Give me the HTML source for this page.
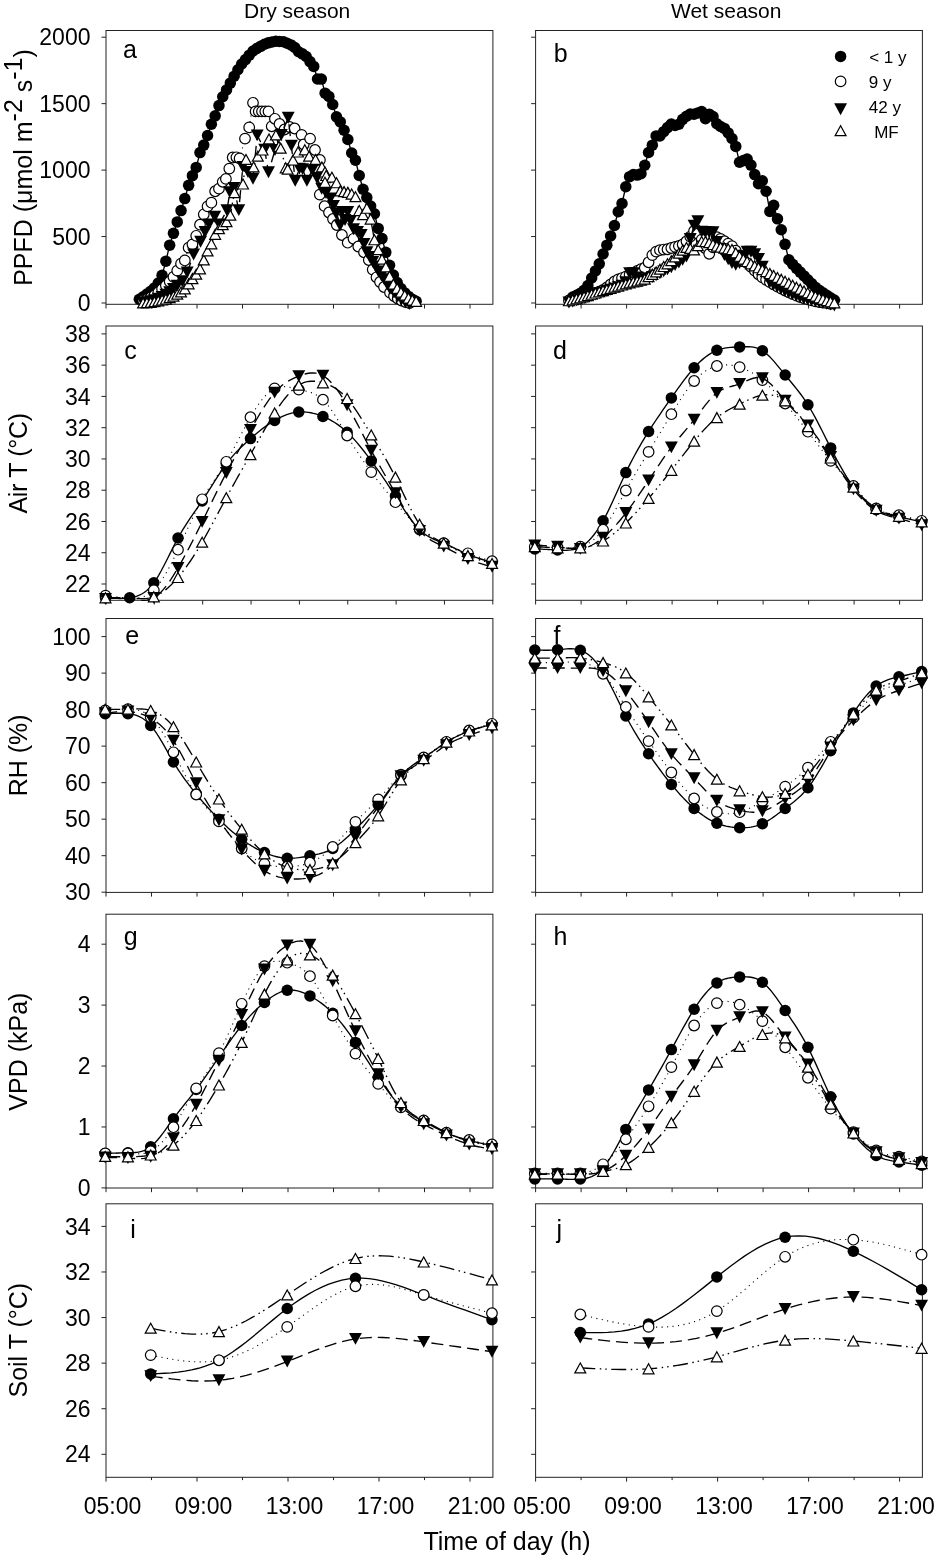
<!DOCTYPE html>
<html><head><meta charset="utf-8"><style>
html,body{margin:0;padding:0;background:#fff;overflow:hidden;}
svg{display:block;will-change:transform;}
text{font-family:"Liberation Sans",sans-serif;fill:#000;}
.t{font-size:23px;}
.ti{font-size:21px;}
.xl{font-size:25px;}
.yl{font-size:25px;}
.pl{font-size:25px;}
.lg{font-size:17px;}
</style></head><body>
<svg width="936" height="1556" viewBox="0 0 936 1556">
<rect width="936" height="1556" fill="#fff"/>
<rect x="106" y="30.5" width="386.9" height="273.8" fill="none" stroke="#222" stroke-width="1"/>
<line x1="101.5" y1="303" x2="106" y2="303" stroke="#222" stroke-width="1"/>
<line x1="101.5" y1="236.55" x2="106" y2="236.55" stroke="#222" stroke-width="1"/>
<line x1="101.5" y1="170.1" x2="106" y2="170.1" stroke="#222" stroke-width="1"/>
<line x1="101.5" y1="103.65" x2="106" y2="103.65" stroke="#222" stroke-width="1"/>
<line x1="101.5" y1="37.2" x2="106" y2="37.2" stroke="#222" stroke-width="1"/>
<line x1="106" y1="304.3" x2="106" y2="308.5" stroke="#222" stroke-width="1"/>
<line x1="151.5" y1="304.3" x2="151.5" y2="308.5" stroke="#222" stroke-width="1"/>
<line x1="197" y1="304.3" x2="197" y2="308.5" stroke="#222" stroke-width="1"/>
<line x1="242.5" y1="304.3" x2="242.5" y2="308.5" stroke="#222" stroke-width="1"/>
<line x1="288" y1="304.3" x2="288" y2="308.5" stroke="#222" stroke-width="1"/>
<line x1="333.5" y1="304.3" x2="333.5" y2="308.5" stroke="#222" stroke-width="1"/>
<line x1="379" y1="304.3" x2="379" y2="308.5" stroke="#222" stroke-width="1"/>
<line x1="424.5" y1="304.3" x2="424.5" y2="308.5" stroke="#222" stroke-width="1"/>
<line x1="470" y1="304.3" x2="470" y2="308.5" stroke="#222" stroke-width="1"/>
<rect x="535.6" y="30.5" width="386.8" height="273.8" fill="none" stroke="#222" stroke-width="1"/>
<line x1="531.1" y1="303" x2="535.6" y2="303" stroke="#222" stroke-width="1"/>
<line x1="531.1" y1="236.55" x2="535.6" y2="236.55" stroke="#222" stroke-width="1"/>
<line x1="531.1" y1="170.1" x2="535.6" y2="170.1" stroke="#222" stroke-width="1"/>
<line x1="531.1" y1="103.65" x2="535.6" y2="103.65" stroke="#222" stroke-width="1"/>
<line x1="531.1" y1="37.2" x2="535.6" y2="37.2" stroke="#222" stroke-width="1"/>
<line x1="535.6" y1="304.3" x2="535.6" y2="308.5" stroke="#222" stroke-width="1"/>
<line x1="581.1" y1="304.3" x2="581.1" y2="308.5" stroke="#222" stroke-width="1"/>
<line x1="626.6" y1="304.3" x2="626.6" y2="308.5" stroke="#222" stroke-width="1"/>
<line x1="672.1" y1="304.3" x2="672.1" y2="308.5" stroke="#222" stroke-width="1"/>
<line x1="717.6" y1="304.3" x2="717.6" y2="308.5" stroke="#222" stroke-width="1"/>
<line x1="763.1" y1="304.3" x2="763.1" y2="308.5" stroke="#222" stroke-width="1"/>
<line x1="808.6" y1="304.3" x2="808.6" y2="308.5" stroke="#222" stroke-width="1"/>
<line x1="854.1" y1="304.3" x2="854.1" y2="308.5" stroke="#222" stroke-width="1"/>
<line x1="899.6" y1="304.3" x2="899.6" y2="308.5" stroke="#222" stroke-width="1"/>
<text x="90.5" y="311.1" text-anchor="end" class="t">0</text>
<text x="90.5" y="244.65" text-anchor="end" class="t">500</text>
<text x="90.5" y="178.2" text-anchor="end" class="t">1000</text>
<text x="90.5" y="111.75" text-anchor="end" class="t">1500</text>
<text x="90.5" y="45.3" text-anchor="end" class="t">2000</text>
<rect x="106" y="326" width="386.9" height="274.3" fill="none" stroke="#222" stroke-width="1"/>
<line x1="101.5" y1="584" x2="106" y2="584" stroke="#222" stroke-width="1"/>
<line x1="101.5" y1="552.74" x2="106" y2="552.74" stroke="#222" stroke-width="1"/>
<line x1="101.5" y1="521.48" x2="106" y2="521.48" stroke="#222" stroke-width="1"/>
<line x1="101.5" y1="490.21" x2="106" y2="490.21" stroke="#222" stroke-width="1"/>
<line x1="101.5" y1="458.95" x2="106" y2="458.95" stroke="#222" stroke-width="1"/>
<line x1="101.5" y1="427.69" x2="106" y2="427.69" stroke="#222" stroke-width="1"/>
<line x1="101.5" y1="396.42" x2="106" y2="396.42" stroke="#222" stroke-width="1"/>
<line x1="101.5" y1="365.16" x2="106" y2="365.16" stroke="#222" stroke-width="1"/>
<line x1="101.5" y1="333.9" x2="106" y2="333.9" stroke="#222" stroke-width="1"/>
<line x1="106" y1="600.3" x2="106" y2="604.5" stroke="#222" stroke-width="1"/>
<line x1="154.35" y1="600.3" x2="154.35" y2="604.5" stroke="#222" stroke-width="1"/>
<line x1="202.7" y1="600.3" x2="202.7" y2="604.5" stroke="#222" stroke-width="1"/>
<line x1="251.05" y1="600.3" x2="251.05" y2="604.5" stroke="#222" stroke-width="1"/>
<line x1="299.4" y1="600.3" x2="299.4" y2="604.5" stroke="#222" stroke-width="1"/>
<line x1="347.75" y1="600.3" x2="347.75" y2="604.5" stroke="#222" stroke-width="1"/>
<line x1="396.1" y1="600.3" x2="396.1" y2="604.5" stroke="#222" stroke-width="1"/>
<line x1="444.45" y1="600.3" x2="444.45" y2="604.5" stroke="#222" stroke-width="1"/>
<line x1="492.8" y1="600.3" x2="492.8" y2="604.5" stroke="#222" stroke-width="1"/>
<rect x="535.6" y="326" width="386.8" height="274.3" fill="none" stroke="#222" stroke-width="1"/>
<line x1="531.1" y1="584" x2="535.6" y2="584" stroke="#222" stroke-width="1"/>
<line x1="531.1" y1="552.74" x2="535.6" y2="552.74" stroke="#222" stroke-width="1"/>
<line x1="531.1" y1="521.48" x2="535.6" y2="521.48" stroke="#222" stroke-width="1"/>
<line x1="531.1" y1="490.21" x2="535.6" y2="490.21" stroke="#222" stroke-width="1"/>
<line x1="531.1" y1="458.95" x2="535.6" y2="458.95" stroke="#222" stroke-width="1"/>
<line x1="531.1" y1="427.69" x2="535.6" y2="427.69" stroke="#222" stroke-width="1"/>
<line x1="531.1" y1="396.42" x2="535.6" y2="396.42" stroke="#222" stroke-width="1"/>
<line x1="531.1" y1="365.16" x2="535.6" y2="365.16" stroke="#222" stroke-width="1"/>
<line x1="531.1" y1="333.9" x2="535.6" y2="333.9" stroke="#222" stroke-width="1"/>
<line x1="535.6" y1="600.3" x2="535.6" y2="604.5" stroke="#222" stroke-width="1"/>
<line x1="581.1" y1="600.3" x2="581.1" y2="604.5" stroke="#222" stroke-width="1"/>
<line x1="626.6" y1="600.3" x2="626.6" y2="604.5" stroke="#222" stroke-width="1"/>
<line x1="672.1" y1="600.3" x2="672.1" y2="604.5" stroke="#222" stroke-width="1"/>
<line x1="717.6" y1="600.3" x2="717.6" y2="604.5" stroke="#222" stroke-width="1"/>
<line x1="763.1" y1="600.3" x2="763.1" y2="604.5" stroke="#222" stroke-width="1"/>
<line x1="808.6" y1="600.3" x2="808.6" y2="604.5" stroke="#222" stroke-width="1"/>
<line x1="854.1" y1="600.3" x2="854.1" y2="604.5" stroke="#222" stroke-width="1"/>
<line x1="899.6" y1="600.3" x2="899.6" y2="604.5" stroke="#222" stroke-width="1"/>
<text x="90.5" y="592.1" text-anchor="end" class="t">22</text>
<text x="90.5" y="560.84" text-anchor="end" class="t">24</text>
<text x="90.5" y="529.58" text-anchor="end" class="t">26</text>
<text x="90.5" y="498.31" text-anchor="end" class="t">28</text>
<text x="90.5" y="467.05" text-anchor="end" class="t">30</text>
<text x="90.5" y="435.79" text-anchor="end" class="t">32</text>
<text x="90.5" y="404.52" text-anchor="end" class="t">34</text>
<text x="90.5" y="373.26" text-anchor="end" class="t">36</text>
<text x="90.5" y="342" text-anchor="end" class="t">38</text>
<rect x="106" y="618.5" width="386.9" height="273.9" fill="none" stroke="#222" stroke-width="1"/>
<line x1="101.5" y1="892.2" x2="106" y2="892.2" stroke="#222" stroke-width="1"/>
<line x1="101.5" y1="855.69" x2="106" y2="855.69" stroke="#222" stroke-width="1"/>
<line x1="101.5" y1="819.17" x2="106" y2="819.17" stroke="#222" stroke-width="1"/>
<line x1="101.5" y1="782.66" x2="106" y2="782.66" stroke="#222" stroke-width="1"/>
<line x1="101.5" y1="746.14" x2="106" y2="746.14" stroke="#222" stroke-width="1"/>
<line x1="101.5" y1="709.63" x2="106" y2="709.63" stroke="#222" stroke-width="1"/>
<line x1="101.5" y1="673.11" x2="106" y2="673.11" stroke="#222" stroke-width="1"/>
<line x1="101.5" y1="636.6" x2="106" y2="636.6" stroke="#222" stroke-width="1"/>
<line x1="106" y1="892.4" x2="106" y2="896.6" stroke="#222" stroke-width="1"/>
<line x1="151.5" y1="892.4" x2="151.5" y2="896.6" stroke="#222" stroke-width="1"/>
<line x1="197" y1="892.4" x2="197" y2="896.6" stroke="#222" stroke-width="1"/>
<line x1="242.5" y1="892.4" x2="242.5" y2="896.6" stroke="#222" stroke-width="1"/>
<line x1="288" y1="892.4" x2="288" y2="896.6" stroke="#222" stroke-width="1"/>
<line x1="333.5" y1="892.4" x2="333.5" y2="896.6" stroke="#222" stroke-width="1"/>
<line x1="379" y1="892.4" x2="379" y2="896.6" stroke="#222" stroke-width="1"/>
<line x1="424.5" y1="892.4" x2="424.5" y2="896.6" stroke="#222" stroke-width="1"/>
<line x1="470" y1="892.4" x2="470" y2="896.6" stroke="#222" stroke-width="1"/>
<rect x="535.6" y="618.5" width="386.8" height="273.9" fill="none" stroke="#222" stroke-width="1"/>
<line x1="531.1" y1="892.2" x2="535.6" y2="892.2" stroke="#222" stroke-width="1"/>
<line x1="531.1" y1="855.69" x2="535.6" y2="855.69" stroke="#222" stroke-width="1"/>
<line x1="531.1" y1="819.17" x2="535.6" y2="819.17" stroke="#222" stroke-width="1"/>
<line x1="531.1" y1="782.66" x2="535.6" y2="782.66" stroke="#222" stroke-width="1"/>
<line x1="531.1" y1="746.14" x2="535.6" y2="746.14" stroke="#222" stroke-width="1"/>
<line x1="531.1" y1="709.63" x2="535.6" y2="709.63" stroke="#222" stroke-width="1"/>
<line x1="531.1" y1="673.11" x2="535.6" y2="673.11" stroke="#222" stroke-width="1"/>
<line x1="531.1" y1="636.6" x2="535.6" y2="636.6" stroke="#222" stroke-width="1"/>
<line x1="535.6" y1="892.4" x2="535.6" y2="896.6" stroke="#222" stroke-width="1"/>
<line x1="581.1" y1="892.4" x2="581.1" y2="896.6" stroke="#222" stroke-width="1"/>
<line x1="626.6" y1="892.4" x2="626.6" y2="896.6" stroke="#222" stroke-width="1"/>
<line x1="672.1" y1="892.4" x2="672.1" y2="896.6" stroke="#222" stroke-width="1"/>
<line x1="717.6" y1="892.4" x2="717.6" y2="896.6" stroke="#222" stroke-width="1"/>
<line x1="763.1" y1="892.4" x2="763.1" y2="896.6" stroke="#222" stroke-width="1"/>
<line x1="808.6" y1="892.4" x2="808.6" y2="896.6" stroke="#222" stroke-width="1"/>
<line x1="854.1" y1="892.4" x2="854.1" y2="896.6" stroke="#222" stroke-width="1"/>
<line x1="899.6" y1="892.4" x2="899.6" y2="896.6" stroke="#222" stroke-width="1"/>
<text x="90.5" y="900.3" text-anchor="end" class="t">30</text>
<text x="90.5" y="863.79" text-anchor="end" class="t">40</text>
<text x="90.5" y="827.27" text-anchor="end" class="t">50</text>
<text x="90.5" y="790.76" text-anchor="end" class="t">60</text>
<text x="90.5" y="754.24" text-anchor="end" class="t">70</text>
<text x="90.5" y="717.73" text-anchor="end" class="t">80</text>
<text x="90.5" y="681.21" text-anchor="end" class="t">90</text>
<text x="90.5" y="644.7" text-anchor="end" class="t">100</text>
<rect x="106" y="914.2" width="386.9" height="273.8" fill="none" stroke="#222" stroke-width="1"/>
<line x1="101.5" y1="1187.9" x2="106" y2="1187.9" stroke="#222" stroke-width="1"/>
<line x1="101.5" y1="1126.98" x2="106" y2="1126.98" stroke="#222" stroke-width="1"/>
<line x1="101.5" y1="1066.05" x2="106" y2="1066.05" stroke="#222" stroke-width="1"/>
<line x1="101.5" y1="1005.12" x2="106" y2="1005.12" stroke="#222" stroke-width="1"/>
<line x1="101.5" y1="944.2" x2="106" y2="944.2" stroke="#222" stroke-width="1"/>
<line x1="106" y1="1188" x2="106" y2="1192.2" stroke="#222" stroke-width="1"/>
<line x1="151.5" y1="1188" x2="151.5" y2="1192.2" stroke="#222" stroke-width="1"/>
<line x1="197" y1="1188" x2="197" y2="1192.2" stroke="#222" stroke-width="1"/>
<line x1="242.5" y1="1188" x2="242.5" y2="1192.2" stroke="#222" stroke-width="1"/>
<line x1="288" y1="1188" x2="288" y2="1192.2" stroke="#222" stroke-width="1"/>
<line x1="333.5" y1="1188" x2="333.5" y2="1192.2" stroke="#222" stroke-width="1"/>
<line x1="379" y1="1188" x2="379" y2="1192.2" stroke="#222" stroke-width="1"/>
<line x1="424.5" y1="1188" x2="424.5" y2="1192.2" stroke="#222" stroke-width="1"/>
<line x1="470" y1="1188" x2="470" y2="1192.2" stroke="#222" stroke-width="1"/>
<rect x="535.6" y="914.2" width="386.8" height="273.8" fill="none" stroke="#222" stroke-width="1"/>
<line x1="531.1" y1="1187.9" x2="535.6" y2="1187.9" stroke="#222" stroke-width="1"/>
<line x1="531.1" y1="1126.98" x2="535.6" y2="1126.98" stroke="#222" stroke-width="1"/>
<line x1="531.1" y1="1066.05" x2="535.6" y2="1066.05" stroke="#222" stroke-width="1"/>
<line x1="531.1" y1="1005.12" x2="535.6" y2="1005.12" stroke="#222" stroke-width="1"/>
<line x1="531.1" y1="944.2" x2="535.6" y2="944.2" stroke="#222" stroke-width="1"/>
<line x1="535.6" y1="1188" x2="535.6" y2="1192.2" stroke="#222" stroke-width="1"/>
<line x1="581.1" y1="1188" x2="581.1" y2="1192.2" stroke="#222" stroke-width="1"/>
<line x1="626.6" y1="1188" x2="626.6" y2="1192.2" stroke="#222" stroke-width="1"/>
<line x1="672.1" y1="1188" x2="672.1" y2="1192.2" stroke="#222" stroke-width="1"/>
<line x1="717.6" y1="1188" x2="717.6" y2="1192.2" stroke="#222" stroke-width="1"/>
<line x1="763.1" y1="1188" x2="763.1" y2="1192.2" stroke="#222" stroke-width="1"/>
<line x1="808.6" y1="1188" x2="808.6" y2="1192.2" stroke="#222" stroke-width="1"/>
<line x1="854.1" y1="1188" x2="854.1" y2="1192.2" stroke="#222" stroke-width="1"/>
<line x1="899.6" y1="1188" x2="899.6" y2="1192.2" stroke="#222" stroke-width="1"/>
<text x="90.5" y="1196" text-anchor="end" class="t">0</text>
<text x="90.5" y="1135.08" text-anchor="end" class="t">1</text>
<text x="90.5" y="1074.15" text-anchor="end" class="t">2</text>
<text x="90.5" y="1013.23" text-anchor="end" class="t">3</text>
<text x="90.5" y="952.3" text-anchor="end" class="t">4</text>
<rect x="106" y="1203.8" width="386.9" height="273.5" fill="none" stroke="#222" stroke-width="1"/>
<line x1="101.5" y1="1454.3" x2="106" y2="1454.3" stroke="#222" stroke-width="1"/>
<line x1="101.5" y1="1408.72" x2="106" y2="1408.72" stroke="#222" stroke-width="1"/>
<line x1="101.5" y1="1363.14" x2="106" y2="1363.14" stroke="#222" stroke-width="1"/>
<line x1="101.5" y1="1317.56" x2="106" y2="1317.56" stroke="#222" stroke-width="1"/>
<line x1="101.5" y1="1271.98" x2="106" y2="1271.98" stroke="#222" stroke-width="1"/>
<line x1="101.5" y1="1226.4" x2="106" y2="1226.4" stroke="#222" stroke-width="1"/>
<line x1="106" y1="1477.3" x2="106" y2="1481.6" stroke="#222" stroke-width="1"/>
<line x1="151.5" y1="1477.3" x2="151.5" y2="1480.1" stroke="#222" stroke-width="1"/>
<line x1="197" y1="1477.3" x2="197" y2="1481.6" stroke="#222" stroke-width="1"/>
<line x1="242.5" y1="1477.3" x2="242.5" y2="1480.1" stroke="#222" stroke-width="1"/>
<line x1="288" y1="1477.3" x2="288" y2="1481.6" stroke="#222" stroke-width="1"/>
<line x1="333.5" y1="1477.3" x2="333.5" y2="1480.1" stroke="#222" stroke-width="1"/>
<line x1="379" y1="1477.3" x2="379" y2="1481.6" stroke="#222" stroke-width="1"/>
<line x1="424.5" y1="1477.3" x2="424.5" y2="1480.1" stroke="#222" stroke-width="1"/>
<line x1="470" y1="1477.3" x2="470" y2="1481.6" stroke="#222" stroke-width="1"/>
<rect x="535.6" y="1203.8" width="386.8" height="273.5" fill="none" stroke="#222" stroke-width="1"/>
<line x1="531.1" y1="1454.3" x2="535.6" y2="1454.3" stroke="#222" stroke-width="1"/>
<line x1="531.1" y1="1408.72" x2="535.6" y2="1408.72" stroke="#222" stroke-width="1"/>
<line x1="531.1" y1="1363.14" x2="535.6" y2="1363.14" stroke="#222" stroke-width="1"/>
<line x1="531.1" y1="1317.56" x2="535.6" y2="1317.56" stroke="#222" stroke-width="1"/>
<line x1="531.1" y1="1271.98" x2="535.6" y2="1271.98" stroke="#222" stroke-width="1"/>
<line x1="531.1" y1="1226.4" x2="535.6" y2="1226.4" stroke="#222" stroke-width="1"/>
<line x1="535.6" y1="1477.3" x2="535.6" y2="1481.6" stroke="#222" stroke-width="1"/>
<line x1="581.1" y1="1477.3" x2="581.1" y2="1480.1" stroke="#222" stroke-width="1"/>
<line x1="626.6" y1="1477.3" x2="626.6" y2="1481.6" stroke="#222" stroke-width="1"/>
<line x1="672.1" y1="1477.3" x2="672.1" y2="1480.1" stroke="#222" stroke-width="1"/>
<line x1="717.6" y1="1477.3" x2="717.6" y2="1481.6" stroke="#222" stroke-width="1"/>
<line x1="763.1" y1="1477.3" x2="763.1" y2="1480.1" stroke="#222" stroke-width="1"/>
<line x1="808.6" y1="1477.3" x2="808.6" y2="1481.6" stroke="#222" stroke-width="1"/>
<line x1="854.1" y1="1477.3" x2="854.1" y2="1480.1" stroke="#222" stroke-width="1"/>
<line x1="899.6" y1="1477.3" x2="899.6" y2="1481.6" stroke="#222" stroke-width="1"/>
<text x="90.5" y="1462.4" text-anchor="end" class="t">24</text>
<text x="90.5" y="1416.82" text-anchor="end" class="t">26</text>
<text x="90.5" y="1371.24" text-anchor="end" class="t">28</text>
<text x="90.5" y="1325.66" text-anchor="end" class="t">30</text>
<text x="90.5" y="1280.08" text-anchor="end" class="t">32</text>
<text x="90.5" y="1234.5" text-anchor="end" class="t">34</text>
<text x="112.5" y="1513.5" text-anchor="middle" class="t">05:00</text>
<text x="203.5" y="1513.5" text-anchor="middle" class="t">09:00</text>
<text x="294.5" y="1513.5" text-anchor="middle" class="t">13:00</text>
<text x="385.5" y="1513.5" text-anchor="middle" class="t">17:00</text>
<text x="476.5" y="1513.5" text-anchor="middle" class="t">21:00</text>
<text x="542.1" y="1513.5" text-anchor="middle" class="t">05:00</text>
<text x="633.1" y="1513.5" text-anchor="middle" class="t">09:00</text>
<text x="724.1" y="1513.5" text-anchor="middle" class="t">13:00</text>
<text x="815.1" y="1513.5" text-anchor="middle" class="t">17:00</text>
<text x="906.1" y="1513.5" text-anchor="middle" class="t">21:00</text>
<text x="297.2" y="18" text-anchor="middle" class="ti">Dry season</text>
<text x="726.2" y="18" text-anchor="middle" class="ti">Wet season</text>
<text x="507" y="1549.8" text-anchor="middle" class="xl">Time of day (h)</text>
<text transform="translate(32,167.5) rotate(-90)" text-anchor="middle" class="yl">PPFD (μmol m<tspan dy="-10">-2</tspan><tspan dy="10"> s</tspan><tspan dy="-10">-1</tspan><tspan dy="10">)</tspan></text>
<text transform="translate(26.8,463.4) rotate(-90)" text-anchor="middle" class="yl" letter-spacing="-0.33">Air T (°C)</text>
<text transform="translate(26.8,755.3) rotate(-90)" text-anchor="middle" class="yl">RH (%)</text>
<text transform="translate(26.8,1051.6) rotate(-90)" text-anchor="middle" class="yl">VPD (kPa)</text>
<text transform="translate(26.8,1340.2) rotate(-90)" text-anchor="middle" class="yl">Soil T (°C)</text>
<text x="123" y="57.6" class="pl">a</text>
<text x="553.8" y="61.5" class="pl">b</text>
<text x="124.2" y="358.7" class="pl">c</text>
<text x="552.9" y="358.7" class="pl">d</text>
<text x="125.3" y="643.6" class="pl">e</text>
<text x="553.5" y="644" class="pl">f</text>
<text x="123.8" y="945" class="pl">g</text>
<text x="553.5" y="944.9" class="pl">h</text>
<text x="130.3" y="1237.6" class="pl">i</text>
<text x="556.6" y="1237.6" class="pl">j</text>
<path d="M105.5 597.8 L107.92 597.97 L110.33 598.13 L112.75 598.27 L115.16 598.38 L117.58 598.44 L120 598.46 L122.41 598.41 L124.83 598.29 L127.24 598.09 L129.66 597.8 L132.08 597.4 L134.49 596.86 L136.91 596.13 L139.32 595.19 L141.74 593.99 L144.16 592.5 L146.57 590.67 L148.99 588.47 L151.4 585.86 L153.82 582.8 L156.24 579.27 L158.65 575.33 L161.07 571.05 L163.48 566.52 L165.9 561.79 L168.32 556.95 L170.73 552.08 L173.15 547.25 L175.56 542.53 L177.98 538 L180.4 533.72 L182.81 529.66 L185.23 525.8 L187.64 522.09 L190.06 518.49 L192.48 514.97 L194.89 511.49 L197.31 508.01 L199.72 504.49 L202.14 500.9 L204.56 497.21 L206.97 493.44 L209.39 489.62 L211.8 485.78 L214.22 481.95 L216.64 478.16 L219.05 474.44 L221.47 470.82 L223.88 467.33 L226.3 464 L228.72 460.86 L231.13 457.89 L233.55 455.08 L235.96 452.42 L238.38 449.89 L240.8 447.47 L243.21 445.14 L245.63 442.9 L248.04 440.73 L250.46 438.6 L252.88 436.51 L255.29 434.47 L257.71 432.47 L260.12 430.53 L262.54 428.65 L264.96 426.83 L267.37 425.1 L269.79 423.44 L272.2 421.87 L274.62 420.4 L277.04 419.03 L279.45 417.77 L281.87 416.61 L284.28 415.57 L286.7 414.66 L289.12 413.86 L291.53 413.19 L293.95 412.66 L296.36 412.26 L298.78 412 L301.2 411.89 L303.61 411.91 L306.03 412.07 L308.44 412.36 L310.86 412.77 L313.28 413.3 L315.69 413.95 L318.11 414.7 L320.52 415.55 L322.94 416.5 L325.36 417.54 L327.77 418.69 L330.19 419.93 L332.6 421.29 L335.02 422.77 L337.44 424.38 L339.85 426.12 L342.27 427.99 L344.68 430.02 L347.1 432.2 L349.52 434.54 L351.93 437.02 L354.35 439.65 L356.76 442.4 L359.18 445.26 L361.6 448.23 L364.01 451.29 L366.43 454.43 L368.84 457.64 L371.26 460.9 L373.68 464.21 L376.09 467.57 L378.51 470.97 L380.92 474.41 L383.34 477.91 L385.76 481.45 L388.17 485.04 L390.59 488.68 L393 492.36 L395.42 496.1 L397.84 499.88 L400.25 503.67 L402.67 507.43 L405.08 511.13 L407.5 514.72 L409.92 518.18 L412.33 521.45 L414.75 524.5 L417.16 527.3 L419.58 529.8 L422 531.98 L424.41 533.87 L426.83 535.5 L429.24 536.92 L431.66 538.17 L434.08 539.28 L436.49 540.3 L438.91 541.27 L441.32 542.22 L443.74 543.2 L446.16 544.24 L448.57 545.33 L450.99 546.46 L453.4 547.62 L455.82 548.8 L458.24 549.97 L460.65 551.13 L463.07 552.26 L465.48 553.36 L467.9 554.4 L470.32 555.38 L472.73 556.3 L475.15 557.16 L477.56 557.98 L479.98 558.76 L482.4 559.51 L484.81 560.23 L487.23 560.93 L489.64 561.62 L492.06 562.3" fill="none" stroke="#000" stroke-width="1.35"/>
<circle cx="105.5" cy="597.8" r="5.75" fill="#000"/>
<circle cx="129.66" cy="597.8" r="5.75" fill="#000"/>
<circle cx="153.82" cy="582.8" r="5.75" fill="#000"/>
<circle cx="177.98" cy="538" r="5.75" fill="#000"/>
<circle cx="202.14" cy="500.9" r="5.75" fill="#000"/>
<circle cx="226.3" cy="464" r="5.75" fill="#000"/>
<circle cx="250.46" cy="438.6" r="5.75" fill="#000"/>
<circle cx="274.62" cy="420.4" r="5.75" fill="#000"/>
<circle cx="298.78" cy="412" r="5.75" fill="#000"/>
<circle cx="322.94" cy="416.5" r="5.75" fill="#000"/>
<circle cx="347.1" cy="432.2" r="5.75" fill="#000"/>
<circle cx="371.26" cy="460.9" r="5.75" fill="#000"/>
<circle cx="395.42" cy="496.1" r="5.75" fill="#000"/>
<circle cx="419.58" cy="529.8" r="5.75" fill="#000"/>
<circle cx="443.74" cy="543.2" r="5.75" fill="#000"/>
<circle cx="467.9" cy="554.4" r="5.75" fill="#000"/>
<circle cx="492.06" cy="562.3" r="5.75" fill="#000"/>
<path d="M105.5 595.6 L107.92 595.9 L110.33 596.2 L112.75 596.49 L115.16 596.77 L117.58 597.03 L120 597.27 L122.41 597.5 L124.83 597.7 L127.24 597.86 L129.66 598 L132.08 598.09 L134.49 598.11 L136.91 598 L139.32 597.73 L141.74 597.25 L144.16 596.52 L146.57 595.51 L148.99 594.16 L151.4 592.44 L153.82 590.3 L156.24 587.71 L158.65 584.71 L161.07 581.31 L163.48 577.56 L165.9 573.5 L168.32 569.16 L170.73 564.57 L173.15 559.77 L175.56 554.8 L177.98 549.7 L180.4 544.49 L182.81 539.23 L185.23 533.93 L187.64 528.65 L190.06 523.42 L192.48 518.27 L194.89 513.25 L197.31 508.39 L199.72 503.73 L202.14 499.3 L204.56 495.13 L206.97 491.19 L209.39 487.43 L211.8 483.79 L214.22 480.22 L216.64 476.68 L219.05 473.12 L221.47 469.49 L223.88 465.73 L226.3 461.8 L228.72 457.66 L231.13 453.35 L233.55 448.89 L235.96 444.33 L238.38 439.72 L240.8 435.09 L243.21 430.48 L245.63 425.93 L248.04 421.49 L250.46 417.2 L252.88 413.09 L255.29 409.19 L257.71 405.53 L260.12 402.12 L262.54 398.99 L264.96 396.17 L267.37 393.67 L269.79 391.53 L272.2 389.77 L274.62 388.4 L277.04 387.44 L279.45 386.86 L281.87 386.6 L284.28 386.61 L286.7 386.85 L289.12 387.25 L291.53 387.78 L293.95 388.38 L296.36 389 L298.78 389.6 L301.2 390.13 L303.61 390.64 L306.03 391.17 L308.44 391.77 L310.86 392.49 L313.28 393.39 L315.69 394.51 L318.11 395.9 L320.52 397.61 L322.94 399.7 L325.36 402.19 L327.77 405.06 L330.19 408.25 L332.6 411.72 L335.02 415.41 L337.44 419.28 L339.85 423.27 L342.27 427.34 L344.68 431.43 L347.1 435.5 L349.52 439.5 L351.93 443.43 L354.35 447.29 L356.76 451.07 L359.18 454.77 L361.6 458.4 L364.01 461.94 L366.43 465.41 L368.84 468.79 L371.26 472.1 L373.68 475.32 L376.09 478.48 L378.51 481.57 L380.92 484.6 L383.34 487.59 L385.76 490.55 L388.17 493.48 L390.59 496.39 L393 499.29 L395.42 502.2 L397.84 505.11 L400.25 508.02 L402.67 510.9 L405.08 513.73 L407.5 516.5 L409.92 519.18 L412.33 521.77 L414.75 524.22 L417.16 526.54 L419.58 528.7 L422 530.68 L424.41 532.51 L426.83 534.18 L429.24 535.73 L431.66 537.16 L434.08 538.49 L436.49 539.75 L438.91 540.94 L441.32 542.09 L443.74 543.2 L446.16 544.3 L448.57 545.38 L450.99 546.45 L453.4 547.49 L455.82 548.52 L458.24 549.53 L460.65 550.51 L463.07 551.47 L465.48 552.4 L467.9 553.3 L470.32 554.17 L472.73 555.02 L475.15 555.85 L477.56 556.65 L479.98 557.43 L482.4 558.21 L484.81 558.96 L487.23 559.71 L489.64 560.46 L492.06 561.2" fill="none" stroke="#000" stroke-width="1.1" stroke-dasharray="1.1 4.4"/>
<circle cx="105.5" cy="595.6" r="5.3" fill="#fff" stroke="#000" stroke-width="1.2"/>
<circle cx="153.82" cy="590.3" r="5.3" fill="#fff" stroke="#000" stroke-width="1.2"/>
<circle cx="177.98" cy="549.7" r="5.3" fill="#fff" stroke="#000" stroke-width="1.2"/>
<circle cx="202.14" cy="499.3" r="5.3" fill="#fff" stroke="#000" stroke-width="1.2"/>
<circle cx="226.3" cy="461.8" r="5.3" fill="#fff" stroke="#000" stroke-width="1.2"/>
<circle cx="250.46" cy="417.2" r="5.3" fill="#fff" stroke="#000" stroke-width="1.2"/>
<circle cx="274.62" cy="388.4" r="5.3" fill="#fff" stroke="#000" stroke-width="1.2"/>
<circle cx="298.78" cy="389.6" r="5.3" fill="#fff" stroke="#000" stroke-width="1.2"/>
<circle cx="322.94" cy="399.7" r="5.3" fill="#fff" stroke="#000" stroke-width="1.2"/>
<circle cx="347.1" cy="435.5" r="5.3" fill="#fff" stroke="#000" stroke-width="1.2"/>
<circle cx="371.26" cy="472.1" r="5.3" fill="#fff" stroke="#000" stroke-width="1.2"/>
<circle cx="395.42" cy="502.2" r="5.3" fill="#fff" stroke="#000" stroke-width="1.2"/>
<circle cx="419.58" cy="528.7" r="5.3" fill="#fff" stroke="#000" stroke-width="1.2"/>
<circle cx="443.74" cy="543.2" r="5.3" fill="#fff" stroke="#000" stroke-width="1.2"/>
<circle cx="467.9" cy="553.3" r="5.3" fill="#fff" stroke="#000" stroke-width="1.2"/>
<circle cx="492.06" cy="561.2" r="5.3" fill="#fff" stroke="#000" stroke-width="1.2"/>
<path d="M105.5 598.9 L107.92 598.68 L110.33 598.48 L112.75 598.3 L115.16 598.14 L117.58 598.04 L120 597.98 L122.41 597.99 L124.83 598.07 L127.24 598.24 L129.66 598.5 L132.08 598.86 L134.49 599.27 L136.91 599.68 L139.32 600.03 L141.74 600.27 L144.16 600.34 L146.57 600.2 L148.99 599.78 L151.4 599.03 L153.82 597.9 L156.24 596.35 L158.65 594.39 L161.07 592.05 L163.48 589.38 L165.9 586.39 L168.32 583.12 L170.73 579.61 L173.15 575.88 L175.56 571.97 L177.98 567.9 L180.4 563.71 L182.81 559.4 L185.23 555 L187.64 550.49 L190.06 545.9 L192.48 541.23 L194.89 536.48 L197.31 531.67 L199.72 526.81 L202.14 521.9 L204.56 516.95 L206.97 511.98 L209.39 507 L211.8 502.02 L214.22 497.05 L216.64 492.12 L219.05 487.24 L221.47 482.41 L223.88 477.66 L226.3 473 L228.72 468.44 L231.13 463.96 L233.55 459.57 L235.96 455.24 L238.38 450.97 L240.8 446.73 L243.21 442.53 L245.63 438.35 L248.04 434.18 L250.46 430 L252.88 425.81 L255.29 421.64 L257.71 417.51 L260.12 413.46 L262.54 409.52 L264.96 405.73 L267.37 402.1 L269.79 398.69 L272.2 395.51 L274.62 392.6 L277.04 389.98 L279.45 387.64 L281.87 385.56 L284.28 383.71 L286.7 382.06 L289.12 380.59 L291.53 379.29 L293.95 378.12 L296.36 377.07 L298.78 376.1 L301.2 375.21 L303.61 374.41 L306.03 373.75 L308.44 373.26 L310.86 372.96 L313.28 372.89 L315.69 373.09 L318.11 373.58 L320.52 374.41 L322.94 375.6 L325.36 377.18 L327.77 379.13 L330.19 381.43 L332.6 384.06 L335.02 386.99 L337.44 390.19 L339.85 393.65 L342.27 397.34 L344.68 401.23 L347.1 405.3 L349.52 409.53 L351.93 413.89 L354.35 418.36 L356.76 422.91 L359.18 427.53 L361.6 432.17 L364.01 436.83 L366.43 441.47 L368.84 446.06 L371.26 450.6 L373.68 455.05 L376.09 459.43 L378.51 463.74 L380.92 468 L383.34 472.22 L385.76 476.42 L388.17 480.6 L390.59 484.79 L393 488.98 L395.42 493.2 L397.84 497.45 L400.25 501.69 L402.67 505.9 L405.08 510.03 L407.5 514.03 L409.92 517.88 L412.33 521.53 L414.75 524.94 L417.16 528.08 L419.58 530.9 L422 533.38 L424.41 535.55 L426.83 537.45 L429.24 539.11 L431.66 540.59 L434.08 541.92 L436.49 543.14 L438.91 544.31 L441.32 545.44 L443.74 546.6 L446.16 547.81 L448.57 549.06 L450.99 550.34 L453.4 551.65 L455.82 552.95 L458.24 554.24 L460.65 555.51 L463.07 556.73 L465.48 557.9 L467.9 559 L470.32 560.02 L472.73 560.96 L475.15 561.84 L477.56 562.66 L479.98 563.43 L482.4 564.15 L484.81 564.84 L487.23 565.51 L489.64 566.16 L492.06 566.8" fill="none" stroke="#000" stroke-width="1.35" stroke-dasharray="12 6"/>
<path d="M99.05 592.95H111.95L105.5 604.85Z" fill="#000"/>
<path d="M147.37 591.95H160.27L153.82 603.85Z" fill="#000"/>
<path d="M171.53 561.95H184.43L177.98 573.85Z" fill="#000"/>
<path d="M195.69 515.95H208.59L202.14 527.85Z" fill="#000"/>
<path d="M219.85 467.05H232.75L226.3 478.95Z" fill="#000"/>
<path d="M244.01 424.05H256.91L250.46 435.95Z" fill="#000"/>
<path d="M268.17 386.65H281.07L274.62 398.55Z" fill="#000"/>
<path d="M292.33 370.15H305.23L298.78 382.05Z" fill="#000"/>
<path d="M316.49 369.65H329.39L322.94 381.55Z" fill="#000"/>
<path d="M340.65 399.35H353.55L347.1 411.25Z" fill="#000"/>
<path d="M364.81 444.65H377.71L371.26 456.55Z" fill="#000"/>
<path d="M388.97 487.25H401.87L395.42 499.15Z" fill="#000"/>
<path d="M413.13 524.95H426.03L419.58 536.85Z" fill="#000"/>
<path d="M437.29 540.65H450.19L443.74 552.55Z" fill="#000"/>
<path d="M461.45 553.05H474.35L467.9 564.95Z" fill="#000"/>
<path d="M485.61 560.85H498.51L492.06 572.75Z" fill="#000"/>
<path d="M105.5 597.8 L107.92 597.75 L110.33 597.71 L112.75 597.68 L115.16 597.66 L117.58 597.65 L120 597.66 L122.41 597.7 L124.83 597.77 L127.24 597.87 L129.66 598 L132.08 598.17 L134.49 598.35 L136.91 598.51 L139.32 598.63 L141.74 598.67 L144.16 598.62 L146.57 598.43 L148.99 598.08 L151.4 597.55 L153.82 596.8 L156.24 595.81 L158.65 594.59 L161.07 593.15 L163.48 591.48 L165.9 589.61 L168.32 587.55 L170.73 585.29 L173.15 582.86 L175.56 580.26 L177.98 577.5 L180.4 574.59 L182.81 571.53 L185.23 568.33 L187.64 564.98 L190.06 561.5 L192.48 557.89 L194.89 554.15 L197.31 550.29 L199.72 546.3 L202.14 542.2 L204.56 537.98 L206.97 533.67 L209.39 529.28 L211.8 524.82 L214.22 520.32 L216.64 515.78 L219.05 511.24 L221.47 506.7 L223.88 502.18 L226.3 497.7 L228.72 493.27 L231.13 488.89 L233.55 484.55 L235.96 480.24 L238.38 475.95 L240.8 471.68 L243.21 467.42 L245.63 463.16 L248.04 458.89 L250.46 454.6 L252.88 450.29 L255.29 445.98 L257.71 441.67 L260.12 437.38 L262.54 433.13 L264.96 428.94 L267.37 424.81 L269.79 420.77 L272.2 416.83 L274.62 413 L277.04 409.31 L279.45 405.76 L281.87 402.39 L284.28 399.2 L286.7 396.22 L289.12 393.47 L291.53 390.96 L293.95 388.72 L296.36 386.76 L298.78 385.1 L301.2 383.76 L303.61 382.72 L306.03 381.96 L308.44 381.46 L310.86 381.21 L313.28 381.17 L315.69 381.33 L318.11 381.67 L320.52 382.17 L322.94 382.8 L325.36 383.56 L327.77 384.45 L330.19 385.49 L332.6 386.71 L335.02 388.1 L337.44 389.71 L339.85 391.53 L342.27 393.59 L344.68 395.91 L347.1 398.5 L349.52 401.37 L351.93 404.5 L354.35 407.86 L356.76 411.41 L359.18 415.11 L361.6 418.95 L364.01 422.88 L366.43 426.87 L368.84 430.88 L371.26 434.9 L373.68 438.89 L376.09 442.86 L378.51 446.85 L380.92 450.87 L383.34 454.96 L385.76 459.12 L388.17 463.4 L390.59 467.8 L393 472.36 L395.42 477.1 L397.84 482.03 L400.25 487.09 L402.67 492.22 L405.08 497.34 L407.5 502.4 L409.92 507.31 L412.33 512.02 L414.75 516.45 L417.16 520.53 L419.58 524.2 L422 527.41 L424.41 530.18 L426.83 532.58 L429.24 534.66 L431.66 536.46 L434.08 538.04 L436.49 539.45 L438.91 540.75 L441.32 541.98 L443.74 543.2 L446.16 544.45 L448.57 545.73 L450.99 547.03 L453.4 548.34 L455.82 549.64 L458.24 550.92 L460.65 552.16 L463.07 553.37 L465.48 554.52 L467.9 555.6 L470.32 556.61 L472.73 557.54 L475.15 558.41 L477.56 559.23 L479.98 560 L482.4 560.72 L484.81 561.42 L487.23 562.09 L489.64 562.75 L492.06 563.4" fill="none" stroke="#000" stroke-width="1.35" stroke-dasharray="15 4.5 1.5 4 1.5 4.5"/>
<path d="M100.05 602.8H110.95L105.5 592.8Z" fill="#fff" stroke="#000" stroke-width="1.2" stroke-linejoin="miter"/>
<path d="M148.37 601.8H159.27L153.82 591.8Z" fill="#fff" stroke="#000" stroke-width="1.2" stroke-linejoin="miter"/>
<path d="M172.53 582.5H183.43L177.98 572.5Z" fill="#fff" stroke="#000" stroke-width="1.2" stroke-linejoin="miter"/>
<path d="M196.69 547.2H207.59L202.14 537.2Z" fill="#fff" stroke="#000" stroke-width="1.2" stroke-linejoin="miter"/>
<path d="M220.85 502.7H231.75L226.3 492.7Z" fill="#fff" stroke="#000" stroke-width="1.2" stroke-linejoin="miter"/>
<path d="M245.01 459.6H255.91L250.46 449.6Z" fill="#fff" stroke="#000" stroke-width="1.2" stroke-linejoin="miter"/>
<path d="M269.17 418H280.07L274.62 408Z" fill="#fff" stroke="#000" stroke-width="1.2" stroke-linejoin="miter"/>
<path d="M293.33 390.1H304.23L298.78 380.1Z" fill="#fff" stroke="#000" stroke-width="1.2" stroke-linejoin="miter"/>
<path d="M317.49 387.8H328.39L322.94 377.8Z" fill="#fff" stroke="#000" stroke-width="1.2" stroke-linejoin="miter"/>
<path d="M341.65 403.5H352.55L347.1 393.5Z" fill="#fff" stroke="#000" stroke-width="1.2" stroke-linejoin="miter"/>
<path d="M365.81 439.9H376.71L371.26 429.9Z" fill="#fff" stroke="#000" stroke-width="1.2" stroke-linejoin="miter"/>
<path d="M389.97 482.1H400.87L395.42 472.1Z" fill="#fff" stroke="#000" stroke-width="1.2" stroke-linejoin="miter"/>
<path d="M414.13 529.2H425.03L419.58 519.2Z" fill="#fff" stroke="#000" stroke-width="1.2" stroke-linejoin="miter"/>
<path d="M438.29 548.2H449.19L443.74 538.2Z" fill="#fff" stroke="#000" stroke-width="1.2" stroke-linejoin="miter"/>
<path d="M462.45 560.6H473.35L467.9 550.6Z" fill="#fff" stroke="#000" stroke-width="1.2" stroke-linejoin="miter"/>
<path d="M486.61 568.4H497.51L492.06 558.4Z" fill="#fff" stroke="#000" stroke-width="1.2" stroke-linejoin="miter"/>
<path d="M534.8 548.9 L537.08 549 L539.35 549.1 L541.63 549.2 L543.9 549.3 L546.18 549.41 L548.46 549.51 L550.73 549.63 L553.01 549.75 L555.28 549.87 L557.56 550 L559.84 550.13 L562.11 550.24 L564.39 550.31 L566.66 550.29 L568.94 550.17 L571.22 549.92 L573.49 549.5 L575.77 548.89 L578.04 548.07 L580.32 547 L582.6 545.66 L584.87 544.04 L587.15 542.15 L589.42 539.97 L591.7 537.5 L593.98 534.75 L596.25 531.71 L598.53 528.37 L600.8 524.73 L603.08 520.8 L605.36 516.57 L607.63 512.09 L609.91 507.39 L612.18 502.54 L614.46 497.56 L616.74 492.52 L619.01 487.46 L621.29 482.42 L623.56 477.45 L625.84 472.6 L628.12 467.9 L630.39 463.36 L632.67 458.97 L634.94 454.71 L637.22 450.57 L639.5 446.56 L641.77 442.66 L644.05 438.85 L646.32 435.13 L648.6 431.5 L650.88 427.94 L653.15 424.44 L655.43 421 L657.7 417.61 L659.98 414.26 L662.26 410.95 L664.53 407.66 L666.81 404.4 L669.08 401.15 L671.36 397.9 L673.64 394.66 L675.91 391.43 L678.19 388.22 L680.46 385.06 L682.74 381.96 L685.02 378.92 L687.29 375.98 L689.57 373.13 L691.84 370.4 L694.12 367.8 L696.4 365.34 L698.67 363.03 L700.95 360.87 L703.22 358.87 L705.5 357.02 L707.78 355.34 L710.05 353.82 L712.33 352.47 L714.6 351.3 L716.88 350.3 L719.16 349.48 L721.43 348.82 L723.71 348.29 L725.98 347.89 L728.26 347.59 L730.54 347.37 L732.81 347.21 L735.09 347.09 L737.36 347 L739.64 346.9 L741.92 346.79 L744.19 346.71 L746.47 346.67 L748.74 346.71 L751.02 346.88 L753.3 347.2 L755.57 347.7 L757.85 348.43 L760.12 349.42 L762.4 350.7 L764.68 352.29 L766.95 354.17 L769.23 356.31 L771.5 358.65 L773.78 361.16 L776.06 363.82 L778.33 366.56 L780.61 369.37 L782.88 372.19 L785.16 375 L787.44 377.76 L789.71 380.49 L791.99 383.23 L794.26 385.99 L796.54 388.81 L798.82 391.72 L801.09 394.75 L803.37 397.92 L805.64 401.26 L807.92 404.8 L810.2 408.56 L812.47 412.53 L814.75 416.66 L817.02 420.94 L819.3 425.33 L821.58 429.8 L823.85 434.32 L826.13 438.86 L828.4 443.4 L830.68 447.9 L832.96 452.34 L835.23 456.69 L837.51 460.96 L839.78 465.12 L842.06 469.17 L844.34 473.08 L846.61 476.86 L848.89 480.47 L851.16 483.93 L853.44 487.2 L855.72 490.28 L857.99 493.18 L860.27 495.88 L862.54 498.39 L864.82 500.72 L867.1 502.86 L869.37 504.82 L871.65 506.59 L873.92 508.19 L876.2 509.6 L878.48 510.84 L880.75 511.91 L883.03 512.85 L885.3 513.66 L887.58 514.36 L889.86 514.99 L892.13 515.54 L894.41 516.05 L896.68 516.53 L898.96 517 L901.24 517.47 L903.51 517.96 L905.79 518.45 L908.06 518.94 L910.34 519.45 L912.62 519.95 L914.89 520.46 L917.17 520.97 L919.44 521.49 L921.72 522" fill="none" stroke="#000" stroke-width="1.35"/>
<circle cx="534.8" cy="548.9" r="5.75" fill="#000"/>
<circle cx="557.56" cy="550" r="5.75" fill="#000"/>
<circle cx="580.32" cy="547" r="5.75" fill="#000"/>
<circle cx="603.08" cy="520.8" r="5.75" fill="#000"/>
<circle cx="625.84" cy="472.6" r="5.75" fill="#000"/>
<circle cx="648.6" cy="431.5" r="5.75" fill="#000"/>
<circle cx="671.36" cy="397.9" r="5.75" fill="#000"/>
<circle cx="694.12" cy="367.8" r="5.75" fill="#000"/>
<circle cx="716.88" cy="350.3" r="5.75" fill="#000"/>
<circle cx="739.64" cy="346.9" r="5.75" fill="#000"/>
<circle cx="762.4" cy="350.7" r="5.75" fill="#000"/>
<circle cx="785.16" cy="375" r="5.75" fill="#000"/>
<circle cx="807.92" cy="404.8" r="5.75" fill="#000"/>
<circle cx="830.68" cy="447.9" r="5.75" fill="#000"/>
<circle cx="853.44" cy="487.2" r="5.75" fill="#000"/>
<circle cx="876.2" cy="509.6" r="5.75" fill="#000"/>
<circle cx="898.96" cy="517" r="5.75" fill="#000"/>
<circle cx="921.72" cy="522" r="5.75" fill="#000"/>
<path d="M534.8 546.6 L537.08 546.67 L539.35 546.74 L541.63 546.81 L543.9 546.88 L546.18 546.97 L548.46 547.05 L550.73 547.15 L553.01 547.26 L555.28 547.37 L557.56 547.5 L559.84 547.64 L562.11 547.77 L564.39 547.89 L566.66 547.96 L568.94 547.98 L571.22 547.92 L573.49 547.77 L575.77 547.51 L578.04 547.13 L580.32 546.6 L582.6 545.91 L584.87 545.04 L587.15 543.98 L589.42 542.71 L591.7 541.21 L593.98 539.48 L596.25 537.48 L598.53 535.22 L600.8 532.66 L603.08 529.8 L605.36 526.63 L607.63 523.18 L609.91 519.49 L612.18 515.61 L614.46 511.57 L616.74 507.41 L619.01 503.19 L621.29 498.93 L623.56 494.69 L625.84 490.5 L628.12 486.39 L630.39 482.37 L632.67 478.42 L634.94 474.53 L637.22 470.7 L639.5 466.9 L641.77 463.13 L644.05 459.38 L646.32 455.64 L648.6 451.9 L650.88 448.15 L653.15 444.38 L655.43 440.61 L657.7 436.83 L659.98 433.05 L662.26 429.27 L664.53 425.49 L666.81 421.72 L669.08 417.95 L671.36 414.2 L673.64 410.46 L675.91 406.76 L678.19 403.11 L680.46 399.54 L682.74 396.08 L685.02 392.73 L687.29 389.53 L689.57 386.49 L691.84 383.64 L694.12 381 L696.4 378.58 L698.67 376.39 L700.95 374.42 L703.22 372.65 L705.5 371.08 L707.78 369.71 L710.05 368.52 L712.33 367.51 L714.6 366.67 L716.88 366 L719.16 365.48 L721.43 365.12 L723.71 364.9 L725.98 364.83 L728.26 364.89 L730.54 365.08 L732.81 365.41 L735.09 365.85 L737.36 366.42 L739.64 367.1 L741.92 367.89 L744.19 368.79 L746.47 369.8 L748.74 370.93 L751.02 372.17 L753.3 373.52 L755.57 374.99 L757.85 376.58 L760.12 378.28 L762.4 380.1 L764.68 382.04 L766.95 384.09 L769.23 386.25 L771.5 388.49 L773.78 390.83 L776.06 393.24 L778.33 395.72 L780.61 398.27 L782.88 400.86 L785.16 403.5 L787.44 406.18 L789.71 408.89 L791.99 411.63 L794.26 414.41 L796.54 417.22 L798.82 420.05 L801.09 422.92 L803.37 425.82 L805.64 428.75 L807.92 431.7 L810.2 434.68 L812.47 437.67 L814.75 440.67 L817.02 443.66 L819.3 446.63 L821.58 449.58 L823.85 452.49 L826.13 455.36 L828.4 458.16 L830.68 460.9 L832.96 463.56 L835.23 466.15 L837.51 468.69 L839.78 471.19 L842.06 473.66 L844.34 476.11 L846.61 478.56 L848.89 481.01 L851.16 483.49 L853.44 486 L855.72 488.55 L857.99 491.11 L860.27 493.66 L862.54 496.17 L864.82 498.59 L867.1 500.91 L869.37 503.09 L871.65 505.1 L873.92 506.92 L876.2 508.5 L878.48 509.83 L880.75 510.94 L883.03 511.84 L885.3 512.58 L887.58 513.18 L889.86 513.67 L892.13 514.09 L894.41 514.46 L896.68 514.82 L898.96 515.2 L901.24 515.62 L903.51 516.09 L905.79 516.59 L908.06 517.13 L910.34 517.7 L912.62 518.29 L914.89 518.9 L917.17 519.52 L919.44 520.16 L921.72 520.8" fill="none" stroke="#000" stroke-width="1.1" stroke-dasharray="1.1 4.4"/>
<circle cx="534.8" cy="546.6" r="5.3" fill="#fff" stroke="#000" stroke-width="1.2"/>
<circle cx="557.56" cy="547.5" r="5.3" fill="#fff" stroke="#000" stroke-width="1.2"/>
<circle cx="580.32" cy="546.6" r="5.3" fill="#fff" stroke="#000" stroke-width="1.2"/>
<circle cx="603.08" cy="529.8" r="5.3" fill="#fff" stroke="#000" stroke-width="1.2"/>
<circle cx="625.84" cy="490.5" r="5.3" fill="#fff" stroke="#000" stroke-width="1.2"/>
<circle cx="648.6" cy="451.9" r="5.3" fill="#fff" stroke="#000" stroke-width="1.2"/>
<circle cx="671.36" cy="414.2" r="5.3" fill="#fff" stroke="#000" stroke-width="1.2"/>
<circle cx="694.12" cy="381" r="5.3" fill="#fff" stroke="#000" stroke-width="1.2"/>
<circle cx="716.88" cy="366" r="5.3" fill="#fff" stroke="#000" stroke-width="1.2"/>
<circle cx="739.64" cy="367.1" r="5.3" fill="#fff" stroke="#000" stroke-width="1.2"/>
<circle cx="762.4" cy="380.1" r="5.3" fill="#fff" stroke="#000" stroke-width="1.2"/>
<circle cx="785.16" cy="403.5" r="5.3" fill="#fff" stroke="#000" stroke-width="1.2"/>
<circle cx="807.92" cy="431.7" r="5.3" fill="#fff" stroke="#000" stroke-width="1.2"/>
<circle cx="830.68" cy="460.9" r="5.3" fill="#fff" stroke="#000" stroke-width="1.2"/>
<circle cx="853.44" cy="486" r="5.3" fill="#fff" stroke="#000" stroke-width="1.2"/>
<circle cx="876.2" cy="508.5" r="5.3" fill="#fff" stroke="#000" stroke-width="1.2"/>
<circle cx="898.96" cy="515.2" r="5.3" fill="#fff" stroke="#000" stroke-width="1.2"/>
<circle cx="921.72" cy="520.8" r="5.3" fill="#fff" stroke="#000" stroke-width="1.2"/>
<path d="M534.8 545.5 L537.08 545.5 L539.35 545.51 L541.63 545.54 L543.9 545.58 L546.18 545.64 L548.46 545.75 L550.73 545.88 L553.01 546.07 L555.28 546.31 L557.56 546.6 L559.84 546.95 L562.11 547.35 L564.39 547.76 L566.66 548.15 L568.94 548.52 L571.22 548.82 L573.49 549.03 L575.77 549.13 L578.04 549.1 L580.32 548.9 L582.6 548.52 L584.87 547.96 L587.15 547.22 L589.42 546.32 L591.7 545.24 L593.98 544.01 L596.25 542.63 L598.53 541.09 L600.8 539.41 L603.08 537.6 L605.36 535.65 L607.63 533.58 L609.91 531.39 L612.18 529.07 L614.46 526.65 L616.74 524.12 L619.01 521.48 L621.29 518.74 L623.56 515.92 L625.84 513 L628.12 510 L630.39 506.92 L632.67 503.78 L634.94 500.57 L637.22 497.3 L639.5 493.99 L641.77 490.64 L644.05 487.25 L646.32 483.83 L648.6 480.4 L650.88 476.96 L653.15 473.51 L655.43 470.08 L657.7 466.67 L659.98 463.3 L662.26 459.97 L664.53 456.71 L666.81 453.52 L669.08 450.41 L671.36 447.4 L673.64 444.49 L675.91 441.68 L678.19 438.93 L680.46 436.22 L682.74 433.54 L685.02 430.87 L687.29 428.18 L689.57 425.45 L691.84 422.66 L694.12 419.8 L696.4 416.85 L698.67 413.84 L700.95 410.81 L703.22 407.82 L705.5 404.9 L707.78 402.09 L710.05 399.45 L712.33 397.01 L714.6 394.81 L716.88 392.9 L719.16 391.31 L721.43 390 L723.71 388.93 L725.98 388.04 L728.26 387.29 L730.54 386.63 L732.81 386.01 L735.09 385.38 L737.36 384.69 L739.64 383.9 L741.92 382.97 L744.19 381.95 L746.47 380.91 L748.74 379.9 L751.02 379 L753.3 378.27 L755.57 377.77 L757.85 377.56 L760.12 377.72 L762.4 378.3 L764.68 379.35 L766.95 380.83 L769.23 382.68 L771.5 384.84 L773.78 387.24 L776.06 389.83 L778.33 392.54 L780.61 395.31 L782.88 398.09 L785.16 400.8 L787.44 403.41 L789.71 405.92 L791.99 408.36 L794.26 410.75 L796.54 413.12 L798.82 415.49 L801.09 417.89 L803.37 420.34 L805.64 422.87 L807.92 425.5 L810.2 428.25 L812.47 431.12 L814.75 434.09 L817.02 437.15 L819.3 440.3 L821.58 443.52 L823.85 446.8 L826.13 450.13 L828.4 453.5 L830.68 456.9 L832.96 460.31 L835.23 463.73 L837.51 467.13 L839.78 470.51 L842.06 473.85 L844.34 477.13 L846.61 480.34 L848.89 483.46 L851.16 486.49 L853.44 489.4 L855.72 492.19 L857.99 494.84 L860.27 497.35 L862.54 499.72 L864.82 501.95 L867.1 504.02 L869.37 505.94 L871.65 507.69 L873.92 509.28 L876.2 510.7 L878.48 511.95 L880.75 513.04 L883.03 514 L885.3 514.84 L887.58 515.58 L889.86 516.26 L892.13 516.87 L894.41 517.46 L896.68 518.03 L898.96 518.6 L901.24 519.2 L903.51 519.82 L905.79 520.46 L908.06 521.11 L910.34 521.79 L912.62 522.48 L914.89 523.17 L917.17 523.88 L919.44 524.59 L921.72 525.3" fill="none" stroke="#000" stroke-width="1.35" stroke-dasharray="12 6"/>
<path d="M528.35 539.55H541.25L534.8 551.45Z" fill="#000"/>
<path d="M551.11 540.65H564.01L557.56 552.55Z" fill="#000"/>
<path d="M573.87 542.95H586.77L580.32 554.85Z" fill="#000"/>
<path d="M596.63 531.65H609.53L603.08 543.55Z" fill="#000"/>
<path d="M619.39 507.05H632.29L625.84 518.95Z" fill="#000"/>
<path d="M642.15 474.45H655.05L648.6 486.35Z" fill="#000"/>
<path d="M664.91 441.45H677.81L671.36 453.35Z" fill="#000"/>
<path d="M687.67 413.85H700.57L694.12 425.75Z" fill="#000"/>
<path d="M710.43 386.95H723.33L716.88 398.85Z" fill="#000"/>
<path d="M733.19 377.95H746.09L739.64 389.85Z" fill="#000"/>
<path d="M755.95 372.35H768.85L762.4 384.25Z" fill="#000"/>
<path d="M778.71 394.85H791.61L785.16 406.75Z" fill="#000"/>
<path d="M801.47 419.55H814.37L807.92 431.45Z" fill="#000"/>
<path d="M824.23 450.95H837.13L830.68 462.85Z" fill="#000"/>
<path d="M846.99 483.45H859.89L853.44 495.35Z" fill="#000"/>
<path d="M869.75 504.75H882.65L876.2 516.65Z" fill="#000"/>
<path d="M892.51 512.65H905.41L898.96 524.55Z" fill="#000"/>
<path d="M915.27 519.35H928.17L921.72 531.25Z" fill="#000"/>
<path d="M534.8 546.6 L537.08 546.72 L539.35 546.84 L541.63 546.97 L543.9 547.09 L546.18 547.21 L548.46 547.33 L550.73 547.45 L553.01 547.57 L555.28 547.68 L557.56 547.8 L559.84 547.91 L562.11 548.02 L564.39 548.11 L566.66 548.19 L568.94 548.23 L571.22 548.24 L573.49 548.21 L575.77 548.13 L578.04 547.99 L580.32 547.8 L582.6 547.54 L584.87 547.2 L587.15 546.78 L589.42 546.28 L591.7 545.68 L593.98 544.97 L596.25 544.16 L598.53 543.23 L600.8 542.18 L603.08 541 L605.36 539.68 L607.63 538.24 L609.91 536.67 L612.18 534.99 L614.46 533.21 L616.74 531.33 L619.01 529.36 L621.29 527.31 L623.56 525.19 L625.84 523 L628.12 520.76 L630.39 518.46 L632.67 516.11 L634.94 513.71 L637.22 511.26 L639.5 508.77 L641.77 506.24 L644.05 503.66 L646.32 501.05 L648.6 498.4 L650.88 495.72 L653.15 493 L655.43 490.26 L657.7 487.48 L659.98 484.68 L662.26 481.85 L664.53 479 L666.81 476.12 L669.08 473.22 L671.36 470.3 L673.64 467.36 L675.91 464.41 L678.19 461.45 L680.46 458.49 L682.74 455.54 L685.02 452.61 L687.29 449.71 L689.57 446.83 L691.84 443.99 L694.12 441.2 L696.4 438.46 L698.67 435.78 L700.95 433.17 L703.22 430.64 L705.5 428.2 L707.78 425.85 L710.05 423.61 L712.33 421.48 L714.6 419.48 L716.88 417.6 L719.16 415.86 L721.43 414.24 L723.71 412.74 L725.98 411.33 L728.26 410.01 L730.54 408.75 L732.81 407.54 L735.09 406.37 L737.36 405.23 L739.64 404.1 L741.92 402.97 L744.19 401.85 L746.47 400.76 L748.74 399.71 L751.02 398.71 L753.3 397.8 L755.57 396.97 L757.85 396.25 L760.12 395.66 L762.4 395.2 L764.68 394.89 L766.95 394.75 L769.23 394.79 L771.5 395.01 L773.78 395.42 L776.06 396.04 L778.33 396.88 L780.61 397.95 L782.88 399.25 L785.16 400.8 L787.44 402.6 L789.71 404.64 L791.99 406.89 L794.26 409.33 L796.54 411.93 L798.82 414.67 L801.09 417.54 L803.37 420.49 L805.64 423.52 L807.92 426.6 L810.2 429.71 L812.47 432.83 L814.75 435.97 L817.02 439.13 L819.3 442.29 L821.58 445.45 L823.85 448.6 L826.13 451.75 L828.4 454.88 L830.68 458 L832.96 461.09 L835.23 464.16 L837.51 467.19 L839.78 470.19 L842.06 473.15 L844.34 476.07 L846.61 478.93 L848.89 481.75 L851.16 484.5 L853.44 487.2 L855.72 489.83 L857.99 492.38 L860.27 494.84 L862.54 497.2 L864.82 499.44 L867.1 501.56 L869.37 503.54 L871.65 505.36 L873.92 507.02 L876.2 508.5 L878.48 509.8 L880.75 510.92 L883.03 511.9 L885.3 512.75 L887.58 513.5 L889.86 514.15 L892.13 514.74 L894.41 515.28 L896.68 515.79 L898.96 516.3 L901.24 516.82 L903.51 517.35 L905.79 517.89 L908.06 518.45 L910.34 519.01 L912.62 519.58 L914.89 520.15 L917.17 520.73 L919.44 521.32 L921.72 521.9" fill="none" stroke="#000" stroke-width="1.35" stroke-dasharray="15 4.5 1.5 4 1.5 4.5"/>
<path d="M529.35 551.6H540.25L534.8 541.6Z" fill="#fff" stroke="#000" stroke-width="1.2" stroke-linejoin="miter"/>
<path d="M552.11 552.8H563.01L557.56 542.8Z" fill="#fff" stroke="#000" stroke-width="1.2" stroke-linejoin="miter"/>
<path d="M574.87 552.8H585.77L580.32 542.8Z" fill="#fff" stroke="#000" stroke-width="1.2" stroke-linejoin="miter"/>
<path d="M597.63 546H608.53L603.08 536Z" fill="#fff" stroke="#000" stroke-width="1.2" stroke-linejoin="miter"/>
<path d="M620.39 528H631.29L625.84 518Z" fill="#fff" stroke="#000" stroke-width="1.2" stroke-linejoin="miter"/>
<path d="M643.15 503.4H654.05L648.6 493.4Z" fill="#fff" stroke="#000" stroke-width="1.2" stroke-linejoin="miter"/>
<path d="M665.91 475.3H676.81L671.36 465.3Z" fill="#fff" stroke="#000" stroke-width="1.2" stroke-linejoin="miter"/>
<path d="M688.67 446.2H699.57L694.12 436.2Z" fill="#fff" stroke="#000" stroke-width="1.2" stroke-linejoin="miter"/>
<path d="M711.43 422.6H722.33L716.88 412.6Z" fill="#fff" stroke="#000" stroke-width="1.2" stroke-linejoin="miter"/>
<path d="M734.19 409.1H745.09L739.64 399.1Z" fill="#fff" stroke="#000" stroke-width="1.2" stroke-linejoin="miter"/>
<path d="M756.95 400.2H767.85L762.4 390.2Z" fill="#fff" stroke="#000" stroke-width="1.2" stroke-linejoin="miter"/>
<path d="M779.71 405.8H790.61L785.16 395.8Z" fill="#fff" stroke="#000" stroke-width="1.2" stroke-linejoin="miter"/>
<path d="M802.47 431.6H813.37L807.92 421.6Z" fill="#fff" stroke="#000" stroke-width="1.2" stroke-linejoin="miter"/>
<path d="M825.23 463H836.13L830.68 453Z" fill="#fff" stroke="#000" stroke-width="1.2" stroke-linejoin="miter"/>
<path d="M847.99 492.2H858.89L853.44 482.2Z" fill="#fff" stroke="#000" stroke-width="1.2" stroke-linejoin="miter"/>
<path d="M870.75 513.5H881.65L876.2 503.5Z" fill="#fff" stroke="#000" stroke-width="1.2" stroke-linejoin="miter"/>
<path d="M893.51 521.3H904.41L898.96 511.3Z" fill="#fff" stroke="#000" stroke-width="1.2" stroke-linejoin="miter"/>
<path d="M916.27 526.9H927.17L921.72 516.9Z" fill="#fff" stroke="#000" stroke-width="1.2" stroke-linejoin="miter"/>
<path d="M105.2 713.7 L107.48 713.57 L109.75 713.45 L112.03 713.35 L114.3 713.27 L116.58 713.22 L118.85 713.21 L121.12 713.24 L123.4 713.33 L125.68 713.48 L127.95 713.7 L130.22 714 L132.5 714.41 L134.78 714.96 L137.05 715.69 L139.32 716.61 L141.6 717.77 L143.88 719.2 L146.15 720.93 L148.42 722.98 L150.7 725.4 L152.97 728.2 L155.25 731.33 L157.52 734.75 L159.8 738.39 L162.07 742.21 L164.35 746.15 L166.62 750.15 L168.9 754.16 L171.17 758.13 L173.45 762 L175.72 765.72 L178 769.31 L180.27 772.75 L182.55 776.08 L184.82 779.29 L187.1 782.39 L189.38 785.41 L191.65 788.34 L193.92 791.2 L196.2 794 L198.47 796.75 L200.75 799.44 L203.02 802.08 L205.3 804.68 L207.57 807.22 L209.85 809.72 L212.12 812.16 L214.4 814.56 L216.67 816.9 L218.95 819.2 L221.22 821.45 L223.5 823.65 L225.77 825.8 L228.05 827.89 L230.32 829.93 L232.6 831.91 L234.88 833.82 L237.15 835.68 L239.42 837.47 L241.7 839.2 L243.97 840.86 L246.25 842.45 L248.52 843.97 L250.8 845.42 L253.07 846.79 L255.35 848.1 L257.62 849.34 L259.9 850.5 L262.18 851.59 L264.45 852.6 L266.72 853.54 L269 854.4 L271.27 855.18 L273.55 855.88 L275.82 856.49 L278.1 857.02 L280.38 857.46 L282.65 857.8 L284.93 858.05 L287.2 858.2 L289.47 858.25 L291.75 858.22 L294.02 858.1 L296.3 857.91 L298.57 857.66 L300.85 857.35 L303.12 857 L305.4 856.62 L307.68 856.22 L309.95 855.8 L312.22 855.37 L314.5 854.92 L316.77 854.43 L319.05 853.89 L321.32 853.27 L323.6 852.57 L325.88 851.75 L328.15 850.82 L330.43 849.74 L332.7 848.5 L334.97 847.09 L337.25 845.53 L339.52 843.82 L341.8 841.99 L344.07 840.05 L346.35 838.02 L348.62 835.91 L350.9 833.74 L353.18 831.53 L355.45 829.3 L357.72 827.05 L360 824.78 L362.27 822.48 L364.55 820.14 L366.82 817.75 L369.1 815.29 L371.38 812.76 L373.65 810.14 L375.93 807.42 L378.2 804.6 L380.47 801.67 L382.75 798.65 L385.02 795.57 L387.3 792.48 L389.57 789.41 L391.85 786.38 L394.12 783.43 L396.4 780.6 L398.68 777.91 L400.95 775.4 L403.22 773.1 L405.5 770.98 L407.77 769.03 L410.05 767.21 L412.32 765.51 L414.6 763.89 L416.88 762.34 L419.15 760.82 L421.43 759.32 L423.7 757.8 L425.97 756.25 L428.25 754.67 L430.52 753.07 L432.8 751.46 L435.07 749.86 L437.35 748.26 L439.62 746.69 L441.9 745.15 L444.18 743.65 L446.45 742.2 L448.72 740.81 L451 739.49 L453.27 738.22 L455.55 737.02 L457.82 735.87 L460.1 734.78 L462.38 733.75 L464.65 732.78 L466.93 731.86 L469.2 731 L471.47 730.19 L473.75 729.44 L476.02 728.72 L478.3 728.05 L480.57 727.41 L482.85 726.79 L485.12 726.2 L487.4 725.62 L489.68 725.06 L491.95 724.5" fill="none" stroke="#000" stroke-width="1.35"/>
<circle cx="105.2" cy="713.7" r="5.75" fill="#000"/>
<circle cx="127.95" cy="713.7" r="5.75" fill="#000"/>
<circle cx="150.7" cy="725.4" r="5.75" fill="#000"/>
<circle cx="173.45" cy="762" r="5.75" fill="#000"/>
<circle cx="196.2" cy="794" r="5.75" fill="#000"/>
<circle cx="218.95" cy="819.2" r="5.75" fill="#000"/>
<circle cx="241.7" cy="839.2" r="5.75" fill="#000"/>
<circle cx="264.45" cy="852.6" r="5.75" fill="#000"/>
<circle cx="287.2" cy="858.2" r="5.75" fill="#000"/>
<circle cx="309.95" cy="855.8" r="5.75" fill="#000"/>
<circle cx="332.7" cy="848.5" r="5.75" fill="#000"/>
<circle cx="355.45" cy="829.3" r="5.75" fill="#000"/>
<circle cx="378.2" cy="804.6" r="5.75" fill="#000"/>
<circle cx="400.95" cy="775.4" r="5.75" fill="#000"/>
<circle cx="423.7" cy="757.8" r="5.75" fill="#000"/>
<circle cx="446.45" cy="742.2" r="5.75" fill="#000"/>
<circle cx="469.2" cy="731" r="5.75" fill="#000"/>
<circle cx="491.95" cy="724.5" r="5.75" fill="#000"/>
<path d="M105.2 710.4 L107.48 710.21 L109.75 710.03 L112.03 709.85 L114.3 709.69 L116.58 709.54 L118.85 709.41 L121.12 709.31 L123.4 709.24 L125.68 709.2 L127.95 709.2 L130.22 709.25 L132.5 709.37 L134.78 709.6 L137.05 709.97 L139.32 710.52 L141.6 711.28 L143.88 712.28 L146.15 713.57 L148.42 715.16 L150.7 717.1 L152.97 719.41 L155.25 722.06 L157.52 725.04 L159.8 728.31 L162.07 731.83 L164.35 735.59 L166.62 739.54 L168.9 743.66 L171.17 747.93 L173.45 752.3 L175.72 756.75 L178 761.25 L180.27 765.75 L182.55 770.23 L184.82 774.64 L187.1 778.95 L189.38 783.13 L191.65 787.14 L193.92 790.94 L196.2 794.5 L198.47 797.79 L200.75 800.85 L203.02 803.7 L205.3 806.39 L207.57 808.97 L209.85 811.46 L212.12 813.91 L214.4 816.36 L216.67 818.84 L218.95 821.4 L221.22 824.06 L223.5 826.82 L225.77 829.63 L228.05 832.47 L230.32 835.3 L232.6 838.12 L234.88 840.87 L237.15 843.54 L239.42 846.09 L241.7 848.5 L243.97 850.74 L246.25 852.82 L248.52 854.72 L250.8 856.47 L253.07 858.06 L255.35 859.5 L257.62 860.79 L259.9 861.93 L262.18 862.94 L264.45 863.8 L266.72 864.53 L269 865.14 L271.27 865.63 L273.55 866.02 L275.82 866.32 L278.1 866.52 L280.38 866.66 L282.65 866.72 L284.93 866.74 L287.2 866.7 L289.47 866.62 L291.75 866.5 L294.02 866.33 L296.3 866.08 L298.57 865.76 L300.85 865.36 L303.12 864.86 L305.4 864.26 L307.68 863.54 L309.95 862.7 L312.22 861.73 L314.5 860.62 L316.77 859.38 L319.05 858.01 L321.32 856.51 L323.6 854.87 L325.88 853.1 L328.15 851.2 L330.43 849.16 L332.7 847 L334.97 844.71 L337.25 842.31 L339.52 839.82 L341.8 837.27 L344.07 834.68 L346.35 832.07 L348.62 829.46 L350.9 826.88 L353.18 824.36 L355.45 821.9 L357.72 819.53 L360 817.24 L362.27 815.01 L364.55 812.81 L366.82 810.63 L369.1 808.46 L371.38 806.27 L373.65 804.04 L375.93 801.76 L378.2 799.4 L380.47 796.96 L382.75 794.45 L385.02 791.89 L387.3 789.31 L389.57 786.74 L391.85 784.18 L394.12 781.68 L396.4 779.25 L398.68 776.92 L400.95 774.7 L403.22 772.62 L405.5 770.67 L407.77 768.82 L410.05 767.06 L412.32 765.38 L414.6 763.76 L416.88 762.18 L419.15 760.62 L421.43 759.06 L423.7 757.5 L425.97 755.91 L428.25 754.3 L430.52 752.69 L432.8 751.07 L435.07 749.45 L437.35 747.86 L439.62 746.28 L441.9 744.74 L444.18 743.25 L446.45 741.8 L448.72 740.41 L451 739.08 L453.27 737.81 L455.55 736.6 L457.82 735.44 L460.1 734.34 L462.38 733.3 L464.65 732.31 L466.93 731.38 L469.2 730.5 L471.47 729.68 L473.75 728.9 L476.02 728.17 L478.3 727.47 L480.57 726.81 L482.85 726.18 L485.12 725.56 L487.4 724.97 L489.68 724.38 L491.95 723.8" fill="none" stroke="#000" stroke-width="1.1" stroke-dasharray="1.1 4.4"/>
<circle cx="105.2" cy="710.4" r="5.3" fill="#fff" stroke="#000" stroke-width="1.2"/>
<circle cx="127.95" cy="709.2" r="5.3" fill="#fff" stroke="#000" stroke-width="1.2"/>
<circle cx="150.7" cy="717.1" r="5.3" fill="#fff" stroke="#000" stroke-width="1.2"/>
<circle cx="173.45" cy="752.3" r="5.3" fill="#fff" stroke="#000" stroke-width="1.2"/>
<circle cx="196.2" cy="794.5" r="5.3" fill="#fff" stroke="#000" stroke-width="1.2"/>
<circle cx="218.95" cy="821.4" r="5.3" fill="#fff" stroke="#000" stroke-width="1.2"/>
<circle cx="241.7" cy="848.5" r="5.3" fill="#fff" stroke="#000" stroke-width="1.2"/>
<circle cx="264.45" cy="863.8" r="5.3" fill="#fff" stroke="#000" stroke-width="1.2"/>
<circle cx="287.2" cy="866.7" r="5.3" fill="#fff" stroke="#000" stroke-width="1.2"/>
<circle cx="309.95" cy="862.7" r="5.3" fill="#fff" stroke="#000" stroke-width="1.2"/>
<circle cx="332.7" cy="847" r="5.3" fill="#fff" stroke="#000" stroke-width="1.2"/>
<circle cx="355.45" cy="821.9" r="5.3" fill="#fff" stroke="#000" stroke-width="1.2"/>
<circle cx="378.2" cy="799.4" r="5.3" fill="#fff" stroke="#000" stroke-width="1.2"/>
<circle cx="400.95" cy="774.7" r="5.3" fill="#fff" stroke="#000" stroke-width="1.2"/>
<circle cx="423.7" cy="757.5" r="5.3" fill="#fff" stroke="#000" stroke-width="1.2"/>
<circle cx="446.45" cy="741.8" r="5.3" fill="#fff" stroke="#000" stroke-width="1.2"/>
<circle cx="469.2" cy="730.5" r="5.3" fill="#fff" stroke="#000" stroke-width="1.2"/>
<circle cx="491.95" cy="723.8" r="5.3" fill="#fff" stroke="#000" stroke-width="1.2"/>
<path d="M105.2 713.3 L107.48 712.97 L109.75 712.64 L112.03 712.33 L114.3 712.06 L116.58 711.81 L118.85 711.62 L121.12 711.48 L123.4 711.41 L125.68 711.41 L127.95 711.5 L130.22 711.68 L132.5 711.96 L134.78 712.34 L137.05 712.82 L139.32 713.42 L141.6 714.13 L143.88 714.96 L146.15 715.91 L148.42 716.99 L150.7 718.2 L152.97 719.55 L155.25 721.05 L157.52 722.72 L159.8 724.57 L162.07 726.63 L164.35 728.92 L166.62 731.44 L168.9 734.21 L171.17 737.26 L173.45 740.6 L175.72 744.24 L178 748.13 L180.27 752.25 L182.55 756.53 L184.82 760.94 L187.1 765.43 L189.38 769.96 L191.65 774.48 L193.92 778.94 L196.2 783.3 L198.47 787.52 L200.75 791.61 L203.02 795.57 L205.3 799.4 L207.57 803.12 L209.85 806.74 L212.12 810.26 L214.4 813.68 L216.67 817.03 L218.95 820.3 L221.22 823.5 L223.5 826.64 L225.77 829.72 L228.05 832.73 L230.32 835.68 L232.6 838.56 L234.88 841.39 L237.15 844.15 L239.42 846.86 L241.7 849.5 L243.97 852.08 L246.25 854.6 L248.52 857.03 L250.8 859.37 L253.07 861.6 L255.35 863.72 L257.62 865.71 L259.9 867.56 L262.18 869.26 L264.45 870.8 L266.72 872.17 L269 873.38 L271.27 874.43 L273.55 875.35 L275.82 876.13 L278.1 876.8 L280.38 877.36 L282.65 877.82 L284.93 878.2 L287.2 878.5 L289.47 878.74 L291.75 878.91 L294.02 879.01 L296.3 879.04 L298.57 878.99 L300.85 878.86 L303.12 878.65 L305.4 878.36 L307.68 877.98 L309.95 877.5 L312.22 876.93 L314.5 876.25 L316.77 875.44 L319.05 874.51 L321.32 873.42 L323.6 872.17 L325.88 870.75 L328.15 869.14 L330.43 867.33 L332.7 865.3 L334.97 863.05 L337.25 860.6 L339.52 857.98 L341.8 855.21 L344.07 852.33 L346.35 849.35 L348.62 846.32 L350.9 843.24 L353.18 840.16 L355.45 837.1 L357.72 834.08 L360 831.09 L362.27 828.13 L364.55 825.17 L366.82 822.2 L369.1 819.21 L371.38 816.19 L373.65 813.13 L375.93 810 L378.2 806.8 L380.47 803.52 L382.75 800.19 L385.02 796.84 L387.3 793.52 L389.57 790.26 L391.85 787.09 L394.12 784.05 L396.4 781.18 L398.68 778.52 L400.95 776.1 L403.22 773.94 L405.5 772.03 L407.77 770.32 L410.05 768.77 L412.32 767.34 L414.6 766.01 L416.88 764.73 L419.15 763.46 L421.43 762.16 L423.7 760.8 L425.97 759.35 L428.25 757.82 L430.52 756.22 L432.8 754.59 L435.07 752.94 L437.35 751.29 L439.62 749.66 L441.9 748.07 L444.18 746.54 L446.45 745.1 L448.72 743.75 L451 742.5 L453.27 741.34 L455.55 740.26 L457.82 739.25 L460.1 738.3 L462.38 737.41 L464.65 736.57 L466.93 735.77 L469.2 735 L471.47 734.26 L473.75 733.54 L476.02 732.84 L478.3 732.16 L480.57 731.49 L482.85 730.84 L485.12 730.2 L487.4 729.56 L489.68 728.93 L491.95 728.3" fill="none" stroke="#000" stroke-width="1.35" stroke-dasharray="12 6"/>
<path d="M98.75 707.35H111.65L105.2 719.25Z" fill="#000"/>
<path d="M121.5 705.55H134.4L127.95 717.45Z" fill="#000"/>
<path d="M144.25 712.25H157.15L150.7 724.15Z" fill="#000"/>
<path d="M167 734.65H179.9L173.45 746.55Z" fill="#000"/>
<path d="M189.75 777.35H202.65L196.2 789.25Z" fill="#000"/>
<path d="M212.5 814.35H225.4L218.95 826.25Z" fill="#000"/>
<path d="M235.25 843.55H248.15L241.7 855.45Z" fill="#000"/>
<path d="M258 864.85H270.9L264.45 876.75Z" fill="#000"/>
<path d="M280.75 872.55H293.65L287.2 884.45Z" fill="#000"/>
<path d="M303.5 871.55H316.4L309.95 883.45Z" fill="#000"/>
<path d="M326.25 859.35H339.15L332.7 871.25Z" fill="#000"/>
<path d="M349 831.15H361.9L355.45 843.05Z" fill="#000"/>
<path d="M371.75 800.85H384.65L378.2 812.75Z" fill="#000"/>
<path d="M394.5 770.15H407.4L400.95 782.05Z" fill="#000"/>
<path d="M417.25 754.85H430.15L423.7 766.75Z" fill="#000"/>
<path d="M440 739.15H452.9L446.45 751.05Z" fill="#000"/>
<path d="M462.75 729.05H475.65L469.2 740.95Z" fill="#000"/>
<path d="M485.5 722.35H498.4L491.95 734.25Z" fill="#000"/>
<path d="M105.2 709.2 L107.48 709.24 L109.75 709.28 L112.03 709.31 L114.3 709.34 L116.58 709.36 L118.85 709.36 L121.12 709.35 L123.4 709.32 L125.68 709.27 L127.95 709.2 L130.22 709.11 L132.5 709.01 L134.78 708.93 L137.05 708.88 L139.32 708.88 L141.6 708.96 L143.88 709.13 L146.15 709.42 L148.42 709.83 L150.7 710.4 L152.97 711.14 L155.25 712.05 L157.52 713.15 L159.8 714.45 L162.07 715.95 L164.35 717.65 L166.62 719.57 L168.9 721.71 L171.17 724.09 L173.45 726.7 L175.72 729.55 L178 732.62 L180.27 735.89 L182.55 739.32 L184.82 742.9 L187.1 746.59 L189.38 750.37 L191.65 754.22 L193.92 758.1 L196.2 762 L198.47 765.89 L200.75 769.76 L203.02 773.59 L205.3 777.4 L207.57 781.15 L209.85 784.86 L212.12 788.5 L214.4 792.08 L216.67 795.58 L218.95 799 L221.22 802.33 L223.5 805.57 L225.77 808.74 L228.05 811.83 L230.32 814.85 L232.6 817.82 L234.88 820.73 L237.15 823.59 L239.42 826.41 L241.7 829.2 L243.97 831.95 L246.25 834.67 L248.52 837.34 L250.8 839.95 L253.07 842.49 L255.35 844.95 L257.62 847.32 L259.9 849.59 L262.18 851.75 L264.45 853.8 L266.72 855.72 L269 857.51 L271.27 859.17 L273.55 860.71 L275.82 862.12 L278.1 863.4 L280.38 864.56 L282.65 865.6 L284.93 866.51 L287.2 867.3 L289.47 867.97 L291.75 868.52 L294.02 868.97 L296.3 869.31 L298.57 869.56 L300.85 869.72 L303.12 869.79 L305.4 869.79 L307.68 869.73 L309.95 869.6 L312.22 869.41 L314.5 869.16 L316.77 868.82 L319.05 868.39 L321.32 867.84 L323.6 867.17 L325.88 866.37 L328.15 865.42 L330.43 864.3 L332.7 863 L334.97 861.52 L337.25 859.86 L339.52 858.05 L341.8 856.11 L344.07 854.05 L346.35 851.9 L348.62 849.66 L350.9 847.37 L353.18 845.05 L355.45 842.7 L357.72 840.35 L360 837.97 L362.27 835.56 L364.55 833.08 L366.82 830.52 L369.1 827.86 L371.38 825.08 L373.65 822.16 L375.93 819.07 L378.2 815.8 L380.47 812.34 L382.75 808.72 L385.02 805 L387.3 801.21 L389.57 797.42 L391.85 793.65 L394.12 789.97 L396.4 786.42 L398.68 783.05 L400.95 779.9 L403.22 777.01 L405.5 774.37 L407.77 771.94 L410.05 769.7 L412.32 767.62 L414.6 765.66 L416.88 763.82 L419.15 762.04 L421.43 760.31 L423.7 758.6 L425.97 756.88 L428.25 755.16 L430.52 753.45 L432.8 751.74 L435.07 750.06 L437.35 748.4 L439.62 746.78 L441.9 745.2 L444.18 743.67 L446.45 742.2 L448.72 740.79 L451 739.45 L453.27 738.18 L455.55 736.96 L457.82 735.81 L460.1 734.73 L462.38 733.7 L464.65 732.74 L466.93 731.84 L469.2 731 L471.47 730.22 L473.75 729.49 L476.02 728.81 L478.3 728.18 L480.57 727.57 L482.85 727 L485.12 726.46 L487.4 725.93 L489.68 725.41 L491.95 724.9" fill="none" stroke="#000" stroke-width="1.35" stroke-dasharray="15 4.5 1.5 4 1.5 4.5"/>
<path d="M99.75 714.2H110.65L105.2 704.2Z" fill="#fff" stroke="#000" stroke-width="1.2" stroke-linejoin="miter"/>
<path d="M122.5 714.2H133.4L127.95 704.2Z" fill="#fff" stroke="#000" stroke-width="1.2" stroke-linejoin="miter"/>
<path d="M145.25 715.4H156.15L150.7 705.4Z" fill="#fff" stroke="#000" stroke-width="1.2" stroke-linejoin="miter"/>
<path d="M168 731.7H178.9L173.45 721.7Z" fill="#fff" stroke="#000" stroke-width="1.2" stroke-linejoin="miter"/>
<path d="M190.75 767H201.65L196.2 757Z" fill="#fff" stroke="#000" stroke-width="1.2" stroke-linejoin="miter"/>
<path d="M213.5 804H224.4L218.95 794Z" fill="#fff" stroke="#000" stroke-width="1.2" stroke-linejoin="miter"/>
<path d="M236.25 834.2H247.15L241.7 824.2Z" fill="#fff" stroke="#000" stroke-width="1.2" stroke-linejoin="miter"/>
<path d="M259 858.8H269.9L264.45 848.8Z" fill="#fff" stroke="#000" stroke-width="1.2" stroke-linejoin="miter"/>
<path d="M281.75 872.3H292.65L287.2 862.3Z" fill="#fff" stroke="#000" stroke-width="1.2" stroke-linejoin="miter"/>
<path d="M304.5 874.6H315.4L309.95 864.6Z" fill="#fff" stroke="#000" stroke-width="1.2" stroke-linejoin="miter"/>
<path d="M327.25 868H338.15L332.7 858Z" fill="#fff" stroke="#000" stroke-width="1.2" stroke-linejoin="miter"/>
<path d="M350 847.7H360.9L355.45 837.7Z" fill="#fff" stroke="#000" stroke-width="1.2" stroke-linejoin="miter"/>
<path d="M372.75 820.8H383.65L378.2 810.8Z" fill="#fff" stroke="#000" stroke-width="1.2" stroke-linejoin="miter"/>
<path d="M395.5 784.9H406.4L400.95 774.9Z" fill="#fff" stroke="#000" stroke-width="1.2" stroke-linejoin="miter"/>
<path d="M418.25 763.6H429.15L423.7 753.6Z" fill="#fff" stroke="#000" stroke-width="1.2" stroke-linejoin="miter"/>
<path d="M441 747.2H451.9L446.45 737.2Z" fill="#fff" stroke="#000" stroke-width="1.2" stroke-linejoin="miter"/>
<path d="M463.75 736H474.65L469.2 726Z" fill="#fff" stroke="#000" stroke-width="1.2" stroke-linejoin="miter"/>
<path d="M486.5 729.9H497.4L491.95 719.9Z" fill="#fff" stroke="#000" stroke-width="1.2" stroke-linejoin="miter"/>
<path d="M534.8 650 L537.08 650.07 L539.35 650.14 L541.63 650.19 L543.9 650.23 L546.18 650.25 L548.46 650.23 L550.73 650.19 L553.01 650.11 L555.28 649.98 L557.56 649.8 L559.84 649.57 L562.11 649.32 L564.39 649.08 L566.66 648.87 L568.94 648.74 L571.22 648.7 L573.49 648.8 L575.77 649.06 L578.04 649.52 L580.32 650.2 L582.6 651.14 L584.87 652.34 L587.15 653.8 L589.42 655.54 L591.7 657.56 L593.98 659.86 L596.25 662.45 L598.53 665.33 L600.8 668.52 L603.08 672 L605.36 675.78 L607.63 679.83 L609.91 684.09 L612.18 688.52 L614.46 693.07 L616.74 697.69 L619.01 702.35 L621.29 706.98 L623.56 711.55 L625.84 716 L628.12 720.3 L630.39 724.46 L632.67 728.48 L634.94 732.37 L637.22 736.15 L639.5 739.83 L641.77 743.41 L644.05 746.9 L646.32 750.33 L648.6 753.7 L650.88 757.02 L653.15 760.28 L655.43 763.5 L657.7 766.66 L659.98 769.76 L662.26 772.81 L664.53 775.8 L666.81 778.73 L669.08 781.6 L671.36 784.4 L673.64 787.14 L675.91 789.81 L678.19 792.41 L680.46 794.93 L682.74 797.39 L685.02 799.76 L687.29 802.05 L689.57 804.25 L691.84 806.37 L694.12 808.4 L696.4 810.34 L698.67 812.18 L700.95 813.92 L703.22 815.57 L705.5 817.11 L707.78 818.55 L710.05 819.88 L712.33 821.1 L714.6 822.21 L716.88 823.2 L719.16 824.08 L721.43 824.85 L723.71 825.51 L725.98 826.07 L728.26 826.54 L730.54 826.93 L732.81 827.23 L735.09 827.45 L737.36 827.61 L739.64 827.7 L741.92 827.73 L744.19 827.69 L746.47 827.58 L748.74 827.38 L751.02 827.07 L753.3 826.66 L755.57 826.12 L757.85 825.46 L760.12 824.66 L762.4 823.7 L764.68 822.59 L766.95 821.33 L769.23 819.95 L771.5 818.47 L773.78 816.9 L776.06 815.26 L778.33 813.57 L780.61 811.85 L782.88 810.12 L785.16 808.4 L787.44 806.7 L789.71 804.99 L791.99 803.25 L794.26 801.46 L796.54 799.57 L798.82 797.57 L801.09 795.42 L803.37 793.09 L805.64 790.56 L807.92 787.8 L810.2 784.78 L812.47 781.54 L814.75 778.09 L817.02 774.46 L819.3 770.69 L821.58 766.81 L823.85 762.84 L826.13 758.81 L828.4 754.75 L830.68 750.7 L832.96 746.67 L835.23 742.69 L837.51 738.74 L839.78 734.85 L842.06 731.01 L844.34 727.24 L846.61 723.53 L848.89 719.9 L851.16 716.36 L853.44 712.9 L855.72 709.54 L857.99 706.29 L860.27 703.16 L862.54 700.18 L864.82 697.34 L867.1 694.68 L869.37 692.2 L871.65 689.91 L873.92 687.84 L876.2 686 L878.48 684.39 L880.75 683 L883.03 681.8 L885.3 680.78 L887.58 679.89 L889.86 679.13 L892.13 678.46 L894.41 677.87 L896.68 677.32 L898.96 676.8 L901.24 676.28 L903.51 675.76 L905.79 675.24 L908.06 674.72 L910.34 674.2 L912.62 673.68 L914.89 673.16 L917.17 672.64 L919.44 672.12 L921.72 671.6" fill="none" stroke="#000" stroke-width="1.35"/>
<circle cx="534.8" cy="650" r="5.75" fill="#000"/>
<circle cx="557.56" cy="649.8" r="5.75" fill="#000"/>
<circle cx="580.32" cy="650.2" r="5.75" fill="#000"/>
<circle cx="603.08" cy="672" r="5.75" fill="#000"/>
<circle cx="625.84" cy="716" r="5.75" fill="#000"/>
<circle cx="648.6" cy="753.7" r="5.75" fill="#000"/>
<circle cx="671.36" cy="784.4" r="5.75" fill="#000"/>
<circle cx="694.12" cy="808.4" r="5.75" fill="#000"/>
<circle cx="716.88" cy="823.2" r="5.75" fill="#000"/>
<circle cx="739.64" cy="827.7" r="5.75" fill="#000"/>
<circle cx="762.4" cy="823.7" r="5.75" fill="#000"/>
<circle cx="785.16" cy="808.4" r="5.75" fill="#000"/>
<circle cx="807.92" cy="787.8" r="5.75" fill="#000"/>
<circle cx="830.68" cy="750.7" r="5.75" fill="#000"/>
<circle cx="853.44" cy="712.9" r="5.75" fill="#000"/>
<circle cx="876.2" cy="686" r="5.75" fill="#000"/>
<circle cx="898.96" cy="676.8" r="5.75" fill="#000"/>
<circle cx="921.72" cy="671.6" r="5.75" fill="#000"/>
<path d="M534.8 662.5 L537.08 662.54 L539.35 662.58 L541.63 662.61 L543.9 662.63 L546.18 662.65 L548.46 662.65 L550.73 662.64 L553.01 662.61 L555.28 662.57 L557.56 662.5 L559.84 662.41 L562.11 662.31 L564.39 662.21 L566.66 662.12 L568.94 662.05 L571.22 662.02 L573.49 662.04 L575.77 662.12 L578.04 662.27 L580.32 662.5 L582.6 662.83 L584.87 663.28 L587.15 663.86 L589.42 664.62 L591.7 665.55 L593.98 666.7 L596.25 668.07 L598.53 669.7 L600.8 671.6 L603.08 673.8 L605.36 676.31 L607.63 679.1 L609.91 682.14 L612.18 685.38 L614.46 688.79 L616.74 692.33 L619.01 695.96 L621.29 699.64 L623.56 703.33 L625.84 707 L628.12 710.61 L630.39 714.17 L632.67 717.67 L634.94 721.12 L637.22 724.53 L639.5 727.91 L641.77 731.24 L644.05 734.55 L646.32 737.84 L648.6 741.1 L650.88 744.35 L653.15 747.58 L655.43 750.79 L657.7 753.98 L659.98 757.15 L662.26 760.28 L664.53 763.39 L666.81 766.46 L669.08 769.5 L671.36 772.5 L673.64 775.46 L675.91 778.36 L678.19 781.2 L680.46 783.97 L682.74 786.66 L685.02 789.26 L687.29 791.75 L689.57 794.13 L691.84 796.38 L694.12 798.5 L696.4 800.48 L698.67 802.31 L700.95 804 L703.22 805.56 L705.5 806.97 L707.78 808.24 L710.05 809.38 L712.33 810.39 L714.6 811.26 L716.88 812 L719.16 812.61 L721.43 813.09 L723.71 813.44 L725.98 813.65 L728.26 813.74 L730.54 813.7 L732.81 813.52 L735.09 813.21 L737.36 812.77 L739.64 812.2 L741.92 811.5 L744.19 810.67 L746.47 809.74 L748.74 808.72 L751.02 807.6 L753.3 806.42 L755.57 805.18 L757.85 803.88 L760.12 802.55 L762.4 801.2 L764.68 799.83 L766.95 798.45 L769.23 797.05 L771.5 795.63 L773.78 794.19 L776.06 792.73 L778.33 791.24 L780.61 789.73 L782.88 788.18 L785.16 786.6 L787.44 784.99 L789.71 783.33 L791.99 781.62 L794.26 779.86 L796.54 778.02 L798.82 776.12 L801.09 774.13 L803.37 772.05 L805.64 769.88 L807.92 767.6 L810.2 765.21 L812.47 762.73 L814.75 760.17 L817.02 757.56 L819.3 754.91 L821.58 752.25 L823.85 749.58 L826.13 746.94 L828.4 744.34 L830.68 741.8 L832.96 739.33 L835.23 736.93 L837.51 734.56 L839.78 732.23 L842.06 729.89 L844.34 727.55 L846.61 725.18 L848.89 722.76 L851.16 720.27 L853.44 717.7 L855.72 715.04 L857.99 712.31 L860.27 709.56 L862.54 706.83 L864.82 704.15 L867.1 701.57 L869.37 699.12 L871.65 696.85 L873.92 694.8 L876.2 693 L878.48 691.48 L880.75 690.22 L883.03 689.18 L885.3 688.33 L887.58 687.62 L889.86 687.02 L892.13 686.5 L894.41 686.01 L896.68 685.52 L898.96 685 L901.24 684.41 L903.51 683.75 L905.79 683.04 L908.06 682.27 L910.34 681.46 L912.62 680.61 L914.89 679.74 L917.17 678.84 L919.44 677.92 L921.72 677" fill="none" stroke="#000" stroke-width="1.1" stroke-dasharray="1.1 4.4"/>
<circle cx="534.8" cy="662.5" r="5.3" fill="#fff" stroke="#000" stroke-width="1.2"/>
<circle cx="557.56" cy="662.5" r="5.3" fill="#fff" stroke="#000" stroke-width="1.2"/>
<circle cx="580.32" cy="662.5" r="5.3" fill="#fff" stroke="#000" stroke-width="1.2"/>
<circle cx="603.08" cy="673.8" r="5.3" fill="#fff" stroke="#000" stroke-width="1.2"/>
<circle cx="625.84" cy="707" r="5.3" fill="#fff" stroke="#000" stroke-width="1.2"/>
<circle cx="648.6" cy="741.1" r="5.3" fill="#fff" stroke="#000" stroke-width="1.2"/>
<circle cx="671.36" cy="772.5" r="5.3" fill="#fff" stroke="#000" stroke-width="1.2"/>
<circle cx="694.12" cy="798.5" r="5.3" fill="#fff" stroke="#000" stroke-width="1.2"/>
<circle cx="716.88" cy="812" r="5.3" fill="#fff" stroke="#000" stroke-width="1.2"/>
<circle cx="739.64" cy="812.2" r="5.3" fill="#fff" stroke="#000" stroke-width="1.2"/>
<circle cx="762.4" cy="801.2" r="5.3" fill="#fff" stroke="#000" stroke-width="1.2"/>
<circle cx="785.16" cy="786.6" r="5.3" fill="#fff" stroke="#000" stroke-width="1.2"/>
<circle cx="807.92" cy="767.6" r="5.3" fill="#fff" stroke="#000" stroke-width="1.2"/>
<circle cx="830.68" cy="741.8" r="5.3" fill="#fff" stroke="#000" stroke-width="1.2"/>
<circle cx="853.44" cy="717.7" r="5.3" fill="#fff" stroke="#000" stroke-width="1.2"/>
<circle cx="876.2" cy="693" r="5.3" fill="#fff" stroke="#000" stroke-width="1.2"/>
<circle cx="898.96" cy="685" r="5.3" fill="#fff" stroke="#000" stroke-width="1.2"/>
<circle cx="921.72" cy="677" r="5.3" fill="#fff" stroke="#000" stroke-width="1.2"/>
<path d="M534.8 668 L537.08 667.99 L539.35 667.99 L541.63 667.98 L543.9 667.98 L546.18 667.98 L548.46 667.98 L550.73 667.98 L553.01 667.98 L555.28 667.99 L557.56 668 L559.84 668.01 L562.11 668.03 L564.39 668.04 L566.66 668.05 L568.94 668.06 L571.22 668.07 L573.49 668.06 L575.77 668.05 L578.04 668.03 L580.32 668 L582.6 667.96 L584.87 667.93 L587.15 667.94 L589.42 668 L591.7 668.16 L593.98 668.42 L596.25 668.83 L598.53 669.39 L600.8 670.14 L603.08 671.1 L605.36 672.29 L607.63 673.7 L609.91 675.32 L612.18 677.14 L614.46 679.13 L616.74 681.29 L619.01 683.6 L621.29 686.05 L623.56 688.62 L625.84 691.3 L628.12 694.08 L630.39 696.94 L632.67 699.89 L634.94 702.91 L637.22 706 L639.5 709.14 L641.77 712.35 L644.05 715.59 L646.32 718.88 L648.6 722.2 L650.88 725.54 L653.15 728.9 L655.43 732.24 L657.7 735.56 L659.98 738.85 L662.26 742.07 L664.53 745.23 L666.81 748.3 L669.08 751.26 L671.36 754.1 L673.64 756.81 L675.91 759.4 L678.19 761.9 L680.46 764.32 L682.74 766.68 L685.02 769 L687.29 771.3 L689.57 773.61 L691.84 775.93 L694.12 778.3 L696.4 780.72 L698.67 783.17 L700.95 785.63 L703.22 788.07 L705.5 790.46 L707.78 792.78 L710.05 795 L712.33 797.1 L714.6 799.04 L716.88 800.8 L719.16 802.36 L721.43 803.74 L723.71 804.95 L725.98 806 L728.26 806.92 L730.54 807.73 L732.81 808.45 L735.09 809.08 L737.36 809.66 L739.64 810.2 L741.92 810.71 L744.19 811.18 L746.47 811.59 L748.74 811.93 L751.02 812.17 L753.3 812.29 L755.57 812.29 L757.85 812.13 L760.12 811.81 L762.4 811.3 L764.68 810.59 L766.95 809.71 L769.23 808.66 L771.5 807.49 L773.78 806.2 L776.06 804.83 L778.33 803.4 L780.61 801.94 L782.88 800.46 L785.16 799 L787.44 797.56 L789.71 796.13 L791.99 794.67 L794.26 793.15 L796.54 791.54 L798.82 789.81 L801.09 787.92 L803.37 785.84 L805.64 783.55 L807.92 781 L810.2 778.18 L812.47 775.13 L814.75 771.88 L817.02 768.48 L819.3 764.97 L821.58 761.4 L823.85 757.82 L826.13 754.26 L828.4 750.77 L830.68 747.4 L832.96 744.18 L835.23 741.11 L837.51 738.17 L839.78 735.35 L842.06 732.64 L844.34 730.03 L846.61 727.51 L848.89 725.05 L851.16 722.65 L853.44 720.3 L855.72 717.98 L857.99 715.71 L860.27 713.5 L862.54 711.34 L864.82 709.27 L867.1 707.28 L869.37 705.38 L871.65 703.6 L873.92 701.94 L876.2 700.4 L878.48 699 L880.75 697.73 L883.03 696.57 L885.3 695.51 L887.58 694.54 L889.86 693.64 L892.13 692.8 L894.41 692 L896.68 691.24 L898.96 690.5 L901.24 689.76 L903.51 689.03 L905.79 688.31 L908.06 687.59 L910.34 686.87 L912.62 686.15 L914.89 685.44 L917.17 684.72 L919.44 684.01 L921.72 683.3" fill="none" stroke="#000" stroke-width="1.35" stroke-dasharray="12 6"/>
<path d="M528.35 662.05H541.25L534.8 673.95Z" fill="#000"/>
<path d="M551.11 662.05H564.01L557.56 673.95Z" fill="#000"/>
<path d="M573.87 662.05H586.77L580.32 673.95Z" fill="#000"/>
<path d="M596.63 665.15H609.53L603.08 677.05Z" fill="#000"/>
<path d="M619.39 685.35H632.29L625.84 697.25Z" fill="#000"/>
<path d="M642.15 716.25H655.05L648.6 728.15Z" fill="#000"/>
<path d="M664.91 748.15H677.81L671.36 760.05Z" fill="#000"/>
<path d="M687.67 772.35H700.57L694.12 784.25Z" fill="#000"/>
<path d="M710.43 794.85H723.33L716.88 806.75Z" fill="#000"/>
<path d="M733.19 804.25H746.09L739.64 816.15Z" fill="#000"/>
<path d="M755.95 805.35H768.85L762.4 817.25Z" fill="#000"/>
<path d="M778.71 793.05H791.61L785.16 804.95Z" fill="#000"/>
<path d="M801.47 775.05H814.37L807.92 786.95Z" fill="#000"/>
<path d="M824.23 741.45H837.13L830.68 753.35Z" fill="#000"/>
<path d="M846.99 714.35H859.89L853.44 726.25Z" fill="#000"/>
<path d="M869.75 694.45H882.65L876.2 706.35Z" fill="#000"/>
<path d="M892.51 684.55H905.41L898.96 696.45Z" fill="#000"/>
<path d="M915.27 677.35H928.17L921.72 689.25Z" fill="#000"/>
<path d="M534.8 658 L537.08 658.03 L539.35 658.06 L541.63 658.08 L543.9 658.1 L546.18 658.11 L548.46 658.11 L550.73 658.1 L553.01 658.08 L555.28 658.05 L557.56 658 L559.84 657.94 L562.11 657.86 L564.39 657.79 L566.66 657.72 L568.94 657.68 L571.22 657.66 L573.49 657.67 L575.77 657.72 L578.04 657.83 L580.32 658 L582.6 658.23 L584.87 658.53 L587.15 658.89 L589.42 659.3 L591.7 659.76 L593.98 660.26 L596.25 660.8 L598.53 661.37 L600.8 661.97 L603.08 662.6 L605.36 663.25 L607.63 663.93 L609.91 664.67 L612.18 665.48 L614.46 666.38 L616.74 667.39 L619.01 668.53 L621.29 669.82 L623.56 671.27 L625.84 672.9 L628.12 674.73 L630.39 676.73 L632.67 678.9 L634.94 681.21 L637.22 683.64 L639.5 686.17 L641.77 688.78 L644.05 691.45 L646.32 694.17 L648.6 696.9 L650.88 699.64 L653.15 702.38 L655.43 705.13 L657.7 707.9 L659.98 710.67 L662.26 713.47 L664.53 716.29 L666.81 719.13 L669.08 722 L671.36 724.9 L673.64 727.84 L675.91 730.8 L678.19 733.78 L680.46 736.78 L682.74 739.78 L685.02 742.78 L687.29 745.77 L689.57 748.74 L691.84 751.69 L694.12 754.6 L696.4 757.47 L698.67 760.29 L700.95 763.04 L703.22 765.71 L705.5 768.28 L707.78 770.74 L710.05 773.08 L712.33 775.27 L714.6 777.32 L716.88 779.2 L719.16 780.9 L721.43 782.45 L723.71 783.84 L725.98 785.1 L728.26 786.25 L730.54 787.29 L732.81 788.25 L735.09 789.15 L737.36 789.99 L739.64 790.8 L741.92 791.59 L744.19 792.35 L746.47 793.07 L748.74 793.76 L751.02 794.4 L753.3 794.99 L755.57 795.53 L757.85 795.99 L760.12 796.39 L762.4 796.7 L764.68 796.93 L766.95 797.06 L769.23 797.09 L771.5 797 L773.78 796.78 L776.06 796.42 L778.33 795.91 L780.61 795.25 L782.88 794.41 L785.16 793.4 L787.44 792.2 L789.71 790.81 L791.99 789.26 L794.26 787.54 L796.54 785.66 L798.82 783.64 L801.09 781.49 L803.37 779.21 L805.64 776.81 L807.92 774.3 L810.2 771.69 L812.47 768.99 L814.75 766.21 L817.02 763.35 L819.3 760.43 L821.58 757.45 L823.85 754.42 L826.13 751.34 L828.4 748.23 L830.68 745.1 L832.96 741.95 L835.23 738.79 L837.51 735.62 L839.78 732.46 L842.06 729.31 L844.34 726.18 L846.61 723.08 L848.89 720.01 L851.16 716.98 L853.44 714 L855.72 711.08 L857.99 708.22 L860.27 705.46 L862.54 702.8 L864.82 700.27 L867.1 697.87 L869.37 695.63 L871.65 693.56 L873.92 691.68 L876.2 690 L878.48 688.54 L880.75 687.27 L883.03 686.18 L885.3 685.22 L887.58 684.38 L889.86 683.64 L892.13 682.95 L894.41 682.3 L896.68 681.66 L898.96 681 L901.24 680.3 L903.51 679.57 L905.79 678.8 L908.06 678 L910.34 677.17 L912.62 676.32 L914.89 675.46 L917.17 674.58 L919.44 673.69 L921.72 672.8" fill="none" stroke="#000" stroke-width="1.35" stroke-dasharray="15 4.5 1.5 4 1.5 4.5"/>
<path d="M529.35 663H540.25L534.8 653Z" fill="#fff" stroke="#000" stroke-width="1.2" stroke-linejoin="miter"/>
<path d="M552.11 663H563.01L557.56 653Z" fill="#fff" stroke="#000" stroke-width="1.2" stroke-linejoin="miter"/>
<path d="M574.87 663H585.77L580.32 653Z" fill="#fff" stroke="#000" stroke-width="1.2" stroke-linejoin="miter"/>
<path d="M597.63 667.6H608.53L603.08 657.6Z" fill="#fff" stroke="#000" stroke-width="1.2" stroke-linejoin="miter"/>
<path d="M620.39 677.9H631.29L625.84 667.9Z" fill="#fff" stroke="#000" stroke-width="1.2" stroke-linejoin="miter"/>
<path d="M643.15 701.9H654.05L648.6 691.9Z" fill="#fff" stroke="#000" stroke-width="1.2" stroke-linejoin="miter"/>
<path d="M665.91 729.9H676.81L671.36 719.9Z" fill="#fff" stroke="#000" stroke-width="1.2" stroke-linejoin="miter"/>
<path d="M688.67 759.6H699.57L694.12 749.6Z" fill="#fff" stroke="#000" stroke-width="1.2" stroke-linejoin="miter"/>
<path d="M711.43 784.2H722.33L716.88 774.2Z" fill="#fff" stroke="#000" stroke-width="1.2" stroke-linejoin="miter"/>
<path d="M734.19 795.8H745.09L739.64 785.8Z" fill="#fff" stroke="#000" stroke-width="1.2" stroke-linejoin="miter"/>
<path d="M756.95 801.7H767.85L762.4 791.7Z" fill="#fff" stroke="#000" stroke-width="1.2" stroke-linejoin="miter"/>
<path d="M779.71 798.4H790.61L785.16 788.4Z" fill="#fff" stroke="#000" stroke-width="1.2" stroke-linejoin="miter"/>
<path d="M802.47 779.3H813.37L807.92 769.3Z" fill="#fff" stroke="#000" stroke-width="1.2" stroke-linejoin="miter"/>
<path d="M825.23 750.1H836.13L830.68 740.1Z" fill="#fff" stroke="#000" stroke-width="1.2" stroke-linejoin="miter"/>
<path d="M847.99 719H858.89L853.44 709Z" fill="#fff" stroke="#000" stroke-width="1.2" stroke-linejoin="miter"/>
<path d="M870.75 695H881.65L876.2 685Z" fill="#fff" stroke="#000" stroke-width="1.2" stroke-linejoin="miter"/>
<path d="M893.51 686H904.41L898.96 676Z" fill="#fff" stroke="#000" stroke-width="1.2" stroke-linejoin="miter"/>
<path d="M916.27 677.8H927.17L921.72 667.8Z" fill="#fff" stroke="#000" stroke-width="1.2" stroke-linejoin="miter"/>
<path d="M105.2 1153.4 L107.48 1153.33 L109.75 1153.26 L112.03 1153.2 L114.3 1153.13 L116.58 1153.07 L118.85 1153 L121.12 1152.95 L123.4 1152.89 L125.68 1152.84 L127.95 1152.8 L130.22 1152.76 L132.5 1152.68 L134.78 1152.54 L137.05 1152.3 L139.32 1151.92 L141.6 1151.36 L143.88 1150.6 L146.15 1149.59 L148.42 1148.3 L150.7 1146.7 L152.97 1144.76 L155.25 1142.51 L157.52 1139.99 L159.8 1137.26 L162.07 1134.35 L164.35 1131.31 L166.62 1128.18 L168.9 1125 L171.17 1121.83 L173.45 1118.7 L175.72 1115.65 L178 1112.67 L180.27 1109.75 L182.55 1106.87 L184.82 1104.01 L187.1 1101.16 L189.38 1098.3 L191.65 1095.41 L193.92 1092.48 L196.2 1089.5 L198.47 1086.45 L200.75 1083.33 L203.02 1080.15 L205.3 1076.93 L207.57 1073.66 L209.85 1070.36 L212.12 1067.04 L214.4 1063.7 L216.67 1060.35 L218.95 1057 L221.22 1053.66 L223.5 1050.33 L225.77 1047.04 L228.05 1043.77 L230.32 1040.56 L232.6 1037.4 L234.88 1034.3 L237.15 1031.28 L239.42 1028.34 L241.7 1025.5 L243.97 1022.76 L246.25 1020.12 L248.52 1017.58 L250.8 1015.13 L253.07 1012.78 L255.35 1010.53 L257.62 1008.36 L259.9 1006.29 L262.18 1004.3 L264.45 1002.4 L266.72 1000.58 L269 998.86 L271.27 997.26 L273.55 995.77 L275.82 994.43 L278.1 993.24 L280.38 992.22 L282.65 991.38 L284.93 990.74 L287.2 990.3 L289.47 990.08 L291.75 990.08 L294.02 990.27 L296.3 990.64 L298.57 991.18 L300.85 991.87 L303.12 992.7 L305.4 993.66 L307.68 994.73 L309.95 995.9 L312.22 997.16 L314.5 998.5 L316.77 999.94 L319.05 1001.48 L321.32 1003.13 L323.6 1004.9 L325.88 1006.78 L328.15 1008.79 L330.43 1010.93 L332.7 1013.2 L334.97 1015.61 L337.25 1018.16 L339.52 1020.84 L341.8 1023.63 L344.07 1026.54 L346.35 1029.54 L348.62 1032.64 L350.9 1035.82 L353.18 1039.07 L355.45 1042.4 L357.72 1045.79 L360 1049.22 L362.27 1052.69 L364.55 1056.19 L366.82 1059.71 L369.1 1063.24 L371.38 1066.76 L373.65 1070.27 L375.93 1073.75 L378.2 1077.2 L380.47 1080.6 L382.75 1083.94 L385.02 1087.2 L387.3 1090.37 L389.57 1093.43 L391.85 1096.36 L394.12 1099.15 L396.4 1101.78 L398.68 1104.23 L400.95 1106.5 L403.22 1108.57 L405.5 1110.45 L407.77 1112.17 L410.05 1113.75 L412.32 1115.21 L414.6 1116.57 L416.88 1117.86 L419.15 1119.1 L421.43 1120.3 L423.7 1121.5 L425.97 1122.71 L428.25 1123.92 L430.52 1125.13 L432.8 1126.34 L435.07 1127.53 L437.35 1128.69 L439.62 1129.83 L441.9 1130.93 L444.18 1131.99 L446.45 1133 L448.72 1133.95 L451 1134.85 L453.27 1135.7 L455.55 1136.5 L457.82 1137.25 L460.1 1137.97 L462.38 1138.65 L464.65 1139.3 L466.93 1139.91 L469.2 1140.5 L471.47 1141.07 L473.75 1141.61 L476.02 1142.14 L478.3 1142.65 L480.57 1143.14 L482.85 1143.63 L485.12 1144.11 L487.4 1144.57 L489.68 1145.04 L491.95 1145.5" fill="none" stroke="#000" stroke-width="1.35"/>
<circle cx="105.2" cy="1153.4" r="5.75" fill="#000"/>
<circle cx="127.95" cy="1152.8" r="5.75" fill="#000"/>
<circle cx="150.7" cy="1146.7" r="5.75" fill="#000"/>
<circle cx="173.45" cy="1118.7" r="5.75" fill="#000"/>
<circle cx="196.2" cy="1089.5" r="5.75" fill="#000"/>
<circle cx="218.95" cy="1057" r="5.75" fill="#000"/>
<circle cx="241.7" cy="1025.5" r="5.75" fill="#000"/>
<circle cx="264.45" cy="1002.4" r="5.75" fill="#000"/>
<circle cx="287.2" cy="990.3" r="5.75" fill="#000"/>
<circle cx="309.95" cy="995.9" r="5.75" fill="#000"/>
<circle cx="332.7" cy="1013.2" r="5.75" fill="#000"/>
<circle cx="355.45" cy="1042.4" r="5.75" fill="#000"/>
<circle cx="378.2" cy="1077.2" r="5.75" fill="#000"/>
<circle cx="400.95" cy="1106.5" r="5.75" fill="#000"/>
<circle cx="423.7" cy="1121.5" r="5.75" fill="#000"/>
<circle cx="446.45" cy="1133" r="5.75" fill="#000"/>
<circle cx="469.2" cy="1140.5" r="5.75" fill="#000"/>
<circle cx="491.95" cy="1145.5" r="5.75" fill="#000"/>
<path d="M105.2 1153.4 L107.48 1153.34 L109.75 1153.27 L112.03 1153.22 L114.3 1153.18 L116.58 1153.16 L118.85 1153.15 L121.12 1153.17 L123.4 1153.21 L125.68 1153.29 L127.95 1153.4 L130.22 1153.54 L132.5 1153.7 L134.78 1153.82 L137.05 1153.89 L139.32 1153.86 L141.6 1153.71 L143.88 1153.4 L146.15 1152.9 L148.42 1152.18 L150.7 1151.2 L152.97 1149.94 L155.25 1148.4 L157.52 1146.59 L159.8 1144.53 L162.07 1142.21 L164.35 1139.65 L166.62 1136.86 L168.9 1133.85 L171.17 1130.63 L173.45 1127.2 L175.72 1123.59 L178 1119.82 L180.27 1115.93 L182.55 1111.95 L184.82 1107.93 L187.1 1103.9 L189.38 1099.89 L191.65 1095.95 L193.92 1092.11 L196.2 1088.4 L198.47 1084.85 L200.75 1081.43 L203.02 1078.08 L205.3 1074.77 L207.57 1071.45 L209.85 1068.08 L212.12 1064.6 L214.4 1060.98 L216.67 1057.16 L218.95 1053.1 L221.22 1048.77 L223.5 1044.2 L225.77 1039.43 L228.05 1034.49 L230.32 1029.44 L232.6 1024.3 L234.88 1019.13 L237.15 1013.96 L239.42 1008.84 L241.7 1003.8 L243.97 998.89 L246.25 994.13 L248.52 989.58 L250.8 985.25 L253.07 981.19 L255.35 977.44 L257.62 974.01 L259.9 970.96 L262.18 968.31 L264.45 966.1 L266.72 964.35 L269 963.03 L271.27 962.1 L273.55 961.51 L275.82 961.22 L278.1 961.19 L280.38 961.36 L282.65 961.7 L284.93 962.16 L287.2 962.7 L289.47 963.29 L291.75 963.95 L294.02 964.71 L296.3 965.62 L298.57 966.72 L300.85 968.03 L303.12 969.6 L305.4 971.46 L307.68 973.64 L309.95 976.2 L312.22 979.14 L314.5 982.44 L316.77 986.04 L319.05 989.89 L321.32 993.95 L323.6 998.15 L325.88 1002.46 L328.15 1006.82 L330.43 1011.19 L332.7 1015.5 L334.97 1019.73 L337.25 1023.85 L339.52 1027.89 L341.8 1031.83 L344.07 1035.68 L346.35 1039.43 L348.62 1043.1 L350.9 1046.69 L353.18 1050.19 L355.45 1053.6 L357.72 1056.93 L360 1060.19 L362.27 1063.37 L364.55 1066.48 L366.82 1069.53 L369.1 1072.51 L371.38 1075.44 L373.65 1078.31 L375.93 1081.13 L378.2 1083.9 L380.47 1086.63 L382.75 1089.3 L385.02 1091.91 L387.3 1094.45 L389.57 1096.89 L391.85 1099.24 L394.12 1101.47 L396.4 1103.59 L398.68 1105.56 L400.95 1107.4 L403.22 1109.08 L405.5 1110.63 L407.77 1112.06 L410.05 1113.4 L412.32 1114.66 L414.6 1115.86 L416.88 1117.03 L419.15 1118.17 L421.43 1119.33 L423.7 1120.5 L425.97 1121.71 L428.25 1122.95 L430.52 1124.22 L432.8 1125.49 L435.07 1126.75 L437.35 1128 L439.62 1129.22 L441.9 1130.4 L444.18 1131.53 L446.45 1132.6 L448.72 1133.59 L451 1134.52 L453.27 1135.38 L455.55 1136.18 L457.82 1136.92 L460.1 1137.62 L462.38 1138.27 L464.65 1138.88 L466.93 1139.45 L469.2 1140 L471.47 1140.52 L473.75 1141.02 L476.02 1141.5 L478.3 1141.96 L480.57 1142.4 L482.85 1142.84 L485.12 1143.26 L487.4 1143.68 L489.68 1144.09 L491.95 1144.5" fill="none" stroke="#000" stroke-width="1.1" stroke-dasharray="1.1 4.4"/>
<circle cx="105.2" cy="1153.4" r="5.3" fill="#fff" stroke="#000" stroke-width="1.2"/>
<circle cx="127.95" cy="1153.4" r="5.3" fill="#fff" stroke="#000" stroke-width="1.2"/>
<circle cx="150.7" cy="1151.2" r="5.3" fill="#fff" stroke="#000" stroke-width="1.2"/>
<circle cx="173.45" cy="1127.2" r="5.3" fill="#fff" stroke="#000" stroke-width="1.2"/>
<circle cx="196.2" cy="1088.4" r="5.3" fill="#fff" stroke="#000" stroke-width="1.2"/>
<circle cx="218.95" cy="1053.1" r="5.3" fill="#fff" stroke="#000" stroke-width="1.2"/>
<circle cx="241.7" cy="1003.8" r="5.3" fill="#fff" stroke="#000" stroke-width="1.2"/>
<circle cx="264.45" cy="966.1" r="5.3" fill="#fff" stroke="#000" stroke-width="1.2"/>
<circle cx="287.2" cy="962.7" r="5.3" fill="#fff" stroke="#000" stroke-width="1.2"/>
<circle cx="309.95" cy="976.2" r="5.3" fill="#fff" stroke="#000" stroke-width="1.2"/>
<circle cx="332.7" cy="1015.5" r="5.3" fill="#fff" stroke="#000" stroke-width="1.2"/>
<circle cx="355.45" cy="1053.6" r="5.3" fill="#fff" stroke="#000" stroke-width="1.2"/>
<circle cx="378.2" cy="1083.9" r="5.3" fill="#fff" stroke="#000" stroke-width="1.2"/>
<circle cx="400.95" cy="1107.4" r="5.3" fill="#fff" stroke="#000" stroke-width="1.2"/>
<circle cx="423.7" cy="1120.5" r="5.3" fill="#fff" stroke="#000" stroke-width="1.2"/>
<circle cx="446.45" cy="1132.6" r="5.3" fill="#fff" stroke="#000" stroke-width="1.2"/>
<circle cx="469.2" cy="1140" r="5.3" fill="#fff" stroke="#000" stroke-width="1.2"/>
<circle cx="491.95" cy="1144.5" r="5.3" fill="#fff" stroke="#000" stroke-width="1.2"/>
<path d="M105.2 1157.5 L107.48 1157.5 L109.75 1157.5 L112.03 1157.5 L114.3 1157.52 L116.58 1157.55 L118.85 1157.59 L121.12 1157.66 L123.4 1157.75 L125.68 1157.86 L127.95 1158 L130.22 1158.17 L132.5 1158.34 L134.78 1158.5 L137.05 1158.61 L139.32 1158.64 L141.6 1158.58 L143.88 1158.39 L146.15 1158.04 L148.42 1157.52 L150.7 1156.8 L152.97 1155.85 L155.25 1154.68 L157.52 1153.29 L159.8 1151.71 L162.07 1149.92 L164.35 1147.96 L166.62 1145.81 L168.9 1143.5 L171.17 1141.02 L173.45 1138.4 L175.72 1135.64 L178 1132.73 L180.27 1129.69 L182.55 1126.51 L184.82 1123.2 L187.1 1119.76 L189.38 1116.18 L191.65 1112.48 L193.92 1108.65 L196.2 1104.7 L198.47 1100.63 L200.75 1096.44 L203.02 1092.17 L205.3 1087.81 L207.57 1083.39 L209.85 1078.91 L212.12 1074.4 L214.4 1069.87 L216.67 1065.33 L218.95 1060.8 L221.22 1056.28 L223.5 1051.78 L225.77 1047.28 L228.05 1042.77 L230.32 1038.24 L232.6 1033.69 L234.88 1029.1 L237.15 1024.46 L239.42 1019.76 L241.7 1015 L243.97 1010.17 L246.25 1005.3 L248.52 1000.43 L250.8 995.6 L253.07 990.84 L255.35 986.2 L257.62 981.7 L259.9 977.4 L262.18 973.32 L264.45 969.5 L266.72 965.98 L269 962.74 L271.27 959.77 L273.55 957.07 L275.82 954.6 L278.1 952.36 L280.38 950.34 L282.65 948.51 L284.93 946.87 L287.2 945.4 L289.47 944.09 L291.75 942.97 L294.02 942.07 L296.3 941.42 L298.57 941.07 L300.85 941.03 L303.12 941.36 L305.4 942.07 L307.68 943.21 L309.95 944.8 L312.22 946.87 L314.5 949.4 L316.77 952.34 L319.05 955.66 L321.32 959.31 L323.6 963.27 L325.88 967.48 L328.15 971.92 L330.43 976.54 L332.7 981.3 L334.97 986.17 L337.25 991.13 L339.52 996.16 L341.8 1001.22 L344.07 1006.3 L346.35 1011.37 L348.62 1016.43 L350.9 1021.43 L353.18 1026.36 L355.45 1031.2 L357.72 1035.93 L360 1040.55 L362.27 1045.07 L364.55 1049.48 L366.82 1053.81 L369.1 1058.04 L371.38 1062.2 L373.65 1066.27 L375.93 1070.27 L378.2 1074.2 L380.47 1078.07 L382.75 1081.85 L385.02 1085.54 L387.3 1089.13 L389.57 1092.58 L391.85 1095.89 L394.12 1099.05 L396.4 1102.03 L398.68 1104.82 L400.95 1107.4 L403.22 1109.77 L405.5 1111.93 L407.77 1113.92 L410.05 1115.73 L412.32 1117.41 L414.6 1118.96 L416.88 1120.4 L419.15 1121.76 L421.43 1123.05 L423.7 1124.3 L425.97 1125.51 L428.25 1126.7 L430.52 1127.87 L432.8 1129.01 L435.07 1130.13 L437.35 1131.24 L439.62 1132.32 L441.9 1133.4 L444.18 1134.45 L446.45 1135.5 L448.72 1136.54 L451 1137.56 L453.27 1138.55 L455.55 1139.53 L457.82 1140.47 L460.1 1141.37 L462.38 1142.23 L464.65 1143.04 L466.93 1143.8 L469.2 1144.5 L471.47 1145.14 L473.75 1145.71 L476.02 1146.24 L478.3 1146.72 L480.57 1147.16 L482.85 1147.56 L485.12 1147.95 L487.4 1148.31 L489.68 1148.66 L491.95 1149" fill="none" stroke="#000" stroke-width="1.35" stroke-dasharray="12 6"/>
<path d="M98.75 1151.55H111.65L105.2 1163.45Z" fill="#000"/>
<path d="M121.5 1152.05H134.4L127.95 1163.95Z" fill="#000"/>
<path d="M144.25 1150.85H157.15L150.7 1162.75Z" fill="#000"/>
<path d="M167 1132.45H179.9L173.45 1144.35Z" fill="#000"/>
<path d="M189.75 1098.75H202.65L196.2 1110.65Z" fill="#000"/>
<path d="M212.5 1054.85H225.4L218.95 1066.75Z" fill="#000"/>
<path d="M235.25 1009.05H248.15L241.7 1020.95Z" fill="#000"/>
<path d="M258 963.55H270.9L264.45 975.45Z" fill="#000"/>
<path d="M280.75 939.45H293.65L287.2 951.35Z" fill="#000"/>
<path d="M303.5 938.85H316.4L309.95 950.75Z" fill="#000"/>
<path d="M326.25 975.35H339.15L332.7 987.25Z" fill="#000"/>
<path d="M349 1025.25H361.9L355.45 1037.15Z" fill="#000"/>
<path d="M371.75 1068.25H384.65L378.2 1080.15Z" fill="#000"/>
<path d="M394.5 1101.45H407.4L400.95 1113.35Z" fill="#000"/>
<path d="M417.25 1118.35H430.15L423.7 1130.25Z" fill="#000"/>
<path d="M440 1129.55H452.9L446.45 1141.45Z" fill="#000"/>
<path d="M462.75 1138.55H475.65L469.2 1150.45Z" fill="#000"/>
<path d="M485.5 1143.05H498.4L491.95 1154.95Z" fill="#000"/>
<path d="M105.2 1156.4 L107.48 1156.46 L109.75 1156.53 L112.03 1156.59 L114.3 1156.64 L116.58 1156.69 L118.85 1156.73 L121.12 1156.77 L123.4 1156.79 L125.68 1156.8 L127.95 1156.8 L130.22 1156.78 L132.5 1156.75 L134.78 1156.68 L137.05 1156.59 L139.32 1156.45 L141.6 1156.28 L143.88 1156.05 L146.15 1155.76 L148.42 1155.41 L150.7 1155 L152.97 1154.51 L155.25 1153.94 L157.52 1153.27 L159.8 1152.5 L162.07 1151.61 L164.35 1150.6 L166.62 1149.45 L168.9 1148.16 L171.17 1146.71 L173.45 1145.1 L175.72 1143.32 L178 1141.36 L180.27 1139.25 L182.55 1136.98 L184.82 1134.56 L187.1 1132 L189.38 1129.31 L191.65 1126.49 L193.92 1123.55 L196.2 1120.5 L198.47 1117.34 L200.75 1114.08 L203.02 1110.72 L205.3 1107.27 L207.57 1103.74 L209.85 1100.13 L212.12 1096.45 L214.4 1092.69 L216.67 1088.87 L218.95 1085 L221.22 1081.07 L223.5 1077.08 L225.77 1073.03 L228.05 1068.91 L230.32 1064.72 L232.6 1060.44 L234.88 1056.07 L237.15 1051.62 L239.42 1047.06 L241.7 1042.4 L243.97 1037.63 L246.25 1032.78 L248.52 1027.88 L250.8 1022.94 L253.07 1017.99 L255.35 1013.07 L257.62 1008.19 L259.9 1003.39 L262.18 998.68 L264.45 994.1 L266.72 989.67 L269 985.41 L271.27 981.34 L273.55 977.48 L275.82 973.85 L278.1 970.47 L280.38 967.35 L282.65 964.52 L284.93 962 L287.2 959.8 L289.47 957.94 L291.75 956.41 L294.02 955.2 L296.3 954.31 L298.57 953.72 L300.85 953.42 L303.12 953.39 L305.4 953.64 L307.68 954.15 L309.95 954.9 L312.22 955.89 L314.5 957.12 L316.77 958.58 L319.05 960.27 L321.32 962.19 L323.6 964.33 L325.88 966.7 L328.15 969.28 L330.43 972.08 L332.7 975.1 L334.97 978.33 L337.25 981.74 L339.52 985.34 L341.8 989.08 L344.07 992.96 L346.35 996.96 L348.62 1001.05 L350.9 1005.22 L353.18 1009.44 L355.45 1013.7 L357.72 1017.98 L360 1022.29 L362.27 1026.63 L364.55 1031.01 L366.82 1035.44 L369.1 1039.91 L371.38 1044.45 L373.65 1049.06 L375.93 1053.74 L378.2 1058.5 L380.47 1063.34 L382.75 1068.22 L385.02 1073.08 L387.3 1077.88 L389.57 1082.57 L391.85 1087.09 L394.12 1091.39 L396.4 1095.43 L398.68 1099.15 L400.95 1102.5 L403.22 1105.45 L405.5 1108.02 L407.77 1110.26 L410.05 1112.22 L412.32 1113.94 L414.6 1115.46 L416.88 1116.84 L419.15 1118.1 L421.43 1119.31 L423.7 1120.5 L425.97 1121.71 L428.25 1122.94 L430.52 1124.19 L432.8 1125.44 L435.07 1126.69 L437.35 1127.92 L439.62 1129.14 L441.9 1130.33 L444.18 1131.49 L446.45 1132.6 L448.72 1133.66 L451 1134.68 L453.27 1135.64 L455.55 1136.56 L457.82 1137.43 L460.1 1138.25 L462.38 1139.03 L464.65 1139.76 L466.93 1140.45 L469.2 1141.1 L471.47 1141.71 L473.75 1142.28 L476.02 1142.82 L478.3 1143.32 L480.57 1143.81 L482.85 1144.27 L485.12 1144.72 L487.4 1145.15 L489.68 1145.58 L491.95 1146" fill="none" stroke="#000" stroke-width="1.35" stroke-dasharray="15 4.5 1.5 4 1.5 4.5"/>
<path d="M99.75 1161.4H110.65L105.2 1151.4Z" fill="#fff" stroke="#000" stroke-width="1.2" stroke-linejoin="miter"/>
<path d="M122.5 1161.8H133.4L127.95 1151.8Z" fill="#fff" stroke="#000" stroke-width="1.2" stroke-linejoin="miter"/>
<path d="M145.25 1160H156.15L150.7 1150Z" fill="#fff" stroke="#000" stroke-width="1.2" stroke-linejoin="miter"/>
<path d="M168 1150.1H178.9L173.45 1140.1Z" fill="#fff" stroke="#000" stroke-width="1.2" stroke-linejoin="miter"/>
<path d="M190.75 1125.5H201.65L196.2 1115.5Z" fill="#fff" stroke="#000" stroke-width="1.2" stroke-linejoin="miter"/>
<path d="M213.5 1090H224.4L218.95 1080Z" fill="#fff" stroke="#000" stroke-width="1.2" stroke-linejoin="miter"/>
<path d="M236.25 1047.4H247.15L241.7 1037.4Z" fill="#fff" stroke="#000" stroke-width="1.2" stroke-linejoin="miter"/>
<path d="M259 999.1H269.9L264.45 989.1Z" fill="#fff" stroke="#000" stroke-width="1.2" stroke-linejoin="miter"/>
<path d="M281.75 964.8H292.65L287.2 954.8Z" fill="#fff" stroke="#000" stroke-width="1.2" stroke-linejoin="miter"/>
<path d="M304.5 959.9H315.4L309.95 949.9Z" fill="#fff" stroke="#000" stroke-width="1.2" stroke-linejoin="miter"/>
<path d="M327.25 980.1H338.15L332.7 970.1Z" fill="#fff" stroke="#000" stroke-width="1.2" stroke-linejoin="miter"/>
<path d="M350 1018.7H360.9L355.45 1008.7Z" fill="#fff" stroke="#000" stroke-width="1.2" stroke-linejoin="miter"/>
<path d="M372.75 1063.5H383.65L378.2 1053.5Z" fill="#fff" stroke="#000" stroke-width="1.2" stroke-linejoin="miter"/>
<path d="M395.5 1107.5H406.4L400.95 1097.5Z" fill="#fff" stroke="#000" stroke-width="1.2" stroke-linejoin="miter"/>
<path d="M418.25 1125.5H429.15L423.7 1115.5Z" fill="#fff" stroke="#000" stroke-width="1.2" stroke-linejoin="miter"/>
<path d="M441 1137.6H451.9L446.45 1127.6Z" fill="#fff" stroke="#000" stroke-width="1.2" stroke-linejoin="miter"/>
<path d="M463.75 1146.1H474.65L469.2 1136.1Z" fill="#fff" stroke="#000" stroke-width="1.2" stroke-linejoin="miter"/>
<path d="M486.5 1151H497.4L491.95 1141Z" fill="#fff" stroke="#000" stroke-width="1.2" stroke-linejoin="miter"/>
<path d="M534.8 1179 L537.08 1178.97 L539.35 1178.95 L541.63 1178.93 L543.9 1178.91 L546.18 1178.9 L548.46 1178.9 L550.73 1178.91 L553.01 1178.92 L555.28 1178.95 L557.56 1179 L559.84 1179.06 L562.11 1179.13 L564.39 1179.19 L566.66 1179.25 L568.94 1179.3 L571.22 1179.32 L573.49 1179.3 L575.77 1179.25 L578.04 1179.15 L580.32 1179 L582.6 1178.78 L584.87 1178.46 L587.15 1178 L589.42 1177.37 L591.7 1176.54 L593.98 1175.46 L596.25 1174.1 L598.53 1172.43 L600.8 1170.41 L603.08 1168 L605.36 1165.18 L607.63 1161.99 L609.91 1158.48 L612.18 1154.71 L614.46 1150.72 L616.74 1146.57 L619.01 1142.31 L621.29 1138 L623.56 1133.67 L625.84 1129.4 L628.12 1125.21 L630.39 1121.11 L632.67 1117.09 L634.94 1113.12 L637.22 1109.21 L639.5 1105.33 L641.77 1101.47 L644.05 1097.62 L646.32 1093.77 L648.6 1089.9 L650.88 1086.01 L653.15 1082.08 L655.43 1078.13 L657.7 1074.15 L659.98 1070.13 L662.26 1066.09 L664.53 1062.02 L666.81 1057.91 L669.08 1053.77 L671.36 1049.6 L673.64 1045.4 L675.91 1041.18 L678.19 1036.97 L680.46 1032.79 L682.74 1028.64 L685.02 1024.56 L687.29 1020.55 L689.57 1016.64 L691.84 1012.85 L694.12 1009.2 L696.4 1005.7 L698.67 1002.36 L700.95 999.2 L703.22 996.23 L705.5 993.45 L707.78 990.88 L710.05 988.53 L712.33 986.41 L714.6 984.53 L716.88 982.9 L719.16 981.53 L721.43 980.39 L723.71 979.46 L725.98 978.73 L728.26 978.16 L730.54 977.72 L732.81 977.4 L735.09 977.18 L737.36 977.02 L739.64 976.9 L741.92 976.81 L744.19 976.77 L746.47 976.81 L748.74 976.97 L751.02 977.28 L753.3 977.77 L755.57 978.47 L757.85 979.42 L760.12 980.66 L762.4 982.2 L764.68 984.08 L766.95 986.27 L769.23 988.73 L771.5 991.42 L773.78 994.32 L776.06 997.38 L778.33 1000.56 L780.61 1003.83 L782.88 1007.16 L785.16 1010.5 L787.44 1013.83 L789.71 1017.17 L791.99 1020.54 L794.26 1023.97 L796.54 1027.49 L798.82 1031.12 L801.09 1034.89 L803.37 1038.82 L805.64 1042.95 L807.92 1047.3 L810.2 1051.88 L812.47 1056.67 L814.75 1061.6 L817.02 1066.65 L819.3 1071.77 L821.58 1076.9 L823.85 1082 L826.13 1087.03 L828.4 1091.95 L830.68 1096.7 L832.96 1101.25 L835.23 1105.6 L837.51 1109.75 L839.78 1113.72 L842.06 1117.51 L844.34 1121.12 L846.61 1124.57 L848.89 1127.86 L851.16 1131 L853.44 1134 L855.72 1136.86 L857.99 1139.57 L860.27 1142.14 L862.54 1144.56 L864.82 1146.81 L867.1 1148.9 L869.37 1150.82 L871.65 1152.56 L873.92 1154.13 L876.2 1155.5 L878.48 1156.69 L880.75 1157.7 L883.03 1158.55 L885.3 1159.28 L887.58 1159.89 L889.86 1160.4 L892.13 1160.84 L894.41 1161.22 L896.68 1161.57 L898.96 1161.9 L901.24 1162.23 L903.51 1162.56 L905.79 1162.9 L908.06 1163.24 L910.34 1163.58 L912.62 1163.92 L914.89 1164.26 L917.17 1164.61 L919.44 1164.95 L921.72 1165.3" fill="none" stroke="#000" stroke-width="1.35"/>
<circle cx="534.8" cy="1179" r="5.75" fill="#000"/>
<circle cx="557.56" cy="1179" r="5.75" fill="#000"/>
<circle cx="580.32" cy="1179" r="5.75" fill="#000"/>
<circle cx="603.08" cy="1168" r="5.75" fill="#000"/>
<circle cx="625.84" cy="1129.4" r="5.75" fill="#000"/>
<circle cx="648.6" cy="1089.9" r="5.75" fill="#000"/>
<circle cx="671.36" cy="1049.6" r="5.75" fill="#000"/>
<circle cx="694.12" cy="1009.2" r="5.75" fill="#000"/>
<circle cx="716.88" cy="982.9" r="5.75" fill="#000"/>
<circle cx="739.64" cy="976.9" r="5.75" fill="#000"/>
<circle cx="762.4" cy="982.2" r="5.75" fill="#000"/>
<circle cx="785.16" cy="1010.5" r="5.75" fill="#000"/>
<circle cx="807.92" cy="1047.3" r="5.75" fill="#000"/>
<circle cx="830.68" cy="1096.7" r="5.75" fill="#000"/>
<circle cx="853.44" cy="1134" r="5.75" fill="#000"/>
<circle cx="876.2" cy="1155.5" r="5.75" fill="#000"/>
<circle cx="898.96" cy="1161.9" r="5.75" fill="#000"/>
<circle cx="921.72" cy="1165.3" r="5.75" fill="#000"/>
<path d="M534.8 1173.5 L537.08 1173.46 L539.35 1173.42 L541.63 1173.39 L543.9 1173.37 L546.18 1173.35 L548.46 1173.35 L550.73 1173.36 L553.01 1173.39 L555.28 1173.43 L557.56 1173.5 L559.84 1173.59 L562.11 1173.69 L564.39 1173.79 L566.66 1173.88 L568.94 1173.94 L571.22 1173.97 L573.49 1173.95 L575.77 1173.88 L578.04 1173.73 L580.32 1173.5 L582.6 1173.18 L584.87 1172.75 L587.15 1172.21 L589.42 1171.54 L591.7 1170.74 L593.98 1169.78 L596.25 1168.68 L598.53 1167.4 L600.8 1165.94 L603.08 1164.3 L605.36 1162.46 L607.63 1160.44 L609.91 1158.24 L612.18 1155.89 L614.46 1153.39 L616.74 1150.77 L619.01 1148.04 L621.29 1145.2 L623.56 1142.29 L625.84 1139.3 L628.12 1136.25 L630.39 1133.15 L632.67 1130 L634.94 1126.78 L637.22 1123.51 L639.5 1120.19 L641.77 1116.8 L644.05 1113.36 L646.32 1109.86 L648.6 1106.3 L650.88 1102.68 L653.15 1099 L655.43 1095.26 L657.7 1091.45 L659.98 1087.58 L662.26 1083.63 L664.53 1079.61 L666.81 1075.52 L669.08 1071.35 L671.36 1067.1 L673.64 1062.77 L675.91 1058.4 L678.19 1054.01 L680.46 1049.63 L682.74 1045.3 L685.02 1041.05 L687.29 1036.91 L689.57 1032.92 L691.84 1029.11 L694.12 1025.5 L696.4 1022.13 L698.67 1019 L700.95 1016.13 L703.22 1013.5 L705.5 1011.12 L707.78 1009 L710.05 1007.13 L712.33 1005.52 L714.6 1004.18 L716.88 1003.1 L719.16 1002.29 L721.43 1001.73 L723.71 1001.4 L725.98 1001.31 L728.26 1001.43 L730.54 1001.74 L732.81 1002.24 L735.09 1002.91 L737.36 1003.73 L739.64 1004.7 L741.92 1005.8 L744.19 1007.02 L746.47 1008.37 L748.74 1009.84 L751.02 1011.43 L753.3 1013.14 L755.57 1014.96 L757.85 1016.9 L760.12 1018.94 L762.4 1021.1 L764.68 1023.36 L766.95 1025.73 L769.23 1028.18 L771.5 1030.72 L773.78 1033.33 L776.06 1036.02 L778.33 1038.77 L780.61 1041.57 L782.88 1044.41 L785.16 1047.3 L787.44 1050.22 L789.71 1053.17 L791.99 1056.15 L794.26 1059.16 L796.54 1062.2 L798.82 1065.26 L801.09 1068.36 L803.37 1071.48 L805.64 1074.63 L807.92 1077.8 L810.2 1081 L812.47 1084.2 L814.75 1087.41 L817.02 1090.59 L819.3 1093.75 L821.58 1096.86 L823.85 1099.92 L826.13 1102.9 L828.4 1105.8 L830.68 1108.6 L832.96 1111.29 L835.23 1113.88 L837.51 1116.37 L839.78 1118.79 L842.06 1121.14 L844.34 1123.42 L846.61 1125.66 L848.89 1127.86 L851.16 1130.04 L853.44 1132.2 L855.72 1134.35 L857.99 1136.48 L860.27 1138.57 L862.54 1140.6 L864.82 1142.55 L867.1 1144.4 L869.37 1146.14 L871.65 1147.75 L873.92 1149.21 L876.2 1150.5 L878.48 1151.61 L880.75 1152.55 L883.03 1153.35 L885.3 1154.03 L887.58 1154.61 L889.86 1155.1 L892.13 1155.54 L894.41 1155.93 L896.68 1156.31 L898.96 1156.7 L901.24 1157.11 L903.51 1157.54 L905.79 1157.99 L908.06 1158.46 L910.34 1158.94 L912.62 1159.44 L914.89 1159.94 L917.17 1160.46 L919.44 1160.98 L921.72 1161.5" fill="none" stroke="#000" stroke-width="1.1" stroke-dasharray="1.1 4.4"/>
<circle cx="534.8" cy="1173.5" r="5.3" fill="#fff" stroke="#000" stroke-width="1.2"/>
<circle cx="557.56" cy="1173.5" r="5.3" fill="#fff" stroke="#000" stroke-width="1.2"/>
<circle cx="580.32" cy="1173.5" r="5.3" fill="#fff" stroke="#000" stroke-width="1.2"/>
<circle cx="603.08" cy="1164.3" r="5.3" fill="#fff" stroke="#000" stroke-width="1.2"/>
<circle cx="625.84" cy="1139.3" r="5.3" fill="#fff" stroke="#000" stroke-width="1.2"/>
<circle cx="648.6" cy="1106.3" r="5.3" fill="#fff" stroke="#000" stroke-width="1.2"/>
<circle cx="671.36" cy="1067.1" r="5.3" fill="#fff" stroke="#000" stroke-width="1.2"/>
<circle cx="694.12" cy="1025.5" r="5.3" fill="#fff" stroke="#000" stroke-width="1.2"/>
<circle cx="716.88" cy="1003.1" r="5.3" fill="#fff" stroke="#000" stroke-width="1.2"/>
<circle cx="739.64" cy="1004.7" r="5.3" fill="#fff" stroke="#000" stroke-width="1.2"/>
<circle cx="762.4" cy="1021.1" r="5.3" fill="#fff" stroke="#000" stroke-width="1.2"/>
<circle cx="785.16" cy="1047.3" r="5.3" fill="#fff" stroke="#000" stroke-width="1.2"/>
<circle cx="807.92" cy="1077.8" r="5.3" fill="#fff" stroke="#000" stroke-width="1.2"/>
<circle cx="830.68" cy="1108.6" r="5.3" fill="#fff" stroke="#000" stroke-width="1.2"/>
<circle cx="853.44" cy="1132.2" r="5.3" fill="#fff" stroke="#000" stroke-width="1.2"/>
<circle cx="876.2" cy="1150.5" r="5.3" fill="#fff" stroke="#000" stroke-width="1.2"/>
<circle cx="898.96" cy="1156.7" r="5.3" fill="#fff" stroke="#000" stroke-width="1.2"/>
<circle cx="921.72" cy="1161.5" r="5.3" fill="#fff" stroke="#000" stroke-width="1.2"/>
<path d="M534.8 1174.3 L537.08 1174.3 L539.35 1174.29 L541.63 1174.29 L543.9 1174.29 L546.18 1174.29 L548.46 1174.29 L550.73 1174.29 L553.01 1174.29 L555.28 1174.29 L557.56 1174.3 L559.84 1174.31 L562.11 1174.31 L564.39 1174.32 L566.66 1174.33 L568.94 1174.33 L571.22 1174.34 L573.49 1174.33 L575.77 1174.33 L578.04 1174.32 L580.32 1174.3 L582.6 1174.27 L584.87 1174.22 L587.15 1174.14 L589.42 1174 L591.7 1173.79 L593.98 1173.5 L596.25 1173.11 L598.53 1172.61 L600.8 1171.98 L603.08 1171.2 L605.36 1170.27 L607.63 1169.18 L609.91 1167.95 L612.18 1166.58 L614.46 1165.07 L616.74 1163.43 L619.01 1161.67 L621.29 1159.79 L623.56 1157.8 L625.84 1155.7 L628.12 1153.5 L630.39 1151.21 L632.67 1148.82 L634.94 1146.33 L637.22 1143.75 L639.5 1141.06 L641.77 1138.29 L644.05 1135.42 L646.32 1132.46 L648.6 1129.4 L650.88 1126.25 L653.15 1123.03 L655.43 1119.76 L657.7 1116.44 L659.98 1113.1 L662.26 1109.76 L664.53 1106.43 L666.81 1103.13 L669.08 1099.88 L671.36 1096.7 L673.64 1093.59 L675.91 1090.54 L678.19 1087.53 L680.46 1084.53 L682.74 1081.51 L685.02 1078.44 L687.29 1075.32 L689.57 1072.1 L691.84 1068.77 L694.12 1065.3 L696.4 1061.68 L698.67 1057.95 L700.95 1054.16 L703.22 1050.37 L705.5 1046.64 L707.78 1043.01 L710.05 1039.55 L712.33 1036.31 L714.6 1033.34 L716.88 1030.7 L719.16 1028.42 L721.43 1026.48 L723.71 1024.83 L725.98 1023.41 L728.26 1022.18 L730.54 1021.1 L732.81 1020.1 L735.09 1019.16 L737.36 1018.2 L739.64 1017.2 L741.92 1016.11 L744.19 1014.99 L746.47 1013.89 L748.74 1012.88 L751.02 1012.02 L753.3 1011.36 L755.57 1010.98 L757.85 1010.94 L760.12 1011.29 L762.4 1012.1 L764.68 1013.41 L766.95 1015.17 L769.23 1017.32 L771.5 1019.79 L773.78 1022.5 L776.06 1025.39 L778.33 1028.4 L780.61 1031.44 L782.88 1034.47 L785.16 1037.4 L787.44 1040.19 L789.71 1042.85 L791.99 1045.44 L794.26 1047.97 L796.54 1050.5 L798.82 1053.06 L801.09 1055.7 L803.37 1058.44 L805.64 1061.33 L807.92 1064.4 L810.2 1067.69 L812.47 1071.16 L814.75 1074.8 L817.02 1078.56 L819.3 1082.4 L821.58 1086.31 L823.85 1090.23 L826.13 1094.15 L828.4 1098.01 L830.68 1101.8 L832.96 1105.48 L835.23 1109.05 L837.51 1112.5 L839.78 1115.83 L842.06 1119.05 L844.34 1122.16 L846.61 1125.15 L848.89 1128.01 L851.16 1130.77 L853.44 1133.4 L855.72 1135.91 L857.99 1138.3 L860.27 1140.56 L862.54 1142.69 L864.82 1144.67 L867.1 1146.51 L869.37 1148.19 L871.65 1149.73 L873.92 1151.1 L876.2 1152.3 L878.48 1153.34 L880.75 1154.22 L883.03 1154.97 L885.3 1155.61 L887.58 1156.16 L889.86 1156.63 L892.13 1157.05 L894.41 1157.44 L896.68 1157.82 L898.96 1158.2 L901.24 1158.6 L903.51 1159.03 L905.79 1159.48 L908.06 1159.95 L910.34 1160.43 L912.62 1160.93 L914.89 1161.44 L917.17 1161.96 L919.44 1162.48 L921.72 1163" fill="none" stroke="#000" stroke-width="1.35" stroke-dasharray="12 6"/>
<path d="M528.35 1168.35H541.25L534.8 1180.25Z" fill="#000"/>
<path d="M551.11 1168.35H564.01L557.56 1180.25Z" fill="#000"/>
<path d="M573.87 1168.35H586.77L580.32 1180.25Z" fill="#000"/>
<path d="M596.63 1165.25H609.53L603.08 1177.15Z" fill="#000"/>
<path d="M619.39 1149.75H632.29L625.84 1161.65Z" fill="#000"/>
<path d="M642.15 1123.45H655.05L648.6 1135.35Z" fill="#000"/>
<path d="M664.91 1090.75H677.81L671.36 1102.65Z" fill="#000"/>
<path d="M687.67 1059.35H700.57L694.12 1071.25Z" fill="#000"/>
<path d="M710.43 1024.75H723.33L716.88 1036.65Z" fill="#000"/>
<path d="M733.19 1011.25H746.09L739.64 1023.15Z" fill="#000"/>
<path d="M755.95 1006.15H768.85L762.4 1018.05Z" fill="#000"/>
<path d="M778.71 1031.45H791.61L785.16 1043.35Z" fill="#000"/>
<path d="M801.47 1058.45H814.37L807.92 1070.35Z" fill="#000"/>
<path d="M824.23 1095.85H837.13L830.68 1107.75Z" fill="#000"/>
<path d="M846.99 1127.45H859.89L853.44 1139.35Z" fill="#000"/>
<path d="M869.75 1146.35H882.65L876.2 1158.25Z" fill="#000"/>
<path d="M892.51 1152.25H905.41L898.96 1164.15Z" fill="#000"/>
<path d="M915.27 1157.05H928.17L921.72 1168.95Z" fill="#000"/>
<path d="M534.8 1174 L537.08 1173.98 L539.35 1173.97 L541.63 1173.95 L543.9 1173.94 L546.18 1173.94 L548.46 1173.94 L550.73 1173.94 L553.01 1173.95 L555.28 1173.97 L557.56 1174 L559.84 1174.04 L562.11 1174.08 L564.39 1174.12 L566.66 1174.16 L568.94 1174.19 L571.22 1174.2 L573.49 1174.19 L575.77 1174.16 L578.04 1174.1 L580.32 1174 L582.6 1173.86 L584.87 1173.69 L587.15 1173.48 L589.42 1173.25 L591.7 1172.98 L593.98 1172.68 L596.25 1172.37 L598.53 1172.03 L600.8 1171.67 L603.08 1171.3 L605.36 1170.91 L607.63 1170.5 L609.91 1170.05 L612.18 1169.55 L614.46 1168.98 L616.74 1168.33 L619.01 1167.59 L621.29 1166.75 L623.56 1165.79 L625.84 1164.7 L628.12 1163.47 L630.39 1162.1 L632.67 1160.61 L634.94 1159 L637.22 1157.28 L639.5 1155.47 L641.77 1153.56 L644.05 1151.58 L646.32 1149.52 L648.6 1147.4 L650.88 1145.23 L653.15 1143 L655.43 1140.71 L657.7 1138.35 L659.98 1135.93 L662.26 1133.44 L664.53 1130.87 L666.81 1128.23 L669.08 1125.51 L671.36 1122.7 L673.64 1119.81 L675.91 1116.83 L678.19 1113.79 L680.46 1110.69 L682.74 1107.53 L685.02 1104.34 L687.29 1101.11 L689.57 1097.85 L691.84 1094.58 L694.12 1091.3 L696.4 1088.03 L698.67 1084.78 L700.95 1081.57 L703.22 1078.43 L705.5 1075.37 L707.78 1072.42 L710.05 1069.6 L712.33 1066.92 L714.6 1064.42 L716.88 1062.1 L719.16 1059.99 L721.43 1058.06 L723.71 1056.29 L725.98 1054.67 L728.26 1053.15 L730.54 1051.72 L732.81 1050.36 L735.09 1049.03 L737.36 1047.72 L739.64 1046.4 L741.92 1045.05 L744.19 1043.69 L746.47 1042.33 L748.74 1040.99 L751.02 1039.7 L753.3 1038.46 L755.57 1037.3 L757.85 1036.25 L760.12 1035.31 L762.4 1034.5 L764.68 1033.85 L766.95 1033.37 L769.23 1033.08 L771.5 1033.01 L773.78 1033.15 L776.06 1033.54 L778.33 1034.2 L780.61 1035.13 L782.88 1036.36 L785.16 1037.9 L787.44 1039.77 L789.71 1041.94 L791.99 1044.4 L794.26 1047.1 L796.54 1050.03 L798.82 1053.16 L801.09 1056.45 L803.37 1059.89 L805.64 1063.45 L807.92 1067.1 L810.2 1070.81 L812.47 1074.57 L814.75 1078.35 L817.02 1082.15 L819.3 1085.93 L821.58 1089.69 L823.85 1093.4 L826.13 1097.05 L828.4 1100.63 L830.68 1104.1 L832.96 1107.46 L835.23 1110.71 L837.51 1113.85 L839.78 1116.89 L842.06 1119.81 L844.34 1122.64 L846.61 1125.37 L848.89 1128.01 L851.16 1130.55 L853.44 1133 L855.72 1135.36 L857.99 1137.63 L860.27 1139.81 L862.54 1141.88 L864.82 1143.84 L867.1 1145.68 L869.37 1147.41 L871.65 1149 L873.92 1150.47 L876.2 1151.8 L878.48 1152.99 L880.75 1154.05 L883.03 1154.99 L885.3 1155.83 L887.58 1156.58 L889.86 1157.25 L892.13 1157.85 L894.41 1158.4 L896.68 1158.91 L898.96 1159.4 L901.24 1159.87 L903.51 1160.33 L905.79 1160.77 L908.06 1161.21 L910.34 1161.64 L912.62 1162.06 L914.89 1162.47 L917.17 1162.88 L919.44 1163.29 L921.72 1163.7" fill="none" stroke="#000" stroke-width="1.35" stroke-dasharray="15 4.5 1.5 4 1.5 4.5"/>
<path d="M529.35 1179H540.25L534.8 1169Z" fill="#fff" stroke="#000" stroke-width="1.2" stroke-linejoin="miter"/>
<path d="M552.11 1179H563.01L557.56 1169Z" fill="#fff" stroke="#000" stroke-width="1.2" stroke-linejoin="miter"/>
<path d="M574.87 1179H585.77L580.32 1169Z" fill="#fff" stroke="#000" stroke-width="1.2" stroke-linejoin="miter"/>
<path d="M597.63 1176.3H608.53L603.08 1166.3Z" fill="#fff" stroke="#000" stroke-width="1.2" stroke-linejoin="miter"/>
<path d="M620.39 1169.7H631.29L625.84 1159.7Z" fill="#fff" stroke="#000" stroke-width="1.2" stroke-linejoin="miter"/>
<path d="M643.15 1152.4H654.05L648.6 1142.4Z" fill="#fff" stroke="#000" stroke-width="1.2" stroke-linejoin="miter"/>
<path d="M665.91 1127.7H676.81L671.36 1117.7Z" fill="#fff" stroke="#000" stroke-width="1.2" stroke-linejoin="miter"/>
<path d="M688.67 1096.3H699.57L694.12 1086.3Z" fill="#fff" stroke="#000" stroke-width="1.2" stroke-linejoin="miter"/>
<path d="M711.43 1067.1H722.33L716.88 1057.1Z" fill="#fff" stroke="#000" stroke-width="1.2" stroke-linejoin="miter"/>
<path d="M734.19 1051.4H745.09L739.64 1041.4Z" fill="#fff" stroke="#000" stroke-width="1.2" stroke-linejoin="miter"/>
<path d="M756.95 1039.5H767.85L762.4 1029.5Z" fill="#fff" stroke="#000" stroke-width="1.2" stroke-linejoin="miter"/>
<path d="M779.71 1042.9H790.61L785.16 1032.9Z" fill="#fff" stroke="#000" stroke-width="1.2" stroke-linejoin="miter"/>
<path d="M802.47 1072.1H813.37L807.92 1062.1Z" fill="#fff" stroke="#000" stroke-width="1.2" stroke-linejoin="miter"/>
<path d="M825.23 1109.1H836.13L830.68 1099.1Z" fill="#fff" stroke="#000" stroke-width="1.2" stroke-linejoin="miter"/>
<path d="M847.99 1138H858.89L853.44 1128Z" fill="#fff" stroke="#000" stroke-width="1.2" stroke-linejoin="miter"/>
<path d="M870.75 1156.8H881.65L876.2 1146.8Z" fill="#fff" stroke="#000" stroke-width="1.2" stroke-linejoin="miter"/>
<path d="M893.51 1164.4H904.41L898.96 1154.4Z" fill="#fff" stroke="#000" stroke-width="1.2" stroke-linejoin="miter"/>
<path d="M916.27 1168.7H927.17L921.72 1158.7Z" fill="#fff" stroke="#000" stroke-width="1.2" stroke-linejoin="miter"/>
<path d="M150.7 1373.9 L157.52 1373.62 L164.35 1373.28 L171.17 1372.8 L178 1372.13 L184.82 1371.19 L191.65 1369.93 L198.47 1368.28 L205.3 1366.16 L212.12 1363.53 L218.95 1360.3 L225.77 1356.45 L232.6 1352.03 L239.42 1347.16 L246.25 1341.93 L253.07 1336.44 L259.9 1330.79 L266.72 1325.07 L273.55 1319.38 L280.38 1313.83 L287.2 1308.5 L294.02 1303.49 L300.85 1298.84 L307.68 1294.58 L314.5 1290.74 L321.32 1287.35 L328.15 1284.44 L334.97 1282.04 L341.8 1280.18 L348.62 1278.89 L355.45 1278.2 L362.27 1278.13 L369.1 1278.62 L375.93 1279.62 L382.75 1281.04 L389.57 1282.83 L396.4 1284.91 L403.22 1287.23 L410.05 1289.71 L416.88 1292.29 L423.7 1294.9 L430.52 1297.48 L437.35 1300.04 L444.18 1302.56 L451 1305.05 L457.82 1307.53 L464.65 1309.98 L471.47 1312.43 L478.3 1314.86 L485.12 1317.28 L491.95 1319.7" fill="none" stroke="#000" stroke-width="1.35"/>
<circle cx="150.7" cy="1373.9" r="5.75" fill="#000"/>
<circle cx="218.95" cy="1360.3" r="5.75" fill="#000"/>
<circle cx="287.2" cy="1308.5" r="5.75" fill="#000"/>
<circle cx="355.45" cy="1278.2" r="5.75" fill="#000"/>
<circle cx="423.7" cy="1294.9" r="5.75" fill="#000"/>
<circle cx="491.95" cy="1319.7" r="5.75" fill="#000"/>
<path d="M150.7 1355.1 L157.52 1356.5 L164.35 1357.85 L171.17 1359.1 L178 1360.18 L184.82 1361.05 L191.65 1361.65 L198.47 1361.93 L205.3 1361.83 L212.12 1361.31 L218.95 1360.3 L225.77 1358.77 L232.6 1356.74 L239.42 1354.25 L246.25 1351.34 L253.07 1348.03 L259.9 1344.37 L266.72 1340.39 L273.55 1336.12 L280.38 1331.62 L287.2 1326.9 L294.02 1322.02 L300.85 1317.07 L307.68 1312.13 L314.5 1307.32 L321.32 1302.71 L328.15 1298.42 L334.97 1294.54 L341.8 1291.16 L348.62 1288.38 L355.45 1286.3 L362.27 1284.98 L369.1 1284.38 L375.93 1284.39 L382.75 1284.95 L389.57 1285.97 L396.4 1287.35 L403.22 1289.02 L410.05 1290.89 L416.88 1292.88 L423.7 1294.9 L430.52 1296.88 L437.35 1298.81 L444.18 1300.71 L451 1302.56 L457.82 1304.38 L464.65 1306.18 L471.47 1307.95 L478.3 1309.71 L485.12 1311.46 L491.95 1313.2" fill="none" stroke="#000" stroke-width="1.1" stroke-dasharray="1.1 4.4"/>
<circle cx="150.7" cy="1355.1" r="5.3" fill="#fff" stroke="#000" stroke-width="1.2"/>
<circle cx="218.95" cy="1360.3" r="5.3" fill="#fff" stroke="#000" stroke-width="1.2"/>
<circle cx="287.2" cy="1326.9" r="5.3" fill="#fff" stroke="#000" stroke-width="1.2"/>
<circle cx="355.45" cy="1286.3" r="5.3" fill="#fff" stroke="#000" stroke-width="1.2"/>
<circle cx="423.7" cy="1294.9" r="5.3" fill="#fff" stroke="#000" stroke-width="1.2"/>
<circle cx="491.95" cy="1313.2" r="5.3" fill="#fff" stroke="#000" stroke-width="1.2"/>
<path d="M150.7 1376.1 L157.52 1377.06 L164.35 1377.98 L171.17 1378.84 L178 1379.61 L184.82 1380.24 L191.65 1380.71 L198.47 1380.98 L205.3 1381.02 L212.12 1380.81 L218.95 1380.3 L225.77 1379.47 L232.6 1378.35 L239.42 1376.95 L246.25 1375.29 L253.07 1373.41 L259.9 1371.33 L266.72 1369.08 L273.55 1366.67 L280.38 1364.13 L287.2 1361.5 L294.02 1358.79 L300.85 1356.06 L307.68 1353.34 L314.5 1350.69 L321.32 1348.16 L328.15 1345.79 L334.97 1343.63 L341.8 1341.73 L348.62 1340.14 L355.45 1338.9 L362.27 1338.05 L369.1 1337.56 L375.93 1337.4 L382.75 1337.52 L389.57 1337.87 L396.4 1338.44 L403.22 1339.16 L410.05 1340 L416.88 1340.93 L423.7 1341.9 L430.52 1342.88 L437.35 1343.85 L444.18 1344.83 L451 1345.81 L457.82 1346.79 L464.65 1347.77 L471.47 1348.75 L478.3 1349.74 L485.12 1350.72 L491.95 1351.7" fill="none" stroke="#000" stroke-width="1.35" stroke-dasharray="12 6"/>
<path d="M144.25 1370.15H157.15L150.7 1382.05Z" fill="#000"/>
<path d="M212.5 1374.35H225.4L218.95 1386.25Z" fill="#000"/>
<path d="M280.75 1355.55H293.65L287.2 1367.45Z" fill="#000"/>
<path d="M349 1332.95H361.9L355.45 1344.85Z" fill="#000"/>
<path d="M417.25 1335.95H430.15L423.7 1347.85Z" fill="#000"/>
<path d="M485.5 1345.75H498.4L491.95 1357.65Z" fill="#000"/>
<path d="M150.7 1328.2 L157.52 1329.54 L164.35 1330.81 L171.17 1331.97 L178 1332.94 L184.82 1333.68 L191.65 1334.11 L198.47 1334.18 L205.3 1333.82 L212.12 1332.98 L218.95 1331.6 L225.77 1329.63 L232.6 1327.12 L239.42 1324.13 L246.25 1320.73 L253.07 1316.96 L259.9 1312.89 L266.72 1308.59 L273.55 1304.12 L280.38 1299.54 L287.2 1294.9 L294.02 1290.27 L300.85 1285.72 L307.68 1281.28 L314.5 1277.03 L321.32 1273.02 L328.15 1269.3 L334.97 1265.93 L341.8 1262.97 L348.62 1260.47 L355.45 1258.5 L362.27 1257.09 L369.1 1256.2 L375.93 1255.79 L382.75 1255.8 L389.57 1256.19 L396.4 1256.91 L403.22 1257.9 L410.05 1259.11 L416.88 1260.49 L423.7 1262 L430.52 1263.59 L437.35 1265.24 L444.18 1266.94 L451 1268.7 L457.82 1270.5 L464.65 1272.34 L471.47 1274.2 L478.3 1276.09 L485.12 1277.99 L491.95 1279.9" fill="none" stroke="#000" stroke-width="1.35" stroke-dasharray="15 4.5 1.5 4 1.5 4.5"/>
<path d="M145.25 1333.2H156.15L150.7 1323.2Z" fill="#fff" stroke="#000" stroke-width="1.2" stroke-linejoin="miter"/>
<path d="M213.5 1336.6H224.4L218.95 1326.6Z" fill="#fff" stroke="#000" stroke-width="1.2" stroke-linejoin="miter"/>
<path d="M281.75 1299.9H292.65L287.2 1289.9Z" fill="#fff" stroke="#000" stroke-width="1.2" stroke-linejoin="miter"/>
<path d="M350 1263.5H360.9L355.45 1253.5Z" fill="#fff" stroke="#000" stroke-width="1.2" stroke-linejoin="miter"/>
<path d="M418.25 1267H429.15L423.7 1257Z" fill="#fff" stroke="#000" stroke-width="1.2" stroke-linejoin="miter"/>
<path d="M486.5 1284.9H497.4L491.95 1274.9Z" fill="#fff" stroke="#000" stroke-width="1.2" stroke-linejoin="miter"/>
<path d="M580.3 1332.5 L587.13 1332.62 L593.95 1332.68 L600.78 1332.62 L607.6 1332.39 L614.43 1331.91 L621.26 1331.14 L628.08 1330.01 L634.91 1328.47 L641.73 1326.45 L648.56 1323.9 L655.39 1320.77 L662.21 1317.12 L669.04 1313.01 L675.86 1308.5 L682.69 1303.66 L689.52 1298.57 L696.34 1293.27 L703.17 1287.86 L709.99 1282.38 L716.82 1276.9 L723.65 1271.5 L730.47 1266.23 L737.3 1261.18 L744.12 1256.39 L750.95 1251.95 L757.78 1247.91 L764.6 1244.35 L771.43 1241.34 L778.25 1238.93 L785.08 1237.2 L791.91 1236.19 L798.73 1235.88 L805.56 1236.19 L812.38 1237.08 L819.21 1238.48 L826.04 1240.35 L832.86 1242.62 L839.69 1245.24 L846.51 1248.15 L853.34 1251.3 L860.17 1254.63 L866.99 1258.12 L873.82 1261.76 L880.64 1265.52 L887.47 1269.39 L894.3 1273.34 L901.12 1277.37 L907.95 1281.45 L914.77 1285.57 L921.6 1289.7" fill="none" stroke="#000" stroke-width="1.35"/>
<circle cx="580.3" cy="1332.5" r="5.75" fill="#000"/>
<circle cx="648.56" cy="1323.9" r="5.75" fill="#000"/>
<circle cx="716.82" cy="1276.9" r="5.75" fill="#000"/>
<circle cx="785.08" cy="1237.2" r="5.75" fill="#000"/>
<circle cx="853.34" cy="1251.3" r="5.75" fill="#000"/>
<circle cx="921.6" cy="1289.7" r="5.75" fill="#000"/>
<path d="M580.3 1314.5 L587.13 1316.16 L593.95 1317.79 L600.78 1319.38 L607.6 1320.88 L614.43 1322.29 L621.26 1323.57 L628.08 1324.69 L634.91 1325.64 L641.73 1326.38 L648.56 1326.9 L655.39 1327.16 L662.21 1327.12 L669.04 1326.75 L675.86 1325.99 L682.69 1324.81 L689.52 1323.17 L696.34 1321.02 L703.17 1318.32 L709.99 1315.03 L716.82 1311.1 L723.65 1306.53 L730.47 1301.41 L737.3 1295.89 L744.12 1290.08 L750.95 1284.13 L757.78 1278.16 L764.6 1272.31 L771.43 1266.72 L778.25 1261.5 L785.08 1256.8 L791.91 1252.72 L798.73 1249.25 L805.56 1246.37 L812.38 1244.03 L819.21 1242.21 L826.04 1240.87 L832.86 1239.98 L839.69 1239.51 L846.51 1239.43 L853.34 1239.7 L860.17 1240.29 L866.99 1241.17 L873.82 1242.3 L880.64 1243.65 L887.47 1245.2 L894.3 1246.91 L901.12 1248.75 L907.95 1250.68 L914.77 1252.67 L921.6 1254.7" fill="none" stroke="#000" stroke-width="1.1" stroke-dasharray="1.1 4.4"/>
<circle cx="580.3" cy="1314.5" r="5.3" fill="#fff" stroke="#000" stroke-width="1.2"/>
<circle cx="648.56" cy="1326.9" r="5.3" fill="#fff" stroke="#000" stroke-width="1.2"/>
<circle cx="716.82" cy="1311.1" r="5.3" fill="#fff" stroke="#000" stroke-width="1.2"/>
<circle cx="785.08" cy="1256.8" r="5.3" fill="#fff" stroke="#000" stroke-width="1.2"/>
<circle cx="853.34" cy="1239.7" r="5.3" fill="#fff" stroke="#000" stroke-width="1.2"/>
<circle cx="921.6" cy="1254.7" r="5.3" fill="#fff" stroke="#000" stroke-width="1.2"/>
<path d="M580.3 1337.6 L587.13 1338.46 L593.95 1339.29 L600.78 1340.09 L607.6 1340.84 L614.43 1341.52 L621.26 1342.11 L628.08 1342.58 L634.91 1342.94 L641.73 1343.15 L648.56 1343.2 L655.39 1343.07 L662.21 1342.76 L669.04 1342.27 L675.86 1341.58 L682.69 1340.71 L689.52 1339.63 L696.34 1338.36 L703.17 1336.88 L709.99 1335.2 L716.82 1333.3 L723.65 1331.2 L730.47 1328.92 L737.3 1326.5 L744.12 1323.99 L750.95 1321.42 L757.78 1318.82 L764.6 1316.24 L771.43 1313.72 L778.25 1311.29 L785.08 1309 L791.91 1306.87 L798.73 1304.93 L805.56 1303.17 L812.38 1301.61 L819.21 1300.26 L826.04 1299.14 L832.86 1298.24 L839.69 1297.57 L846.51 1297.16 L853.34 1297 L860.17 1297.1 L866.99 1297.44 L873.82 1298 L880.64 1298.74 L887.47 1299.64 L894.3 1300.67 L901.12 1301.81 L907.95 1303.03 L914.77 1304.3 L921.6 1305.6" fill="none" stroke="#000" stroke-width="1.35" stroke-dasharray="12 6"/>
<path d="M573.85 1331.65H586.75L580.3 1343.55Z" fill="#000"/>
<path d="M642.11 1337.25H655.01L648.56 1349.15Z" fill="#000"/>
<path d="M710.37 1327.35H723.27L716.82 1339.25Z" fill="#000"/>
<path d="M778.63 1303.05H791.53L785.08 1314.95Z" fill="#000"/>
<path d="M846.89 1291.05H859.79L853.34 1302.95Z" fill="#000"/>
<path d="M915.15 1299.65H928.05L921.6 1311.55Z" fill="#000"/>
<path d="M580.3 1367.9 L587.13 1368.27 L593.95 1368.62 L600.78 1368.94 L607.6 1369.21 L614.43 1369.41 L621.26 1369.52 L628.08 1369.54 L634.91 1369.43 L641.73 1369.19 L648.56 1368.8 L655.39 1368.24 L662.21 1367.52 L669.04 1366.65 L675.86 1365.62 L682.69 1364.46 L689.52 1363.16 L696.34 1361.74 L703.17 1360.2 L709.99 1358.55 L716.82 1356.8 L723.65 1354.96 L730.47 1353.05 L737.3 1351.13 L744.12 1349.22 L750.95 1347.36 L757.78 1345.6 L764.6 1343.96 L771.43 1342.49 L778.25 1341.23 L785.08 1340.2 L791.91 1339.44 L798.73 1338.94 L805.56 1338.66 L812.38 1338.58 L819.21 1338.69 L826.04 1338.94 L832.86 1339.33 L839.69 1339.82 L846.51 1340.38 L853.34 1341 L860.17 1341.65 L866.99 1342.33 L873.82 1343.02 L880.64 1343.74 L887.47 1344.48 L894.3 1345.22 L901.12 1345.98 L907.95 1346.75 L914.77 1347.52 L921.6 1348.3" fill="none" stroke="#000" stroke-width="1.35" stroke-dasharray="15 4.5 1.5 4 1.5 4.5"/>
<path d="M574.85 1372.9H585.75L580.3 1362.9Z" fill="#fff" stroke="#000" stroke-width="1.2" stroke-linejoin="miter"/>
<path d="M643.11 1373.8H654.01L648.56 1363.8Z" fill="#fff" stroke="#000" stroke-width="1.2" stroke-linejoin="miter"/>
<path d="M711.37 1361.8H722.27L716.82 1351.8Z" fill="#fff" stroke="#000" stroke-width="1.2" stroke-linejoin="miter"/>
<path d="M779.63 1345.2H790.53L785.08 1335.2Z" fill="#fff" stroke="#000" stroke-width="1.2" stroke-linejoin="miter"/>
<path d="M847.89 1346H858.79L853.34 1336Z" fill="#fff" stroke="#000" stroke-width="1.2" stroke-linejoin="miter"/>
<path d="M916.15 1353.3H927.05L921.6 1343.3Z" fill="#fff" stroke="#000" stroke-width="1.2" stroke-linejoin="miter"/>
<path d="M139.32 299.2 L143.12 296.72 L146.91 293.96 L150.7 291.24 L154.49 287.9 L158.28 283.01 L162.07 275.26 L165.87 261.13 L169.66 245.19 L173.45 233.36 L177.24 221.88 L181.03 210.6 L184.82 198.56 L188.62 185.32 L192.41 175.63 L196.2 167.43 L199.99 152.62 L203.78 145.12 L207.57 135.55 L211.37 124.24 L215.16 115.83 L218.95 105.56 L222.74 96.77 L226.53 89.9 L230.32 83.11 L234.12 76.26 L237.91 69.77 L241.7 64.01 L245.49 59.56 L249.28 55.15 L253.07 50.96 L256.87 48.54 L260.66 46.32 L264.45 44.25 L268.24 42.85 L272.03 42.02 L275.82 41.2 L279.62 41.49 L283.41 41.77 L287.2 43.27 L290.99 44.91 L294.78 47.46 L298.57 51.79 L302.37 53.86 L306.16 56.54 L309.95 61.57 L313.74 66.42 L317.53 79 L321.32 79.09 L325.12 93.19 L328.91 96.44 L332.7 104.47 L336.49 116.81 L340.28 121.91 L344.07 130.26 L347.87 139.53 L351.66 152.96 L355.45 160.2 L359.24 175.55 L363.03 189.22 L366.82 197.55 L370.62 205.97 L374.41 213.78 L378.2 228.44 L381.99 238.57 L385.78 252.35 L389.57 265.36 L393.37 275.02 L397.16 282.57 L400.95 288.56 L404.74 292.94 L408.53 296.39 L412.32 299.24 L416.12 301.3" fill="none" stroke="#000" stroke-width="1.35"/>
<circle cx="139.32" cy="299.2" r="5.75" fill="#000"/>
<circle cx="143.12" cy="296.72" r="5.75" fill="#000"/>
<circle cx="146.91" cy="293.96" r="5.75" fill="#000"/>
<circle cx="150.7" cy="291.24" r="5.75" fill="#000"/>
<circle cx="154.49" cy="287.9" r="5.75" fill="#000"/>
<circle cx="158.28" cy="283.01" r="5.75" fill="#000"/>
<circle cx="162.07" cy="275.26" r="5.75" fill="#000"/>
<circle cx="165.87" cy="261.13" r="5.75" fill="#000"/>
<circle cx="169.66" cy="245.19" r="5.75" fill="#000"/>
<circle cx="173.45" cy="233.36" r="5.75" fill="#000"/>
<circle cx="177.24" cy="221.88" r="5.75" fill="#000"/>
<circle cx="181.03" cy="210.6" r="5.75" fill="#000"/>
<circle cx="184.82" cy="198.56" r="5.75" fill="#000"/>
<circle cx="188.62" cy="185.32" r="5.75" fill="#000"/>
<circle cx="192.41" cy="175.63" r="5.75" fill="#000"/>
<circle cx="196.2" cy="167.43" r="5.75" fill="#000"/>
<circle cx="199.99" cy="152.62" r="5.75" fill="#000"/>
<circle cx="203.78" cy="145.12" r="5.75" fill="#000"/>
<circle cx="207.57" cy="135.55" r="5.75" fill="#000"/>
<circle cx="211.37" cy="124.24" r="5.75" fill="#000"/>
<circle cx="215.16" cy="115.83" r="5.75" fill="#000"/>
<circle cx="218.95" cy="105.56" r="5.75" fill="#000"/>
<circle cx="222.74" cy="96.77" r="5.75" fill="#000"/>
<circle cx="226.53" cy="89.9" r="5.75" fill="#000"/>
<circle cx="230.32" cy="83.11" r="5.75" fill="#000"/>
<circle cx="234.12" cy="76.26" r="5.75" fill="#000"/>
<circle cx="237.91" cy="69.77" r="5.75" fill="#000"/>
<circle cx="241.7" cy="64.01" r="5.75" fill="#000"/>
<circle cx="245.49" cy="59.56" r="5.75" fill="#000"/>
<circle cx="249.28" cy="55.15" r="5.75" fill="#000"/>
<circle cx="253.07" cy="50.96" r="5.75" fill="#000"/>
<circle cx="256.87" cy="48.54" r="5.75" fill="#000"/>
<circle cx="260.66" cy="46.32" r="5.75" fill="#000"/>
<circle cx="264.45" cy="44.25" r="5.75" fill="#000"/>
<circle cx="268.24" cy="42.85" r="5.75" fill="#000"/>
<circle cx="272.03" cy="42.02" r="5.75" fill="#000"/>
<circle cx="275.82" cy="41.2" r="5.75" fill="#000"/>
<circle cx="279.62" cy="41.49" r="5.75" fill="#000"/>
<circle cx="283.41" cy="41.77" r="5.75" fill="#000"/>
<circle cx="287.2" cy="43.27" r="5.75" fill="#000"/>
<circle cx="290.99" cy="44.91" r="5.75" fill="#000"/>
<circle cx="294.78" cy="47.46" r="5.75" fill="#000"/>
<circle cx="298.57" cy="51.79" r="5.75" fill="#000"/>
<circle cx="302.37" cy="53.86" r="5.75" fill="#000"/>
<circle cx="306.16" cy="56.54" r="5.75" fill="#000"/>
<circle cx="309.95" cy="61.57" r="5.75" fill="#000"/>
<circle cx="313.74" cy="66.42" r="5.75" fill="#000"/>
<circle cx="317.53" cy="79" r="5.75" fill="#000"/>
<circle cx="321.32" cy="79.09" r="5.75" fill="#000"/>
<circle cx="325.12" cy="93.19" r="5.75" fill="#000"/>
<circle cx="328.91" cy="96.44" r="5.75" fill="#000"/>
<circle cx="332.7" cy="104.47" r="5.75" fill="#000"/>
<circle cx="336.49" cy="116.81" r="5.75" fill="#000"/>
<circle cx="340.28" cy="121.91" r="5.75" fill="#000"/>
<circle cx="344.07" cy="130.26" r="5.75" fill="#000"/>
<circle cx="347.87" cy="139.53" r="5.75" fill="#000"/>
<circle cx="351.66" cy="152.96" r="5.75" fill="#000"/>
<circle cx="355.45" cy="160.2" r="5.75" fill="#000"/>
<circle cx="359.24" cy="175.55" r="5.75" fill="#000"/>
<circle cx="363.03" cy="189.22" r="5.75" fill="#000"/>
<circle cx="366.82" cy="197.55" r="5.75" fill="#000"/>
<circle cx="370.62" cy="205.97" r="5.75" fill="#000"/>
<circle cx="374.41" cy="213.78" r="5.75" fill="#000"/>
<circle cx="378.2" cy="228.44" r="5.75" fill="#000"/>
<circle cx="381.99" cy="238.57" r="5.75" fill="#000"/>
<circle cx="385.78" cy="252.35" r="5.75" fill="#000"/>
<circle cx="389.57" cy="265.36" r="5.75" fill="#000"/>
<circle cx="393.37" cy="275.02" r="5.75" fill="#000"/>
<circle cx="397.16" cy="282.57" r="5.75" fill="#000"/>
<circle cx="400.95" cy="288.56" r="5.75" fill="#000"/>
<circle cx="404.74" cy="292.94" r="5.75" fill="#000"/>
<circle cx="408.53" cy="296.39" r="5.75" fill="#000"/>
<circle cx="412.32" cy="299.24" r="5.75" fill="#000"/>
<circle cx="416.12" cy="301.3" r="5.75" fill="#000"/>
<path d="M143.12 300.4 L146.91 299.31 L150.7 297.46 L154.49 295.29 L158.28 292.26 L162.07 289.01 L165.87 285.5 L169.66 281.58 L173.45 276.92 L177.24 270.63 L181.03 263.68 L184.82 260.43 L188.62 247.64 L192.41 244.35 L196.2 235.81 L199.99 224.7 L203.78 214.32 L207.57 206.39 L211.37 202.69 L215.16 191.27 L218.95 188.66 L222.74 181.8 L225.9 178.9 L229.3 168.6 L232.7 157.5 L236.4 157.3 L239.6 158.4 L245 138.6 L249.2 127.4 L253 102.8 L255.6 111.4 L258.8 111.4 L262 111.4 L265.3 111.4 L268.5 111.4 L271.7 126.3 L274.9 118.8 L279.5 124 L284.5 129.5 L289.5 127 L294.6 128.5 L301.6 134.9 L303.7 144.5 L310.1 138.6 L315 150 L319.9 160 L319.8 194.6 L324.6 206.2 L329 212.5 L333 219 L336.8 225 L341.9 235 L347.7 242.7 L353.5 238.8 L358.3 246.5 L364 252.3 L368.8 260 L372.7 269.6 L376.5 277.3 L380 282 L384 287 L390 292.7 L394 296 L397.7 298.5 L401.5 300.5 L405.5 302 L409.5 303" fill="none" stroke="#000" stroke-width="1.1" stroke-dasharray="1.1 4.4"/>
<circle cx="143.12" cy="300.4" r="5.3" fill="#fff" stroke="#000" stroke-width="1.2"/>
<circle cx="146.91" cy="299.31" r="5.3" fill="#fff" stroke="#000" stroke-width="1.2"/>
<circle cx="150.7" cy="297.46" r="5.3" fill="#fff" stroke="#000" stroke-width="1.2"/>
<circle cx="154.49" cy="295.29" r="5.3" fill="#fff" stroke="#000" stroke-width="1.2"/>
<circle cx="158.28" cy="292.26" r="5.3" fill="#fff" stroke="#000" stroke-width="1.2"/>
<circle cx="162.07" cy="289.01" r="5.3" fill="#fff" stroke="#000" stroke-width="1.2"/>
<circle cx="165.87" cy="285.5" r="5.3" fill="#fff" stroke="#000" stroke-width="1.2"/>
<circle cx="169.66" cy="281.58" r="5.3" fill="#fff" stroke="#000" stroke-width="1.2"/>
<circle cx="173.45" cy="276.92" r="5.3" fill="#fff" stroke="#000" stroke-width="1.2"/>
<circle cx="177.24" cy="270.63" r="5.3" fill="#fff" stroke="#000" stroke-width="1.2"/>
<circle cx="181.03" cy="263.68" r="5.3" fill="#fff" stroke="#000" stroke-width="1.2"/>
<circle cx="184.82" cy="260.43" r="5.3" fill="#fff" stroke="#000" stroke-width="1.2"/>
<circle cx="188.62" cy="247.64" r="5.3" fill="#fff" stroke="#000" stroke-width="1.2"/>
<circle cx="192.41" cy="244.35" r="5.3" fill="#fff" stroke="#000" stroke-width="1.2"/>
<circle cx="196.2" cy="235.81" r="5.3" fill="#fff" stroke="#000" stroke-width="1.2"/>
<circle cx="199.99" cy="224.7" r="5.3" fill="#fff" stroke="#000" stroke-width="1.2"/>
<circle cx="203.78" cy="214.32" r="5.3" fill="#fff" stroke="#000" stroke-width="1.2"/>
<circle cx="207.57" cy="206.39" r="5.3" fill="#fff" stroke="#000" stroke-width="1.2"/>
<circle cx="211.37" cy="202.69" r="5.3" fill="#fff" stroke="#000" stroke-width="1.2"/>
<circle cx="215.16" cy="191.27" r="5.3" fill="#fff" stroke="#000" stroke-width="1.2"/>
<circle cx="218.95" cy="188.66" r="5.3" fill="#fff" stroke="#000" stroke-width="1.2"/>
<circle cx="222.74" cy="181.8" r="5.3" fill="#fff" stroke="#000" stroke-width="1.2"/>
<circle cx="225.9" cy="178.9" r="5.3" fill="#fff" stroke="#000" stroke-width="1.2"/>
<circle cx="229.3" cy="168.6" r="5.3" fill="#fff" stroke="#000" stroke-width="1.2"/>
<circle cx="232.7" cy="157.5" r="5.3" fill="#fff" stroke="#000" stroke-width="1.2"/>
<circle cx="236.4" cy="157.3" r="5.3" fill="#fff" stroke="#000" stroke-width="1.2"/>
<circle cx="239.6" cy="158.4" r="5.3" fill="#fff" stroke="#000" stroke-width="1.2"/>
<circle cx="245" cy="138.6" r="5.3" fill="#fff" stroke="#000" stroke-width="1.2"/>
<circle cx="249.2" cy="127.4" r="5.3" fill="#fff" stroke="#000" stroke-width="1.2"/>
<circle cx="253" cy="102.8" r="5.3" fill="#fff" stroke="#000" stroke-width="1.2"/>
<circle cx="255.6" cy="111.4" r="5.3" fill="#fff" stroke="#000" stroke-width="1.2"/>
<circle cx="258.8" cy="111.4" r="5.3" fill="#fff" stroke="#000" stroke-width="1.2"/>
<circle cx="262" cy="111.4" r="5.3" fill="#fff" stroke="#000" stroke-width="1.2"/>
<circle cx="265.3" cy="111.4" r="5.3" fill="#fff" stroke="#000" stroke-width="1.2"/>
<circle cx="268.5" cy="111.4" r="5.3" fill="#fff" stroke="#000" stroke-width="1.2"/>
<circle cx="271.7" cy="126.3" r="5.3" fill="#fff" stroke="#000" stroke-width="1.2"/>
<circle cx="274.9" cy="118.8" r="5.3" fill="#fff" stroke="#000" stroke-width="1.2"/>
<circle cx="279.5" cy="124" r="5.3" fill="#fff" stroke="#000" stroke-width="1.2"/>
<circle cx="284.5" cy="129.5" r="5.3" fill="#fff" stroke="#000" stroke-width="1.2"/>
<circle cx="289.5" cy="127" r="5.3" fill="#fff" stroke="#000" stroke-width="1.2"/>
<circle cx="294.6" cy="128.5" r="5.3" fill="#fff" stroke="#000" stroke-width="1.2"/>
<circle cx="301.6" cy="134.9" r="5.3" fill="#fff" stroke="#000" stroke-width="1.2"/>
<circle cx="303.7" cy="144.5" r="5.3" fill="#fff" stroke="#000" stroke-width="1.2"/>
<circle cx="310.1" cy="138.6" r="5.3" fill="#fff" stroke="#000" stroke-width="1.2"/>
<circle cx="315" cy="150" r="5.3" fill="#fff" stroke="#000" stroke-width="1.2"/>
<circle cx="319.9" cy="160" r="5.3" fill="#fff" stroke="#000" stroke-width="1.2"/>
<circle cx="319.8" cy="194.6" r="5.3" fill="#fff" stroke="#000" stroke-width="1.2"/>
<circle cx="324.6" cy="206.2" r="5.3" fill="#fff" stroke="#000" stroke-width="1.2"/>
<circle cx="329" cy="212.5" r="5.3" fill="#fff" stroke="#000" stroke-width="1.2"/>
<circle cx="333" cy="219" r="5.3" fill="#fff" stroke="#000" stroke-width="1.2"/>
<circle cx="336.8" cy="225" r="5.3" fill="#fff" stroke="#000" stroke-width="1.2"/>
<circle cx="341.9" cy="235" r="5.3" fill="#fff" stroke="#000" stroke-width="1.2"/>
<circle cx="347.7" cy="242.7" r="5.3" fill="#fff" stroke="#000" stroke-width="1.2"/>
<circle cx="353.5" cy="238.8" r="5.3" fill="#fff" stroke="#000" stroke-width="1.2"/>
<circle cx="358.3" cy="246.5" r="5.3" fill="#fff" stroke="#000" stroke-width="1.2"/>
<circle cx="364" cy="252.3" r="5.3" fill="#fff" stroke="#000" stroke-width="1.2"/>
<circle cx="368.8" cy="260" r="5.3" fill="#fff" stroke="#000" stroke-width="1.2"/>
<circle cx="372.7" cy="269.6" r="5.3" fill="#fff" stroke="#000" stroke-width="1.2"/>
<circle cx="376.5" cy="277.3" r="5.3" fill="#fff" stroke="#000" stroke-width="1.2"/>
<circle cx="380" cy="282" r="5.3" fill="#fff" stroke="#000" stroke-width="1.2"/>
<circle cx="384" cy="287" r="5.3" fill="#fff" stroke="#000" stroke-width="1.2"/>
<circle cx="390" cy="292.7" r="5.3" fill="#fff" stroke="#000" stroke-width="1.2"/>
<circle cx="394" cy="296" r="5.3" fill="#fff" stroke="#000" stroke-width="1.2"/>
<circle cx="397.7" cy="298.5" r="5.3" fill="#fff" stroke="#000" stroke-width="1.2"/>
<circle cx="401.5" cy="300.5" r="5.3" fill="#fff" stroke="#000" stroke-width="1.2"/>
<circle cx="405.5" cy="302" r="5.3" fill="#fff" stroke="#000" stroke-width="1.2"/>
<circle cx="409.5" cy="303" r="5.3" fill="#fff" stroke="#000" stroke-width="1.2"/>
<path d="M143.12 302.7 L146.91 302.16 L150.7 301.23 L154.49 300.15 L158.28 298.59 L162.07 296.95 L165.87 294.58 L169.66 292.21 L173.45 289.04 L177.24 285.79 L182.4 281.3 L187.2 272.4 L193.6 254.5 L200.6 241.7 L205 232 L209 224.4 L214.7 216.7 L219.2 224.4 L226.9 210.3 L229.9 192.2 L234 188 L238.8 210.1 L242.8 166.9 L248 172 L253 178.7 L257.2 135.4 L264.7 149.8 L268.5 172.3 L275 150 L281.3 134.9 L288.2 117.8 L291.4 145.6 L295.2 180.8 L299.4 168.6 L302.6 169.1 L306.9 180.8 L312.3 170.1 L317 178 L321.7 188.8 L326 193 L330.4 198.5 L333.5 206 L336.2 213.8 L340 225.4 L341.9 211.9 L345 220 L347.7 211.9 L350.5 221 L353.5 229.2 L357.5 232 L361.2 235 L364 244 L366.9 252.3 L369.8 257 L372.7 261.9 L375.6 266.5 L378.5 271.5 L381.4 275.5 L384.2 279.2 L387.1 284 L390 288.8 L393.9 292.5 L397.7 296.5 L401.5 299.5 L405.4 302.3 L409.3 304" fill="none" stroke="#000" stroke-width="1.35" stroke-dasharray="12 6"/>
<path d="M136.67 296.75H149.57L143.12 308.65Z" fill="#000"/>
<path d="M140.46 296.21H153.36L146.91 308.11Z" fill="#000"/>
<path d="M144.25 295.28H157.15L150.7 307.18Z" fill="#000"/>
<path d="M148.04 294.2H160.94L154.49 306.1Z" fill="#000"/>
<path d="M151.83 292.64H164.73L158.28 304.54Z" fill="#000"/>
<path d="M155.62 291H168.52L162.07 302.9Z" fill="#000"/>
<path d="M159.42 288.63H172.32L165.87 300.53Z" fill="#000"/>
<path d="M163.21 286.26H176.11L169.66 298.16Z" fill="#000"/>
<path d="M167 283.09H179.9L173.45 294.99Z" fill="#000"/>
<path d="M170.79 279.84H183.69L177.24 291.74Z" fill="#000"/>
<path d="M175.95 275.35H188.85L182.4 287.25Z" fill="#000"/>
<path d="M180.75 266.45H193.65L187.2 278.35Z" fill="#000"/>
<path d="M187.15 248.55H200.05L193.6 260.45Z" fill="#000"/>
<path d="M194.15 235.75H207.05L200.6 247.65Z" fill="#000"/>
<path d="M198.55 226.05H211.45L205 237.95Z" fill="#000"/>
<path d="M202.55 218.45H215.45L209 230.35Z" fill="#000"/>
<path d="M208.25 210.75H221.15L214.7 222.65Z" fill="#000"/>
<path d="M212.75 218.45H225.65L219.2 230.35Z" fill="#000"/>
<path d="M220.45 204.35H233.35L226.9 216.25Z" fill="#000"/>
<path d="M223.45 186.25H236.35L229.9 198.15Z" fill="#000"/>
<path d="M227.55 182.05H240.45L234 193.95Z" fill="#000"/>
<path d="M232.35 204.15H245.25L238.8 216.05Z" fill="#000"/>
<path d="M236.35 160.95H249.25L242.8 172.85Z" fill="#000"/>
<path d="M241.55 166.05H254.45L248 177.95Z" fill="#000"/>
<path d="M246.55 172.75H259.45L253 184.65Z" fill="#000"/>
<path d="M250.75 129.45H263.65L257.2 141.35Z" fill="#000"/>
<path d="M258.25 143.85H271.15L264.7 155.75Z" fill="#000"/>
<path d="M262.05 166.35H274.95L268.5 178.25Z" fill="#000"/>
<path d="M268.55 144.05H281.45L275 155.95Z" fill="#000"/>
<path d="M274.85 128.95H287.75L281.3 140.85Z" fill="#000"/>
<path d="M281.75 111.85H294.65L288.2 123.75Z" fill="#000"/>
<path d="M284.95 139.65H297.85L291.4 151.55Z" fill="#000"/>
<path d="M288.75 174.85H301.65L295.2 186.75Z" fill="#000"/>
<path d="M292.95 162.65H305.85L299.4 174.55Z" fill="#000"/>
<path d="M296.15 163.15H309.05L302.6 175.05Z" fill="#000"/>
<path d="M300.45 174.85H313.35L306.9 186.75Z" fill="#000"/>
<path d="M305.85 164.15H318.75L312.3 176.05Z" fill="#000"/>
<path d="M310.55 172.05H323.45L317 183.95Z" fill="#000"/>
<path d="M315.25 182.85H328.15L321.7 194.75Z" fill="#000"/>
<path d="M319.55 187.05H332.45L326 198.95Z" fill="#000"/>
<path d="M323.95 192.55H336.85L330.4 204.45Z" fill="#000"/>
<path d="M327.05 200.05H339.95L333.5 211.95Z" fill="#000"/>
<path d="M329.75 207.85H342.65L336.2 219.75Z" fill="#000"/>
<path d="M333.55 219.45H346.45L340 231.35Z" fill="#000"/>
<path d="M335.45 205.95H348.35L341.9 217.85Z" fill="#000"/>
<path d="M338.55 214.05H351.45L345 225.95Z" fill="#000"/>
<path d="M341.25 205.95H354.15L347.7 217.85Z" fill="#000"/>
<path d="M344.05 215.05H356.95L350.5 226.95Z" fill="#000"/>
<path d="M347.05 223.25H359.95L353.5 235.15Z" fill="#000"/>
<path d="M351.05 226.05H363.95L357.5 237.95Z" fill="#000"/>
<path d="M354.75 229.05H367.65L361.2 240.95Z" fill="#000"/>
<path d="M357.55 238.05H370.45L364 249.95Z" fill="#000"/>
<path d="M360.45 246.35H373.35L366.9 258.25Z" fill="#000"/>
<path d="M363.35 251.05H376.25L369.8 262.95Z" fill="#000"/>
<path d="M366.25 255.95H379.15L372.7 267.85Z" fill="#000"/>
<path d="M369.15 260.55H382.05L375.6 272.45Z" fill="#000"/>
<path d="M372.05 265.55H384.95L378.5 277.45Z" fill="#000"/>
<path d="M374.95 269.55H387.85L381.4 281.45Z" fill="#000"/>
<path d="M377.75 273.25H390.65L384.2 285.15Z" fill="#000"/>
<path d="M380.65 278.05H393.55L387.1 289.95Z" fill="#000"/>
<path d="M383.55 282.85H396.45L390 294.75Z" fill="#000"/>
<path d="M387.45 286.55H400.35L393.9 298.45Z" fill="#000"/>
<path d="M391.25 290.55H404.15L397.7 302.45Z" fill="#000"/>
<path d="M395.05 293.55H407.95L401.5 305.45Z" fill="#000"/>
<path d="M398.95 296.35H411.85L405.4 308.25Z" fill="#000"/>
<path d="M402.85 298.05H415.75L409.3 309.95Z" fill="#000"/>
<path d="M143.12 302.93 L146.91 302.69 L150.7 302.37 L154.49 301.66 L158.28 300.93 L162.07 299.98 L165.87 299.03 L169.66 297.63 L173.45 296.21 L177.24 294.15 L181.03 291.97 L184.82 288.9 L188.62 283.8 L192.41 278.6 L196.2 274.17 L199.99 268.81 L203.78 259.85 L207.57 250.95 L211.37 243.78 L215.16 234.28 L218.95 228.6 L222.74 224.62 L226.53 221.61 L230.32 215.21 L234.4 192.6 L243 184 L246 159.4 L253.6 166.9 L257.8 156.2 L262.5 150 L269 138.9 L275.9 134.9 L278.9 146.4 L280.7 148.2 L285.7 167.8 L287.7 169.1 L293 160 L298 152 L304.8 149.8 L309.1 156.2 L315.5 159.4 L321.9 166.9 L325 172 L326.2 175.5 L331.9 177.2 L325 182.3 L336.49 182.74 L340.28 190.86 L344.07 191.61 L347.87 192.36 L351.66 194.05 L355.45 196.68 L359.24 210.54 L363.03 214.61 L366.82 208.23 L370.62 219.06 L374.41 239.73 L378.2 249.66 L381.99 259.22 L385.78 266.88 L389.57 276.23 L393.37 284.12 L397.16 288.36 L400.95 292.15 L404.74 295.14 L408.53 298 L412.32 300.01 L416.12 301.3" fill="none" stroke="#000" stroke-width="1.35" stroke-dasharray="15 4.5 1.5 4 1.5 4.5"/>
<path d="M137.67 307.93H148.57L143.12 297.93Z" fill="#fff" stroke="#000" stroke-width="1.2" stroke-linejoin="miter"/>
<path d="M141.46 307.69H152.36L146.91 297.69Z" fill="#fff" stroke="#000" stroke-width="1.2" stroke-linejoin="miter"/>
<path d="M145.25 307.37H156.15L150.7 297.37Z" fill="#fff" stroke="#000" stroke-width="1.2" stroke-linejoin="miter"/>
<path d="M149.04 306.66H159.94L154.49 296.66Z" fill="#fff" stroke="#000" stroke-width="1.2" stroke-linejoin="miter"/>
<path d="M152.83 305.93H163.73L158.28 295.93Z" fill="#fff" stroke="#000" stroke-width="1.2" stroke-linejoin="miter"/>
<path d="M156.62 304.98H167.52L162.07 294.98Z" fill="#fff" stroke="#000" stroke-width="1.2" stroke-linejoin="miter"/>
<path d="M160.42 304.03H171.32L165.87 294.03Z" fill="#fff" stroke="#000" stroke-width="1.2" stroke-linejoin="miter"/>
<path d="M164.21 302.63H175.11L169.66 292.63Z" fill="#fff" stroke="#000" stroke-width="1.2" stroke-linejoin="miter"/>
<path d="M168 301.21H178.9L173.45 291.21Z" fill="#fff" stroke="#000" stroke-width="1.2" stroke-linejoin="miter"/>
<path d="M171.79 299.15H182.69L177.24 289.15Z" fill="#fff" stroke="#000" stroke-width="1.2" stroke-linejoin="miter"/>
<path d="M175.58 296.97H186.48L181.03 286.97Z" fill="#fff" stroke="#000" stroke-width="1.2" stroke-linejoin="miter"/>
<path d="M179.38 293.9H190.27L184.82 283.9Z" fill="#fff" stroke="#000" stroke-width="1.2" stroke-linejoin="miter"/>
<path d="M183.17 288.8H194.07L188.62 278.8Z" fill="#fff" stroke="#000" stroke-width="1.2" stroke-linejoin="miter"/>
<path d="M186.96 283.6H197.86L192.41 273.6Z" fill="#fff" stroke="#000" stroke-width="1.2" stroke-linejoin="miter"/>
<path d="M190.75 279.17H201.65L196.2 269.17Z" fill="#fff" stroke="#000" stroke-width="1.2" stroke-linejoin="miter"/>
<path d="M194.54 273.81H205.44L199.99 263.81Z" fill="#fff" stroke="#000" stroke-width="1.2" stroke-linejoin="miter"/>
<path d="M198.33 264.85H209.23L203.78 254.85Z" fill="#fff" stroke="#000" stroke-width="1.2" stroke-linejoin="miter"/>
<path d="M202.12 255.95H213.02L207.57 245.95Z" fill="#fff" stroke="#000" stroke-width="1.2" stroke-linejoin="miter"/>
<path d="M205.92 248.78H216.82L211.37 238.78Z" fill="#fff" stroke="#000" stroke-width="1.2" stroke-linejoin="miter"/>
<path d="M209.71 239.28H220.61L215.16 229.28Z" fill="#fff" stroke="#000" stroke-width="1.2" stroke-linejoin="miter"/>
<path d="M213.5 233.6H224.4L218.95 223.6Z" fill="#fff" stroke="#000" stroke-width="1.2" stroke-linejoin="miter"/>
<path d="M217.29 229.62H228.19L222.74 219.62Z" fill="#fff" stroke="#000" stroke-width="1.2" stroke-linejoin="miter"/>
<path d="M221.08 226.61H231.98L226.53 216.61Z" fill="#fff" stroke="#000" stroke-width="1.2" stroke-linejoin="miter"/>
<path d="M224.88 220.21H235.77L230.32 210.21Z" fill="#fff" stroke="#000" stroke-width="1.2" stroke-linejoin="miter"/>
<path d="M228.95 197.6H239.85L234.4 187.6Z" fill="#fff" stroke="#000" stroke-width="1.2" stroke-linejoin="miter"/>
<path d="M237.55 189H248.45L243 179Z" fill="#fff" stroke="#000" stroke-width="1.2" stroke-linejoin="miter"/>
<path d="M240.55 164.4H251.45L246 154.4Z" fill="#fff" stroke="#000" stroke-width="1.2" stroke-linejoin="miter"/>
<path d="M248.15 171.9H259.05L253.6 161.9Z" fill="#fff" stroke="#000" stroke-width="1.2" stroke-linejoin="miter"/>
<path d="M252.35 161.2H263.25L257.8 151.2Z" fill="#fff" stroke="#000" stroke-width="1.2" stroke-linejoin="miter"/>
<path d="M257.05 155H267.95L262.5 145Z" fill="#fff" stroke="#000" stroke-width="1.2" stroke-linejoin="miter"/>
<path d="M263.55 143.9H274.45L269 133.9Z" fill="#fff" stroke="#000" stroke-width="1.2" stroke-linejoin="miter"/>
<path d="M270.45 139.9H281.35L275.9 129.9Z" fill="#fff" stroke="#000" stroke-width="1.2" stroke-linejoin="miter"/>
<path d="M273.45 151.4H284.35L278.9 141.4Z" fill="#fff" stroke="#000" stroke-width="1.2" stroke-linejoin="miter"/>
<path d="M275.25 153.2H286.15L280.7 143.2Z" fill="#fff" stroke="#000" stroke-width="1.2" stroke-linejoin="miter"/>
<path d="M280.25 172.8H291.15L285.7 162.8Z" fill="#fff" stroke="#000" stroke-width="1.2" stroke-linejoin="miter"/>
<path d="M282.25 174.1H293.15L287.7 164.1Z" fill="#fff" stroke="#000" stroke-width="1.2" stroke-linejoin="miter"/>
<path d="M287.55 165H298.45L293 155Z" fill="#fff" stroke="#000" stroke-width="1.2" stroke-linejoin="miter"/>
<path d="M292.55 157H303.45L298 147Z" fill="#fff" stroke="#000" stroke-width="1.2" stroke-linejoin="miter"/>
<path d="M299.35 154.8H310.25L304.8 144.8Z" fill="#fff" stroke="#000" stroke-width="1.2" stroke-linejoin="miter"/>
<path d="M303.65 161.2H314.55L309.1 151.2Z" fill="#fff" stroke="#000" stroke-width="1.2" stroke-linejoin="miter"/>
<path d="M310.05 164.4H320.95L315.5 154.4Z" fill="#fff" stroke="#000" stroke-width="1.2" stroke-linejoin="miter"/>
<path d="M316.45 171.9H327.35L321.9 161.9Z" fill="#fff" stroke="#000" stroke-width="1.2" stroke-linejoin="miter"/>
<path d="M319.55 177H330.45L325 167Z" fill="#fff" stroke="#000" stroke-width="1.2" stroke-linejoin="miter"/>
<path d="M320.75 180.5H331.65L326.2 170.5Z" fill="#fff" stroke="#000" stroke-width="1.2" stroke-linejoin="miter"/>
<path d="M326.45 182.2H337.35L331.9 172.2Z" fill="#fff" stroke="#000" stroke-width="1.2" stroke-linejoin="miter"/>
<path d="M319.55 187.3H330.45L325 177.3Z" fill="#fff" stroke="#000" stroke-width="1.2" stroke-linejoin="miter"/>
<path d="M331.04 187.74H341.94L336.49 177.74Z" fill="#fff" stroke="#000" stroke-width="1.2" stroke-linejoin="miter"/>
<path d="M334.83 195.86H345.73L340.28 185.86Z" fill="#fff" stroke="#000" stroke-width="1.2" stroke-linejoin="miter"/>
<path d="M338.62 196.61H349.52L344.07 186.61Z" fill="#fff" stroke="#000" stroke-width="1.2" stroke-linejoin="miter"/>
<path d="M342.42 197.36H353.32L347.87 187.36Z" fill="#fff" stroke="#000" stroke-width="1.2" stroke-linejoin="miter"/>
<path d="M346.21 199.05H357.11L351.66 189.05Z" fill="#fff" stroke="#000" stroke-width="1.2" stroke-linejoin="miter"/>
<path d="M350 201.68H360.9L355.45 191.68Z" fill="#fff" stroke="#000" stroke-width="1.2" stroke-linejoin="miter"/>
<path d="M353.79 215.54H364.69L359.24 205.54Z" fill="#fff" stroke="#000" stroke-width="1.2" stroke-linejoin="miter"/>
<path d="M357.58 219.61H368.48L363.03 209.61Z" fill="#fff" stroke="#000" stroke-width="1.2" stroke-linejoin="miter"/>
<path d="M361.38 213.23H372.27L366.82 203.23Z" fill="#fff" stroke="#000" stroke-width="1.2" stroke-linejoin="miter"/>
<path d="M365.17 224.06H376.07L370.62 214.06Z" fill="#fff" stroke="#000" stroke-width="1.2" stroke-linejoin="miter"/>
<path d="M368.96 244.73H379.86L374.41 234.73Z" fill="#fff" stroke="#000" stroke-width="1.2" stroke-linejoin="miter"/>
<path d="M372.75 254.66H383.65L378.2 244.66Z" fill="#fff" stroke="#000" stroke-width="1.2" stroke-linejoin="miter"/>
<path d="M376.54 264.22H387.44L381.99 254.22Z" fill="#fff" stroke="#000" stroke-width="1.2" stroke-linejoin="miter"/>
<path d="M380.33 271.88H391.23L385.78 261.88Z" fill="#fff" stroke="#000" stroke-width="1.2" stroke-linejoin="miter"/>
<path d="M384.12 281.23H395.02L389.57 271.23Z" fill="#fff" stroke="#000" stroke-width="1.2" stroke-linejoin="miter"/>
<path d="M387.92 289.12H398.82L393.37 279.12Z" fill="#fff" stroke="#000" stroke-width="1.2" stroke-linejoin="miter"/>
<path d="M391.71 293.36H402.61L397.16 283.36Z" fill="#fff" stroke="#000" stroke-width="1.2" stroke-linejoin="miter"/>
<path d="M395.5 297.15H406.4L400.95 287.15Z" fill="#fff" stroke="#000" stroke-width="1.2" stroke-linejoin="miter"/>
<path d="M399.29 300.14H410.19L404.74 290.14Z" fill="#fff" stroke="#000" stroke-width="1.2" stroke-linejoin="miter"/>
<path d="M403.08 303H413.98L408.53 293Z" fill="#fff" stroke="#000" stroke-width="1.2" stroke-linejoin="miter"/>
<path d="M406.88 305.01H417.77L412.32 295.01Z" fill="#fff" stroke="#000" stroke-width="1.2" stroke-linejoin="miter"/>
<path d="M410.67 306.3H421.57L416.12 296.3Z" fill="#fff" stroke="#000" stroke-width="1.2" stroke-linejoin="miter"/>
<path d="M572.72 296.99 L576.51 295.33 L580.3 293.37 L584.09 290.35 L587.88 285.47 L591.68 278.03 L595.47 270.88 L599.26 263.85 L603.05 254.05 L606.84 245.14 L610.63 235.9 L614.43 225.51 L618.22 211.74 L622.01 203.46 L625.8 186.8 L629.59 176.67 L633.38 174.47 L637.18 175.08 L640.97 173.69 L644.76 165.29 L648.55 152.5 L652.34 145.15 L656.13 135.9 L659.93 135.9 L663.72 131.67 L667.51 127.59 L671.3 123.98 L675.09 125.48 L678.88 124.22 L682.68 119.31 L686.47 116.23 L690.26 114.01 L694.05 114.21 L697.84 112.9 L701.63 111.55 L705.43 118.65 L709.22 114.15 L713.01 116.51 L716.8 123.77 L720.59 126.51 L724.38 128.38 L728.18 132.89 L731.97 138.51 L735.76 146.38 L739.55 162.29 L743.34 160.57 L747.13 158.97 L750.93 165.06 L754.72 174.59 L758.51 183.78 L762.3 180.78 L766.09 191.21 L769.88 211.4 L773.68 205.32 L777.47 218.85 L781.26 229.79 L785.05 244.34 L788.84 259.77 L792.63 264.22 L796.43 268.33 L800.22 272.12 L804.01 275.91 L807.8 279.7 L811.59 283.51 L815.38 287.36 L819.18 290.25 L822.97 292.75 L826.76 295.3 L830.55 297.83 L834.34 300" fill="none" stroke="#000" stroke-width="1.35"/>
<circle cx="572.72" cy="296.99" r="5.75" fill="#000"/>
<circle cx="576.51" cy="295.33" r="5.75" fill="#000"/>
<circle cx="580.3" cy="293.37" r="5.75" fill="#000"/>
<circle cx="584.09" cy="290.35" r="5.75" fill="#000"/>
<circle cx="587.88" cy="285.47" r="5.75" fill="#000"/>
<circle cx="591.68" cy="278.03" r="5.75" fill="#000"/>
<circle cx="595.47" cy="270.88" r="5.75" fill="#000"/>
<circle cx="599.26" cy="263.85" r="5.75" fill="#000"/>
<circle cx="603.05" cy="254.05" r="5.75" fill="#000"/>
<circle cx="606.84" cy="245.14" r="5.75" fill="#000"/>
<circle cx="610.63" cy="235.9" r="5.75" fill="#000"/>
<circle cx="614.43" cy="225.51" r="5.75" fill="#000"/>
<circle cx="618.22" cy="211.74" r="5.75" fill="#000"/>
<circle cx="622.01" cy="203.46" r="5.75" fill="#000"/>
<circle cx="625.8" cy="186.8" r="5.75" fill="#000"/>
<circle cx="629.59" cy="176.67" r="5.75" fill="#000"/>
<circle cx="633.38" cy="174.47" r="5.75" fill="#000"/>
<circle cx="637.18" cy="175.08" r="5.75" fill="#000"/>
<circle cx="640.97" cy="173.69" r="5.75" fill="#000"/>
<circle cx="644.76" cy="165.29" r="5.75" fill="#000"/>
<circle cx="648.55" cy="152.5" r="5.75" fill="#000"/>
<circle cx="652.34" cy="145.15" r="5.75" fill="#000"/>
<circle cx="656.13" cy="135.9" r="5.75" fill="#000"/>
<circle cx="659.93" cy="135.9" r="5.75" fill="#000"/>
<circle cx="663.72" cy="131.67" r="5.75" fill="#000"/>
<circle cx="667.51" cy="127.59" r="5.75" fill="#000"/>
<circle cx="671.3" cy="123.98" r="5.75" fill="#000"/>
<circle cx="675.09" cy="125.48" r="5.75" fill="#000"/>
<circle cx="678.88" cy="124.22" r="5.75" fill="#000"/>
<circle cx="682.68" cy="119.31" r="5.75" fill="#000"/>
<circle cx="686.47" cy="116.23" r="5.75" fill="#000"/>
<circle cx="690.26" cy="114.01" r="5.75" fill="#000"/>
<circle cx="694.05" cy="114.21" r="5.75" fill="#000"/>
<circle cx="697.84" cy="112.9" r="5.75" fill="#000"/>
<circle cx="701.63" cy="111.55" r="5.75" fill="#000"/>
<circle cx="705.43" cy="118.65" r="5.75" fill="#000"/>
<circle cx="709.22" cy="114.15" r="5.75" fill="#000"/>
<circle cx="713.01" cy="116.51" r="5.75" fill="#000"/>
<circle cx="716.8" cy="123.77" r="5.75" fill="#000"/>
<circle cx="720.59" cy="126.51" r="5.75" fill="#000"/>
<circle cx="724.38" cy="128.38" r="5.75" fill="#000"/>
<circle cx="728.18" cy="132.89" r="5.75" fill="#000"/>
<circle cx="731.97" cy="138.51" r="5.75" fill="#000"/>
<circle cx="735.76" cy="146.38" r="5.75" fill="#000"/>
<circle cx="739.55" cy="162.29" r="5.75" fill="#000"/>
<circle cx="743.34" cy="160.57" r="5.75" fill="#000"/>
<circle cx="747.13" cy="158.97" r="5.75" fill="#000"/>
<circle cx="750.93" cy="165.06" r="5.75" fill="#000"/>
<circle cx="754.72" cy="174.59" r="5.75" fill="#000"/>
<circle cx="758.51" cy="183.78" r="5.75" fill="#000"/>
<circle cx="762.3" cy="180.78" r="5.75" fill="#000"/>
<circle cx="766.09" cy="191.21" r="5.75" fill="#000"/>
<circle cx="769.88" cy="211.4" r="5.75" fill="#000"/>
<circle cx="773.68" cy="205.32" r="5.75" fill="#000"/>
<circle cx="777.47" cy="218.85" r="5.75" fill="#000"/>
<circle cx="781.26" cy="229.79" r="5.75" fill="#000"/>
<circle cx="785.05" cy="244.34" r="5.75" fill="#000"/>
<circle cx="788.84" cy="259.77" r="5.75" fill="#000"/>
<circle cx="792.63" cy="264.22" r="5.75" fill="#000"/>
<circle cx="796.43" cy="268.33" r="5.75" fill="#000"/>
<circle cx="800.22" cy="272.12" r="5.75" fill="#000"/>
<circle cx="804.01" cy="275.91" r="5.75" fill="#000"/>
<circle cx="807.8" cy="279.7" r="5.75" fill="#000"/>
<circle cx="811.59" cy="283.51" r="5.75" fill="#000"/>
<circle cx="815.38" cy="287.36" r="5.75" fill="#000"/>
<circle cx="819.18" cy="290.25" r="5.75" fill="#000"/>
<circle cx="822.97" cy="292.75" r="5.75" fill="#000"/>
<circle cx="826.76" cy="295.3" r="5.75" fill="#000"/>
<circle cx="830.55" cy="297.83" r="5.75" fill="#000"/>
<circle cx="834.34" cy="300" r="5.75" fill="#000"/>
<path d="M568.93 300.5 L572.72 299.78 L576.51 298.76 L580.3 297.75 L584.09 296.74 L587.88 295.54 L591.68 294.27 L595.47 293.01 L599.26 291.75 L603.05 289.87 L606.84 287.51 L610.63 284.5 L614.43 281.49 L618.22 279.34 L622.01 278.03 L625.8 276.6 L629.59 274.7 L633.38 272.81 L637.18 270.99 L640.97 269.23 L644.76 267.74 L648.55 262.28 L652.34 255.09 L656.13 251.61 L659.93 250.17 L663.72 249.57 L667.51 249.27 L671.3 248.02 L675.09 246.93 L678.88 246 L682.68 244.48 L686.47 241.29 L690.26 236.63 L694.05 230.97 L697.84 233.76 L701.63 239.68 L705.43 248.21 L709.22 253.79 L713.01 247.32 L716.8 237.23 L720.59 238.91 L724.38 241.24 L728.18 243.64 L731.97 246.08 L735.76 250.76 L739.55 255.44 L743.34 259.34 L747.13 263.13 L750.93 266.9 L754.72 270.59 L758.51 274.27 L762.3 277.44 L766.09 279.81 L769.88 282.15 L773.68 284.46 L777.47 286.65 L781.26 288.58 L785.05 290.52 L788.84 292.28 L792.63 293.99 L796.43 295.65 L800.22 296.98 L804.01 298.3 L807.8 299.45 L811.59 300.4 L815.38 301.35 L819.18 301.98 L822.97 302.55 L826.76 303.13 L830.55 303.76" fill="none" stroke="#000" stroke-width="1.1" stroke-dasharray="1.1 4.4"/>
<circle cx="568.93" cy="300.5" r="5.3" fill="#fff" stroke="#000" stroke-width="1.2"/>
<circle cx="572.72" cy="299.78" r="5.3" fill="#fff" stroke="#000" stroke-width="1.2"/>
<circle cx="576.51" cy="298.76" r="5.3" fill="#fff" stroke="#000" stroke-width="1.2"/>
<circle cx="580.3" cy="297.75" r="5.3" fill="#fff" stroke="#000" stroke-width="1.2"/>
<circle cx="584.09" cy="296.74" r="5.3" fill="#fff" stroke="#000" stroke-width="1.2"/>
<circle cx="587.88" cy="295.54" r="5.3" fill="#fff" stroke="#000" stroke-width="1.2"/>
<circle cx="591.68" cy="294.27" r="5.3" fill="#fff" stroke="#000" stroke-width="1.2"/>
<circle cx="595.47" cy="293.01" r="5.3" fill="#fff" stroke="#000" stroke-width="1.2"/>
<circle cx="599.26" cy="291.75" r="5.3" fill="#fff" stroke="#000" stroke-width="1.2"/>
<circle cx="603.05" cy="289.87" r="5.3" fill="#fff" stroke="#000" stroke-width="1.2"/>
<circle cx="606.84" cy="287.51" r="5.3" fill="#fff" stroke="#000" stroke-width="1.2"/>
<circle cx="610.63" cy="284.5" r="5.3" fill="#fff" stroke="#000" stroke-width="1.2"/>
<circle cx="614.43" cy="281.49" r="5.3" fill="#fff" stroke="#000" stroke-width="1.2"/>
<circle cx="618.22" cy="279.34" r="5.3" fill="#fff" stroke="#000" stroke-width="1.2"/>
<circle cx="622.01" cy="278.03" r="5.3" fill="#fff" stroke="#000" stroke-width="1.2"/>
<circle cx="625.8" cy="276.6" r="5.3" fill="#fff" stroke="#000" stroke-width="1.2"/>
<circle cx="629.59" cy="274.7" r="5.3" fill="#fff" stroke="#000" stroke-width="1.2"/>
<circle cx="633.38" cy="272.81" r="5.3" fill="#fff" stroke="#000" stroke-width="1.2"/>
<circle cx="637.18" cy="270.99" r="5.3" fill="#fff" stroke="#000" stroke-width="1.2"/>
<circle cx="640.97" cy="269.23" r="5.3" fill="#fff" stroke="#000" stroke-width="1.2"/>
<circle cx="644.76" cy="267.74" r="5.3" fill="#fff" stroke="#000" stroke-width="1.2"/>
<circle cx="648.55" cy="262.28" r="5.3" fill="#fff" stroke="#000" stroke-width="1.2"/>
<circle cx="652.34" cy="255.09" r="5.3" fill="#fff" stroke="#000" stroke-width="1.2"/>
<circle cx="656.13" cy="251.61" r="5.3" fill="#fff" stroke="#000" stroke-width="1.2"/>
<circle cx="659.93" cy="250.17" r="5.3" fill="#fff" stroke="#000" stroke-width="1.2"/>
<circle cx="663.72" cy="249.57" r="5.3" fill="#fff" stroke="#000" stroke-width="1.2"/>
<circle cx="667.51" cy="249.27" r="5.3" fill="#fff" stroke="#000" stroke-width="1.2"/>
<circle cx="671.3" cy="248.02" r="5.3" fill="#fff" stroke="#000" stroke-width="1.2"/>
<circle cx="675.09" cy="246.93" r="5.3" fill="#fff" stroke="#000" stroke-width="1.2"/>
<circle cx="678.88" cy="246" r="5.3" fill="#fff" stroke="#000" stroke-width="1.2"/>
<circle cx="682.68" cy="244.48" r="5.3" fill="#fff" stroke="#000" stroke-width="1.2"/>
<circle cx="686.47" cy="241.29" r="5.3" fill="#fff" stroke="#000" stroke-width="1.2"/>
<circle cx="690.26" cy="236.63" r="5.3" fill="#fff" stroke="#000" stroke-width="1.2"/>
<circle cx="694.05" cy="230.97" r="5.3" fill="#fff" stroke="#000" stroke-width="1.2"/>
<circle cx="697.84" cy="233.76" r="5.3" fill="#fff" stroke="#000" stroke-width="1.2"/>
<circle cx="701.63" cy="239.68" r="5.3" fill="#fff" stroke="#000" stroke-width="1.2"/>
<circle cx="705.43" cy="248.21" r="5.3" fill="#fff" stroke="#000" stroke-width="1.2"/>
<circle cx="709.22" cy="253.79" r="5.3" fill="#fff" stroke="#000" stroke-width="1.2"/>
<circle cx="713.01" cy="247.32" r="5.3" fill="#fff" stroke="#000" stroke-width="1.2"/>
<circle cx="716.8" cy="237.23" r="5.3" fill="#fff" stroke="#000" stroke-width="1.2"/>
<circle cx="720.59" cy="238.91" r="5.3" fill="#fff" stroke="#000" stroke-width="1.2"/>
<circle cx="724.38" cy="241.24" r="5.3" fill="#fff" stroke="#000" stroke-width="1.2"/>
<circle cx="728.18" cy="243.64" r="5.3" fill="#fff" stroke="#000" stroke-width="1.2"/>
<circle cx="731.97" cy="246.08" r="5.3" fill="#fff" stroke="#000" stroke-width="1.2"/>
<circle cx="735.76" cy="250.76" r="5.3" fill="#fff" stroke="#000" stroke-width="1.2"/>
<circle cx="739.55" cy="255.44" r="5.3" fill="#fff" stroke="#000" stroke-width="1.2"/>
<circle cx="743.34" cy="259.34" r="5.3" fill="#fff" stroke="#000" stroke-width="1.2"/>
<circle cx="747.13" cy="263.13" r="5.3" fill="#fff" stroke="#000" stroke-width="1.2"/>
<circle cx="750.93" cy="266.9" r="5.3" fill="#fff" stroke="#000" stroke-width="1.2"/>
<circle cx="754.72" cy="270.59" r="5.3" fill="#fff" stroke="#000" stroke-width="1.2"/>
<circle cx="758.51" cy="274.27" r="5.3" fill="#fff" stroke="#000" stroke-width="1.2"/>
<circle cx="762.3" cy="277.44" r="5.3" fill="#fff" stroke="#000" stroke-width="1.2"/>
<circle cx="766.09" cy="279.81" r="5.3" fill="#fff" stroke="#000" stroke-width="1.2"/>
<circle cx="769.88" cy="282.15" r="5.3" fill="#fff" stroke="#000" stroke-width="1.2"/>
<circle cx="773.68" cy="284.46" r="5.3" fill="#fff" stroke="#000" stroke-width="1.2"/>
<circle cx="777.47" cy="286.65" r="5.3" fill="#fff" stroke="#000" stroke-width="1.2"/>
<circle cx="781.26" cy="288.58" r="5.3" fill="#fff" stroke="#000" stroke-width="1.2"/>
<circle cx="785.05" cy="290.52" r="5.3" fill="#fff" stroke="#000" stroke-width="1.2"/>
<circle cx="788.84" cy="292.28" r="5.3" fill="#fff" stroke="#000" stroke-width="1.2"/>
<circle cx="792.63" cy="293.99" r="5.3" fill="#fff" stroke="#000" stroke-width="1.2"/>
<circle cx="796.43" cy="295.65" r="5.3" fill="#fff" stroke="#000" stroke-width="1.2"/>
<circle cx="800.22" cy="296.98" r="5.3" fill="#fff" stroke="#000" stroke-width="1.2"/>
<circle cx="804.01" cy="298.3" r="5.3" fill="#fff" stroke="#000" stroke-width="1.2"/>
<circle cx="807.8" cy="299.45" r="5.3" fill="#fff" stroke="#000" stroke-width="1.2"/>
<circle cx="811.59" cy="300.4" r="5.3" fill="#fff" stroke="#000" stroke-width="1.2"/>
<circle cx="815.38" cy="301.35" r="5.3" fill="#fff" stroke="#000" stroke-width="1.2"/>
<circle cx="819.18" cy="301.98" r="5.3" fill="#fff" stroke="#000" stroke-width="1.2"/>
<circle cx="822.97" cy="302.55" r="5.3" fill="#fff" stroke="#000" stroke-width="1.2"/>
<circle cx="826.76" cy="303.13" r="5.3" fill="#fff" stroke="#000" stroke-width="1.2"/>
<circle cx="830.55" cy="303.76" r="5.3" fill="#fff" stroke="#000" stroke-width="1.2"/>
<path d="M568.93 302.5 L572.72 301.45 L576.51 300.39 L580.3 299.32 L584.09 298.26 L587.88 297.04 L591.68 295.77 L595.47 294.51 L599.26 293.25 L603.05 292.08 L606.84 290.95 L610.63 289.81 L614.43 288.67 L618.22 287.21 L622.01 285.7 L625.8 282.28 L629.59 273.1 L633.38 273.1 L637.18 277.51 L640.97 281.61 L644.76 280.1 L648.55 278.58 L652.34 277.06 L656.13 275.4 L659.93 273.37 L663.72 271.35 L667.51 269.33 L671.3 267.22 L675.09 264.94 L678.88 262.67 L682.68 259.71 L686.47 256.46 L690.26 238.86 L694.05 225.67 L697.84 221.24 L701.63 231.6 L705.43 232.04 L709.22 232.37 L713.01 232.19 L716.8 241.92 L720.59 249.07 L724.38 255.03 L728.18 259.18 L731.97 262.97 L735.76 264.88 L739.55 263.16 L743.34 256.21 L747.13 251.7 L750.93 251.7 L754.72 254.23 L758.51 259.02 L762.3 266.75 L766.09 276.23 L769.88 282.15 L773.68 284.46 L777.47 286.65 L781.26 288.58 L785.05 290.52 L788.84 292.28 L792.63 293.99 L796.43 295.65 L800.22 296.98 L804.01 298.3 L807.8 299.45 L811.59 300.4 L815.38 301.35 L819.18 302.13 L822.97 302.89 L826.76 303.69 L830.55 304.64 L834.34 305.5" fill="none" stroke="#000" stroke-width="1.35" stroke-dasharray="12 6"/>
<path d="M562.48 296.55H575.38L568.93 308.45Z" fill="#000"/>
<path d="M566.27 295.5H579.17L572.72 307.4Z" fill="#000"/>
<path d="M570.06 294.44H582.96L576.51 306.34Z" fill="#000"/>
<path d="M573.85 293.37H586.75L580.3 305.27Z" fill="#000"/>
<path d="M577.64 292.31H590.54L584.09 304.21Z" fill="#000"/>
<path d="M581.43 291.09H594.33L587.88 302.99Z" fill="#000"/>
<path d="M585.23 289.82H598.13L591.68 301.72Z" fill="#000"/>
<path d="M589.02 288.56H601.92L595.47 300.46Z" fill="#000"/>
<path d="M592.81 287.3H605.71L599.26 299.2Z" fill="#000"/>
<path d="M596.6 286.13H609.5L603.05 298.03Z" fill="#000"/>
<path d="M600.39 285H613.29L606.84 296.9Z" fill="#000"/>
<path d="M604.18 283.86H617.08L610.63 295.76Z" fill="#000"/>
<path d="M607.98 282.72H620.88L614.43 294.62Z" fill="#000"/>
<path d="M611.77 281.26H624.67L618.22 293.16Z" fill="#000"/>
<path d="M615.56 279.75H628.46L622.01 291.65Z" fill="#000"/>
<path d="M619.35 276.33H632.25L625.8 288.23Z" fill="#000"/>
<path d="M623.14 267.15H636.04L629.59 279.05Z" fill="#000"/>
<path d="M626.93 267.15H639.83L633.38 279.05Z" fill="#000"/>
<path d="M630.73 271.56H643.63L637.18 283.46Z" fill="#000"/>
<path d="M634.52 275.66H647.42L640.97 287.56Z" fill="#000"/>
<path d="M638.31 274.15H651.21L644.76 286.05Z" fill="#000"/>
<path d="M642.1 272.63H655L648.55 284.53Z" fill="#000"/>
<path d="M645.89 271.11H658.79L652.34 283.01Z" fill="#000"/>
<path d="M649.68 269.45H662.58L656.13 281.35Z" fill="#000"/>
<path d="M653.48 267.42H666.38L659.93 279.32Z" fill="#000"/>
<path d="M657.27 265.4H670.17L663.72 277.3Z" fill="#000"/>
<path d="M661.06 263.38H673.96L667.51 275.28Z" fill="#000"/>
<path d="M664.85 261.27H677.75L671.3 273.17Z" fill="#000"/>
<path d="M668.64 259H681.54L675.09 270.89Z" fill="#000"/>
<path d="M672.43 256.72H685.33L678.88 268.62Z" fill="#000"/>
<path d="M676.23 253.76H689.13L682.68 265.66Z" fill="#000"/>
<path d="M680.02 250.51H692.92L686.47 262.41Z" fill="#000"/>
<path d="M683.81 232.91H696.71L690.26 244.81Z" fill="#000"/>
<path d="M687.6 219.72H700.5L694.05 231.62Z" fill="#000"/>
<path d="M691.39 215.29H704.29L697.84 227.19Z" fill="#000"/>
<path d="M695.18 225.65H708.08L701.63 237.55Z" fill="#000"/>
<path d="M698.98 226.09H711.88L705.43 237.99Z" fill="#000"/>
<path d="M702.77 226.42H715.67L709.22 238.32Z" fill="#000"/>
<path d="M706.56 226.24H719.46L713.01 238.14Z" fill="#000"/>
<path d="M710.35 235.97H723.25L716.8 247.87Z" fill="#000"/>
<path d="M714.14 243.12H727.04L720.59 255.02Z" fill="#000"/>
<path d="M717.93 249.08H730.83L724.38 260.98Z" fill="#000"/>
<path d="M721.73 253.23H734.63L728.18 265.13Z" fill="#000"/>
<path d="M725.52 257.02H738.42L731.97 268.92Z" fill="#000"/>
<path d="M729.31 258.93H742.21L735.76 270.83Z" fill="#000"/>
<path d="M733.1 257.21H746L739.55 269.11Z" fill="#000"/>
<path d="M736.89 250.26H749.79L743.34 262.16Z" fill="#000"/>
<path d="M740.68 245.75H753.58L747.13 257.65Z" fill="#000"/>
<path d="M744.48 245.75H757.38L750.93 257.65Z" fill="#000"/>
<path d="M748.27 248.28H761.17L754.72 260.18Z" fill="#000"/>
<path d="M752.06 253.07H764.96L758.51 264.97Z" fill="#000"/>
<path d="M755.85 260.8H768.75L762.3 272.7Z" fill="#000"/>
<path d="M759.64 270.28H772.54L766.09 282.18Z" fill="#000"/>
<path d="M763.43 276.2H776.33L769.88 288.1Z" fill="#000"/>
<path d="M767.23 278.51H780.13L773.68 290.41Z" fill="#000"/>
<path d="M771.02 280.7H783.92L777.47 292.6Z" fill="#000"/>
<path d="M774.81 282.63H787.71L781.26 294.53Z" fill="#000"/>
<path d="M778.6 284.57H791.5L785.05 296.47Z" fill="#000"/>
<path d="M782.39 286.33H795.29L788.84 298.23Z" fill="#000"/>
<path d="M786.18 288.04H799.08L792.63 299.94Z" fill="#000"/>
<path d="M789.98 289.7H802.88L796.43 301.6Z" fill="#000"/>
<path d="M793.77 291.03H806.67L800.22 302.93Z" fill="#000"/>
<path d="M797.56 292.35H810.46L804.01 304.25Z" fill="#000"/>
<path d="M801.35 293.5H814.25L807.8 305.4Z" fill="#000"/>
<path d="M805.14 294.45H818.04L811.59 306.35Z" fill="#000"/>
<path d="M808.93 295.4H821.83L815.38 307.3Z" fill="#000"/>
<path d="M812.73 296.19H825.63L819.18 308.08Z" fill="#000"/>
<path d="M816.52 296.94H829.42L822.97 308.84Z" fill="#000"/>
<path d="M820.31 297.74H833.21L826.76 309.64Z" fill="#000"/>
<path d="M824.1 298.69H837L830.55 310.59Z" fill="#000"/>
<path d="M827.89 299.55H840.79L834.34 311.45Z" fill="#000"/>
<path d="M568.93 300.76 L572.72 299.75 L576.51 298.75 L580.3 297.74 L584.09 296.74 L587.88 295.54 L591.68 294.27 L595.47 293.01 L599.26 291.75 L603.05 290.58 L606.84 289.45 L610.63 288.31 L614.43 287.17 L618.22 286.08 L622.01 285 L625.8 283.91 L629.59 282.86 L633.38 281.98 L637.18 281.09 L640.97 280.21 L644.76 279.03 L648.55 276.66 L652.34 274.29 L656.13 271.9 L659.93 269.2 L663.72 266.49 L667.51 263.78 L671.3 260.7 L675.09 256.91 L678.88 253.12 L682.68 250.09 L686.47 247.38 L690.26 248.4 L694.05 249.94 L697.84 245.68 L701.63 241.41 L705.43 241.57 L709.22 242.61 L713.01 244.5 L716.8 246.2 L720.59 247.15 L724.38 248.07 L728.18 248.78 L731.97 249.49 L735.76 252.86 L739.55 256.26 L743.34 259.14 L747.13 261.49 L750.93 263.83 L754.72 265.86 L758.51 267.75 L762.3 269.65 L766.09 271.56 L769.88 273.51 L773.68 275.45 L777.47 277.4 L781.26 279.35 L785.05 281.32 L788.84 283.29 L792.63 285.25 L796.43 287.21 L800.22 289.11 L804.01 291 L807.8 292.81 L811.59 294.52 L815.38 296.22 L819.18 297.77 L822.97 299.29 L826.76 300.71 L830.55 301.76 L834.34 302.82" fill="none" stroke="#000" stroke-width="1.35" stroke-dasharray="15 4.5 1.5 4 1.5 4.5"/>
<path d="M563.48 305.76H574.38L568.93 295.76Z" fill="#fff" stroke="#000" stroke-width="1.2" stroke-linejoin="miter"/>
<path d="M567.27 304.75H578.17L572.72 294.75Z" fill="#fff" stroke="#000" stroke-width="1.2" stroke-linejoin="miter"/>
<path d="M571.06 303.75H581.96L576.51 293.75Z" fill="#fff" stroke="#000" stroke-width="1.2" stroke-linejoin="miter"/>
<path d="M574.85 302.74H585.75L580.3 292.74Z" fill="#fff" stroke="#000" stroke-width="1.2" stroke-linejoin="miter"/>
<path d="M578.64 301.74H589.54L584.09 291.74Z" fill="#fff" stroke="#000" stroke-width="1.2" stroke-linejoin="miter"/>
<path d="M582.43 300.54H593.33L587.88 290.54Z" fill="#fff" stroke="#000" stroke-width="1.2" stroke-linejoin="miter"/>
<path d="M586.23 299.27H597.13L591.68 289.27Z" fill="#fff" stroke="#000" stroke-width="1.2" stroke-linejoin="miter"/>
<path d="M590.02 298.01H600.92L595.47 288.01Z" fill="#fff" stroke="#000" stroke-width="1.2" stroke-linejoin="miter"/>
<path d="M593.81 296.75H604.71L599.26 286.75Z" fill="#fff" stroke="#000" stroke-width="1.2" stroke-linejoin="miter"/>
<path d="M597.6 295.58H608.5L603.05 285.58Z" fill="#fff" stroke="#000" stroke-width="1.2" stroke-linejoin="miter"/>
<path d="M601.39 294.45H612.29L606.84 284.45Z" fill="#fff" stroke="#000" stroke-width="1.2" stroke-linejoin="miter"/>
<path d="M605.18 293.31H616.08L610.63 283.31Z" fill="#fff" stroke="#000" stroke-width="1.2" stroke-linejoin="miter"/>
<path d="M608.98 292.17H619.88L614.43 282.17Z" fill="#fff" stroke="#000" stroke-width="1.2" stroke-linejoin="miter"/>
<path d="M612.77 291.08H623.67L618.22 281.08Z" fill="#fff" stroke="#000" stroke-width="1.2" stroke-linejoin="miter"/>
<path d="M616.56 290H627.46L622.01 280Z" fill="#fff" stroke="#000" stroke-width="1.2" stroke-linejoin="miter"/>
<path d="M620.35 288.91H631.25L625.8 278.91Z" fill="#fff" stroke="#000" stroke-width="1.2" stroke-linejoin="miter"/>
<path d="M624.14 287.86H635.04L629.59 277.86Z" fill="#fff" stroke="#000" stroke-width="1.2" stroke-linejoin="miter"/>
<path d="M627.93 286.98H638.83L633.38 276.98Z" fill="#fff" stroke="#000" stroke-width="1.2" stroke-linejoin="miter"/>
<path d="M631.73 286.09H642.63L637.18 276.09Z" fill="#fff" stroke="#000" stroke-width="1.2" stroke-linejoin="miter"/>
<path d="M635.52 285.21H646.42L640.97 275.21Z" fill="#fff" stroke="#000" stroke-width="1.2" stroke-linejoin="miter"/>
<path d="M639.31 284.03H650.21L644.76 274.03Z" fill="#fff" stroke="#000" stroke-width="1.2" stroke-linejoin="miter"/>
<path d="M643.1 281.66H654L648.55 271.66Z" fill="#fff" stroke="#000" stroke-width="1.2" stroke-linejoin="miter"/>
<path d="M646.89 279.29H657.79L652.34 269.29Z" fill="#fff" stroke="#000" stroke-width="1.2" stroke-linejoin="miter"/>
<path d="M650.68 276.9H661.58L656.13 266.9Z" fill="#fff" stroke="#000" stroke-width="1.2" stroke-linejoin="miter"/>
<path d="M654.48 274.2H665.38L659.93 264.2Z" fill="#fff" stroke="#000" stroke-width="1.2" stroke-linejoin="miter"/>
<path d="M658.27 271.49H669.17L663.72 261.49Z" fill="#fff" stroke="#000" stroke-width="1.2" stroke-linejoin="miter"/>
<path d="M662.06 268.78H672.96L667.51 258.78Z" fill="#fff" stroke="#000" stroke-width="1.2" stroke-linejoin="miter"/>
<path d="M665.85 265.7H676.75L671.3 255.7Z" fill="#fff" stroke="#000" stroke-width="1.2" stroke-linejoin="miter"/>
<path d="M669.64 261.91H680.54L675.09 251.91Z" fill="#fff" stroke="#000" stroke-width="1.2" stroke-linejoin="miter"/>
<path d="M673.43 258.12H684.33L678.88 248.12Z" fill="#fff" stroke="#000" stroke-width="1.2" stroke-linejoin="miter"/>
<path d="M677.23 255.09H688.13L682.68 245.09Z" fill="#fff" stroke="#000" stroke-width="1.2" stroke-linejoin="miter"/>
<path d="M681.02 252.38H691.92L686.47 242.38Z" fill="#fff" stroke="#000" stroke-width="1.2" stroke-linejoin="miter"/>
<path d="M684.81 253.4H695.71L690.26 243.4Z" fill="#fff" stroke="#000" stroke-width="1.2" stroke-linejoin="miter"/>
<path d="M688.6 254.94H699.5L694.05 244.94Z" fill="#fff" stroke="#000" stroke-width="1.2" stroke-linejoin="miter"/>
<path d="M692.39 250.68H703.29L697.84 240.68Z" fill="#fff" stroke="#000" stroke-width="1.2" stroke-linejoin="miter"/>
<path d="M696.18 246.41H707.08L701.63 236.41Z" fill="#fff" stroke="#000" stroke-width="1.2" stroke-linejoin="miter"/>
<path d="M699.98 246.57H710.88L705.43 236.57Z" fill="#fff" stroke="#000" stroke-width="1.2" stroke-linejoin="miter"/>
<path d="M703.77 247.61H714.67L709.22 237.61Z" fill="#fff" stroke="#000" stroke-width="1.2" stroke-linejoin="miter"/>
<path d="M707.56 249.5H718.46L713.01 239.5Z" fill="#fff" stroke="#000" stroke-width="1.2" stroke-linejoin="miter"/>
<path d="M711.35 251.2H722.25L716.8 241.2Z" fill="#fff" stroke="#000" stroke-width="1.2" stroke-linejoin="miter"/>
<path d="M715.14 252.15H726.04L720.59 242.15Z" fill="#fff" stroke="#000" stroke-width="1.2" stroke-linejoin="miter"/>
<path d="M718.93 253.07H729.83L724.38 243.07Z" fill="#fff" stroke="#000" stroke-width="1.2" stroke-linejoin="miter"/>
<path d="M722.73 253.78H733.63L728.18 243.78Z" fill="#fff" stroke="#000" stroke-width="1.2" stroke-linejoin="miter"/>
<path d="M726.52 254.49H737.42L731.97 244.49Z" fill="#fff" stroke="#000" stroke-width="1.2" stroke-linejoin="miter"/>
<path d="M730.31 257.86H741.21L735.76 247.86Z" fill="#fff" stroke="#000" stroke-width="1.2" stroke-linejoin="miter"/>
<path d="M734.1 261.26H745L739.55 251.26Z" fill="#fff" stroke="#000" stroke-width="1.2" stroke-linejoin="miter"/>
<path d="M737.89 264.14H748.79L743.34 254.14Z" fill="#fff" stroke="#000" stroke-width="1.2" stroke-linejoin="miter"/>
<path d="M741.68 266.49H752.58L747.13 256.49Z" fill="#fff" stroke="#000" stroke-width="1.2" stroke-linejoin="miter"/>
<path d="M745.48 268.83H756.38L750.93 258.83Z" fill="#fff" stroke="#000" stroke-width="1.2" stroke-linejoin="miter"/>
<path d="M749.27 270.86H760.17L754.72 260.86Z" fill="#fff" stroke="#000" stroke-width="1.2" stroke-linejoin="miter"/>
<path d="M753.06 272.75H763.96L758.51 262.75Z" fill="#fff" stroke="#000" stroke-width="1.2" stroke-linejoin="miter"/>
<path d="M756.85 274.65H767.75L762.3 264.65Z" fill="#fff" stroke="#000" stroke-width="1.2" stroke-linejoin="miter"/>
<path d="M760.64 276.56H771.54L766.09 266.56Z" fill="#fff" stroke="#000" stroke-width="1.2" stroke-linejoin="miter"/>
<path d="M764.43 278.51H775.33L769.88 268.51Z" fill="#fff" stroke="#000" stroke-width="1.2" stroke-linejoin="miter"/>
<path d="M768.23 280.45H779.13L773.68 270.45Z" fill="#fff" stroke="#000" stroke-width="1.2" stroke-linejoin="miter"/>
<path d="M772.02 282.4H782.92L777.47 272.4Z" fill="#fff" stroke="#000" stroke-width="1.2" stroke-linejoin="miter"/>
<path d="M775.81 284.35H786.71L781.26 274.35Z" fill="#fff" stroke="#000" stroke-width="1.2" stroke-linejoin="miter"/>
<path d="M779.6 286.32H790.5L785.05 276.32Z" fill="#fff" stroke="#000" stroke-width="1.2" stroke-linejoin="miter"/>
<path d="M783.39 288.29H794.29L788.84 278.29Z" fill="#fff" stroke="#000" stroke-width="1.2" stroke-linejoin="miter"/>
<path d="M787.18 290.25H798.08L792.63 280.25Z" fill="#fff" stroke="#000" stroke-width="1.2" stroke-linejoin="miter"/>
<path d="M790.98 292.21H801.88L796.43 282.21Z" fill="#fff" stroke="#000" stroke-width="1.2" stroke-linejoin="miter"/>
<path d="M794.77 294.11H805.67L800.22 284.11Z" fill="#fff" stroke="#000" stroke-width="1.2" stroke-linejoin="miter"/>
<path d="M798.56 296H809.46L804.01 286Z" fill="#fff" stroke="#000" stroke-width="1.2" stroke-linejoin="miter"/>
<path d="M802.35 297.81H813.25L807.8 287.81Z" fill="#fff" stroke="#000" stroke-width="1.2" stroke-linejoin="miter"/>
<path d="M806.14 299.52H817.04L811.59 289.52Z" fill="#fff" stroke="#000" stroke-width="1.2" stroke-linejoin="miter"/>
<path d="M809.93 301.22H820.83L815.38 291.22Z" fill="#fff" stroke="#000" stroke-width="1.2" stroke-linejoin="miter"/>
<path d="M813.73 302.77H824.63L819.18 292.77Z" fill="#fff" stroke="#000" stroke-width="1.2" stroke-linejoin="miter"/>
<path d="M817.52 304.29H828.42L822.97 294.29Z" fill="#fff" stroke="#000" stroke-width="1.2" stroke-linejoin="miter"/>
<path d="M821.31 305.71H832.21L826.76 295.71Z" fill="#fff" stroke="#000" stroke-width="1.2" stroke-linejoin="miter"/>
<path d="M825.1 306.76H836L830.55 296.76Z" fill="#fff" stroke="#000" stroke-width="1.2" stroke-linejoin="miter"/>
<path d="M828.89 307.82H839.79L834.34 297.82Z" fill="#fff" stroke="#000" stroke-width="1.2" stroke-linejoin="miter"/>
<circle cx="840.6" cy="56.4" r="5.75" fill="#000"/>
<text x="869.2" y="62.9" class="lg">&lt; 1 y</text>
<circle cx="840.6" cy="81.4" r="5.3" fill="#fff" stroke="#000" stroke-width="1.2"/>
<text x="868.8" y="88" class="lg">9 y</text>
<path d="M834.15 103.25H847.05L840.6 115.15Z" fill="#000"/>
<text x="868.8" y="112.9" class="lg">42 y</text>
<path d="M835.15 135.7H846.05L840.6 125.7Z" fill="#fff" stroke="#000" stroke-width="1.2" stroke-linejoin="miter"/>
<text x="874.2" y="138" class="lg">MF</text>
</svg></body></html>
